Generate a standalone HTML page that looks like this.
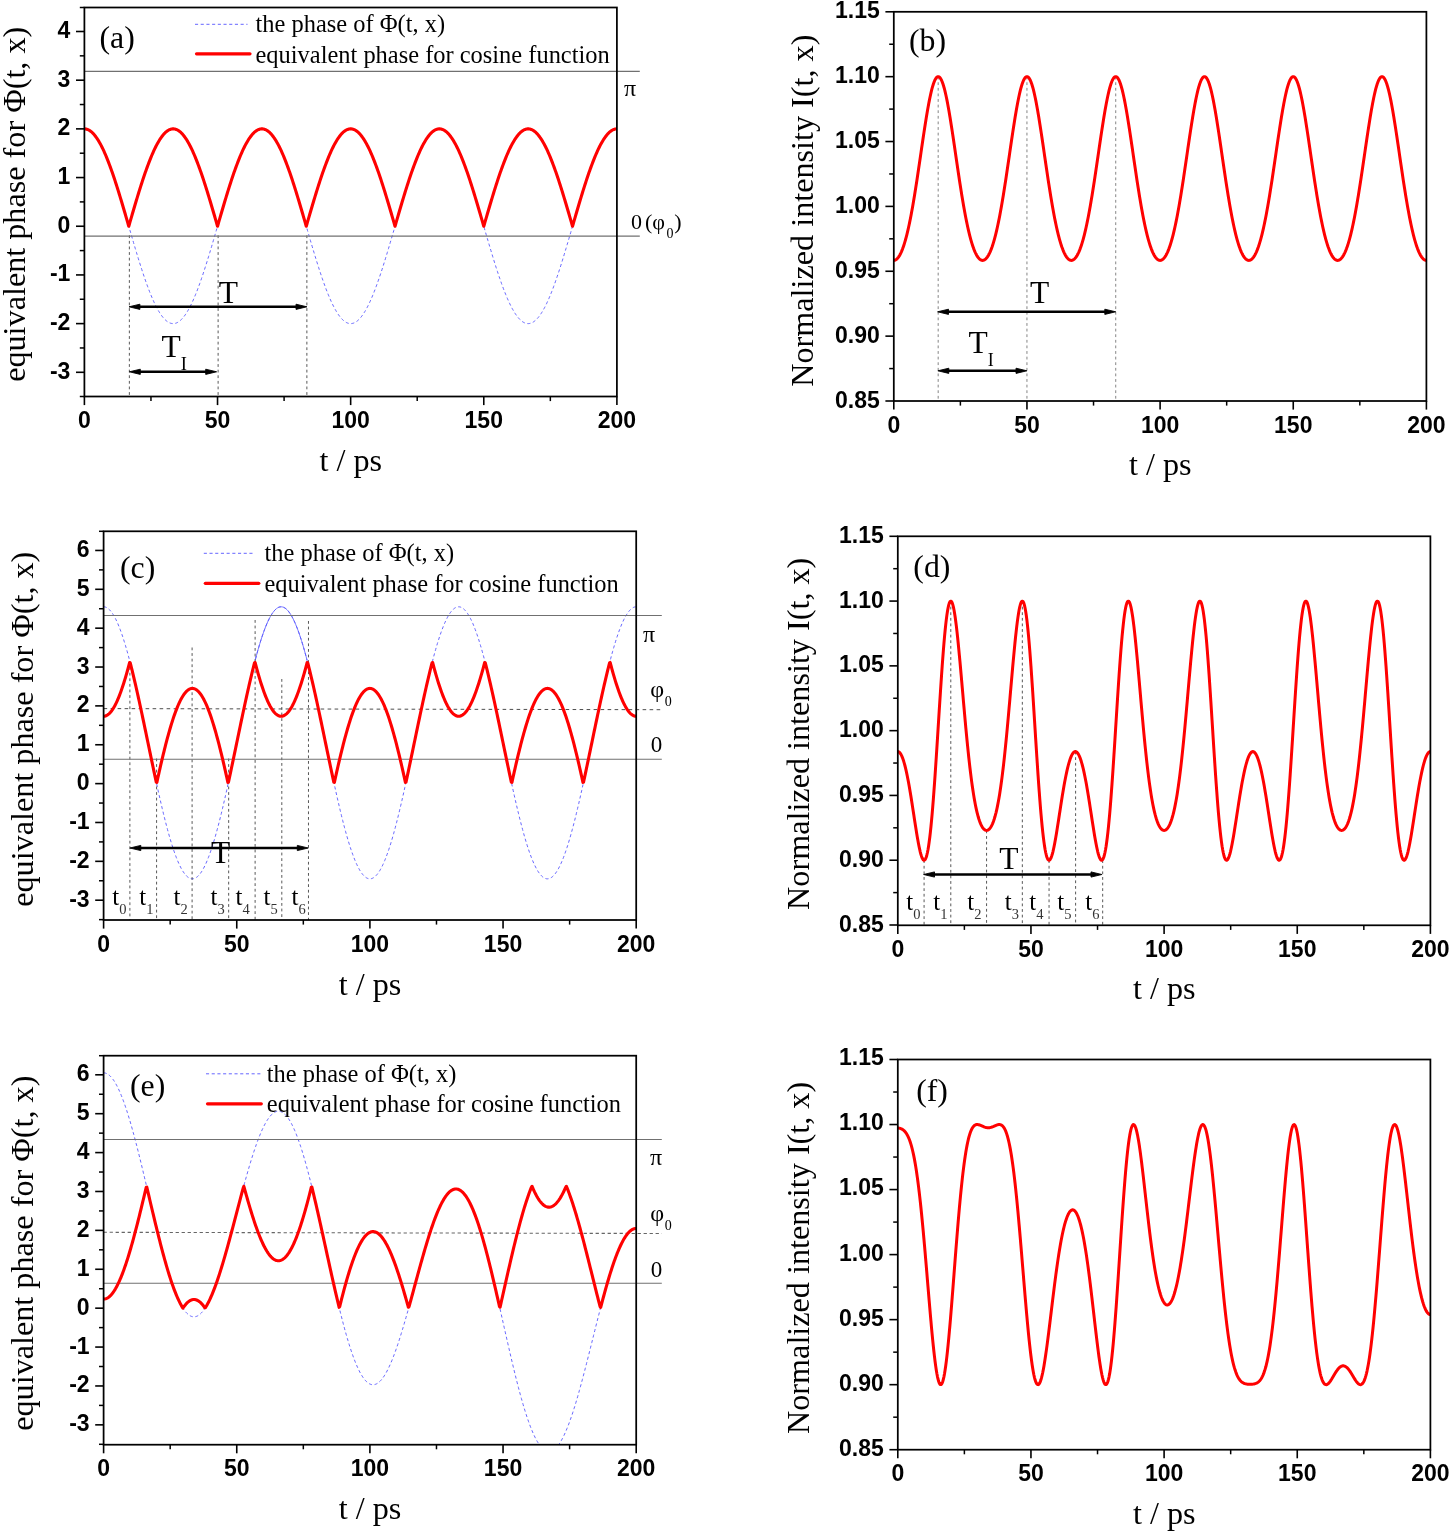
<!DOCTYPE html>
<html><head><meta charset="utf-8"><title>fig</title><style>
html,body{margin:0;padding:0;background:#fff;width:1451px;height:1532px;overflow:hidden}
svg{display:block;will-change:transform;opacity:0.999}
text{font-family:"Liberation Serif",serif;fill:#000}
.tk{font-family:"Liberation Sans",sans-serif;font-weight:bold;font-size:23px}
.ax{font-size:32.2px}
.lg{font-size:24.45px}
.pl{font-size:31.8px}
.T{font-size:31.5px}
.tl{font-size:25px}
.bl{stroke:#5555ff;stroke-width:0.9;stroke-dasharray:3.1 2.6}
.gl{stroke:#707070;stroke-width:1.1}
</style></head><body>
<svg width="1451" height="1532" viewBox="0 0 1451 1532">
<defs>
<clipPath id="cpa"><rect x="84.40" y="7.50" width="532.50" height="389.00"/></clipPath>
<clipPath id="cpb"><rect x="893.80" y="11.80" width="532.60" height="389.20"/></clipPath>
<clipPath id="cpc"><rect x="103.60" y="531.30" width="532.60" height="388.70"/></clipPath>
<clipPath id="cpd"><rect x="897.80" y="536.30" width="532.60" height="389.00"/></clipPath>
<clipPath id="cpe"><rect x="103.60" y="1055.70" width="532.60" height="389.00"/></clipPath>
<clipPath id="cpf"><rect x="897.80" y="1059.50" width="532.60" height="390.20"/></clipPath>
</defs>
<rect width="1451" height="1532" fill="#fff"/>
<g clip-path="url(#cpa)">
<path d="M84.40 128.87 L84.99 128.89 L85.58 128.96 L86.18 129.06 L86.77 129.21 L87.36 129.40 L87.95 129.64 L88.54 129.92 L89.13 130.24 L89.73 130.60 L90.32 131.00 L90.91 131.44 L91.50 131.93 L92.09 132.46 L92.68 133.03 L93.28 133.64 L93.87 134.29 L94.46 134.98 L95.05 135.71 L95.64 136.48 L96.23 137.29 L96.83 138.14 L97.42 139.03 L98.01 139.95 L98.60 140.92 L99.19 141.92 L99.78 142.95 L100.38 144.03 L100.97 145.14 L101.56 146.29 L102.15 147.47 L102.74 148.68 L103.33 149.93 L103.93 151.22 L104.52 152.53 L105.11 153.88 L105.70 155.26 L106.29 156.67 L106.88 158.12 L107.48 159.59 L108.07 161.09 L108.66 162.62 L109.25 164.18 L109.84 165.76 L110.43 167.37 L111.03 169.01 L111.62 170.67 L112.21 172.36 L112.80 174.07 L113.39 175.80 L113.98 177.56 L114.58 179.33 L115.17 181.13 L115.76 182.95 L116.35 184.78 L116.94 186.64 L117.53 188.51 L118.12 190.40 L118.72 192.30 L119.31 194.22 L119.90 196.15 L120.49 198.10 L121.08 200.06 L121.68 202.03 L122.27 204.01 L122.86 206.00 L123.45 208.00 L124.04 210.00 L124.63 212.02 L125.23 214.04 L125.82 216.06 L126.41 218.10 L127.00 220.13 L127.59 222.17 L128.18 224.20 L128.78 226.24 L129.37 228.28 L129.96 230.32 L130.55 232.36 L131.14 234.39 L131.73 236.42 L132.32 238.45 L132.92 240.47 L133.51 242.48 L134.10 244.49 L134.69 246.49 L135.28 248.48 L135.88 250.46 L136.47 252.43 L137.06 254.39 L137.65 256.33 L138.24 258.27 L138.83 260.18 L139.43 262.09 L140.02 263.98 L140.61 265.85 L141.20 267.70 L141.79 269.54 L142.38 271.35 L142.98 273.15 L143.57 274.93 L144.16 276.68 L144.75 278.42 L145.34 280.13 L145.93 281.81 L146.53 283.48 L147.12 285.11 L147.71 286.72 L148.30 288.31 L148.89 289.87 L149.48 291.40 L150.07 292.90 L150.67 294.37 L151.26 295.81 L151.85 297.22 L152.44 298.60 L153.03 299.95 L153.62 301.27 L154.22 302.55 L154.81 303.80 L155.40 305.02 L155.99 306.20 L156.58 307.35 L157.18 308.46 L157.77 309.53 L158.36 310.57 L158.95 311.57 L159.54 312.53 L160.13 313.46 L160.73 314.35 L161.32 315.20 L161.91 316.01 L162.50 316.78 L163.09 317.51 L163.68 318.20 L164.28 318.85 L164.87 319.46 L165.46 320.03 L166.05 320.56 L166.64 321.04 L167.23 321.49 L167.82 321.89 L168.42 322.25 L169.01 322.57 L169.60 322.85 L170.19 323.08 L170.78 323.27 L171.38 323.42 L171.97 323.53 L172.56 323.59 L173.15 323.61 L173.74 323.59 L174.33 323.53 L174.93 323.42 L175.52 323.27 L176.11 323.08 L176.70 322.85 L177.29 322.57 L177.88 322.25 L178.48 321.89 L179.07 321.49 L179.66 321.04 L180.25 320.56 L180.84 320.03 L181.43 319.46 L182.03 318.85 L182.62 318.20 L183.21 317.51 L183.80 316.78 L184.39 316.01 L184.98 315.20 L185.57 314.35 L186.17 313.46 L186.76 312.53 L187.35 311.57 L187.94 310.57 L188.53 309.53 L189.12 308.46 L189.72 307.35 L190.31 306.20 L190.90 305.02 L191.49 303.80 L192.08 302.55 L192.68 301.27 L193.27 299.95 L193.86 298.60 L194.45 297.22 L195.04 295.81 L195.63 294.37 L196.23 292.90 L196.82 291.40 L197.41 289.87 L198.00 288.31 L198.59 286.72 L199.18 285.11 L199.78 283.48 L200.37 281.81 L200.96 280.13 L201.55 278.42 L202.14 276.68 L202.73 274.93 L203.32 273.15 L203.92 271.35 L204.51 269.54 L205.10 267.70 L205.69 265.85 L206.28 263.98 L206.88 262.09 L207.47 260.18 L208.06 258.27 L208.65 256.33 L209.24 254.39 L209.83 252.43 L210.43 250.46 L211.02 248.48 L211.61 246.49 L212.20 244.49 L212.79 242.48 L213.38 240.47 L213.97 238.45 L214.57 236.42 L215.16 234.39 L215.75 232.36 L216.34 230.32 L216.93 228.28 L217.53 226.24 L218.12 224.20 L218.71 222.17 L219.30 220.13 L219.89 218.10 L220.48 216.06 L221.08 214.04 L221.67 212.02 L222.26 210.00 L222.85 208.00 L223.44 206.00 L224.03 204.01 L224.62 202.03 L225.22 200.06 L225.81 198.10 L226.40 196.15 L226.99 194.22 L227.58 192.30 L228.18 190.40 L228.77 188.51 L229.36 186.64 L229.95 184.78 L230.54 182.95 L231.13 181.13 L231.72 179.33 L232.32 177.56 L232.91 175.80 L233.50 174.07 L234.09 172.36 L234.68 170.67 L235.28 169.01 L235.87 167.37 L236.46 165.76 L237.05 164.18 L237.64 162.62 L238.23 161.09 L238.83 159.59 L239.42 158.12 L240.01 156.67 L240.60 155.26 L241.19 153.88 L241.78 152.53 L242.38 151.22 L242.97 149.93 L243.56 148.68 L244.15 147.47 L244.74 146.29 L245.33 145.14 L245.93 144.03 L246.52 142.95 L247.11 141.92 L247.70 140.92 L248.29 139.95 L248.88 139.03 L249.47 138.14 L250.07 137.29 L250.66 136.48 L251.25 135.71 L251.84 134.98 L252.43 134.29 L253.03 133.64 L253.62 133.03 L254.21 132.46 L254.80 131.93 L255.39 131.44 L255.98 131.00 L256.58 130.60 L257.17 130.24 L257.76 129.92 L258.35 129.64 L258.94 129.40 L259.53 129.21 L260.12 129.06 L260.72 128.96 L261.31 128.89 L261.90 128.87 L262.49 128.89 L263.08 128.96 L263.68 129.06 L264.27 129.21 L264.86 129.40 L265.45 129.64 L266.04 129.92 L266.63 130.24 L267.23 130.60 L267.82 131.00 L268.41 131.44 L269.00 131.93 L269.59 132.46 L270.18 133.03 L270.77 133.64 L271.37 134.29 L271.96 134.98 L272.55 135.71 L273.14 136.48 L273.73 137.29 L274.33 138.14 L274.92 139.03 L275.51 139.95 L276.10 140.92 L276.69 141.92 L277.28 142.95 L277.88 144.03 L278.47 145.14 L279.06 146.29 L279.65 147.47 L280.24 148.68 L280.83 149.93 L281.43 151.22 L282.02 152.53 L282.61 153.88 L283.20 155.26 L283.79 156.67 L284.38 158.12 L284.98 159.59 L285.57 161.09 L286.16 162.62 L286.75 164.18 L287.34 165.76 L287.93 167.37 L288.52 169.01 L289.12 170.67 L289.71 172.36 L290.30 174.07 L290.89 175.80 L291.48 177.56 L292.08 179.33 L292.67 181.13 L293.26 182.95 L293.85 184.78 L294.44 186.64 L295.03 188.51 L295.62 190.40 L296.22 192.30 L296.81 194.22 L297.40 196.15 L297.99 198.10 L298.58 200.06 L299.18 202.03 L299.77 204.01 L300.36 206.00 L300.95 208.00 L301.54 210.00 L302.13 212.02 L302.73 214.04 L303.32 216.06 L303.91 218.10 L304.50 220.13 L305.09 222.17 L305.68 224.20 L306.27 226.24 L306.87 228.28 L307.46 230.32 L308.05 232.36 L308.64 234.39 L309.23 236.42 L309.83 238.45 L310.42 240.47 L311.01 242.48 L311.60 244.49 L312.19 246.49 L312.78 248.48 L313.38 250.46 L313.97 252.43 L314.56 254.39 L315.15 256.33 L315.74 258.27 L316.33 260.18 L316.93 262.09 L317.52 263.98 L318.11 265.85 L318.70 267.70 L319.29 269.54 L319.88 271.35 L320.48 273.15 L321.07 274.93 L321.66 276.68 L322.25 278.42 L322.84 280.13 L323.43 281.81 L324.02 283.48 L324.62 285.11 L325.21 286.72 L325.80 288.31 L326.39 289.87 L326.98 291.40 L327.58 292.90 L328.17 294.37 L328.76 295.81 L329.35 297.22 L329.94 298.60 L330.53 299.95 L331.12 301.27 L331.72 302.55 L332.31 303.80 L332.90 305.02 L333.49 306.20 L334.08 307.35 L334.68 308.46 L335.27 309.53 L335.86 310.57 L336.45 311.57 L337.04 312.53 L337.63 313.46 L338.23 314.35 L338.82 315.20 L339.41 316.01 L340.00 316.78 L340.59 317.51 L341.18 318.20 L341.77 318.85 L342.37 319.46 L342.96 320.03 L343.55 320.56 L344.14 321.04 L344.73 321.49 L345.33 321.89 L345.92 322.25 L346.51 322.57 L347.10 322.85 L347.69 323.08 L348.28 323.27 L348.88 323.42 L349.47 323.53 L350.06 323.59 L350.65 323.61 L351.24 323.59 L351.83 323.53 L352.42 323.42 L353.02 323.27 L353.61 323.08 L354.20 322.85 L354.79 322.57 L355.38 322.25 L355.98 321.89 L356.57 321.49 L357.16 321.04 L357.75 320.56 L358.34 320.03 L358.93 319.46 L359.52 318.85 L360.12 318.20 L360.71 317.51 L361.30 316.78 L361.89 316.01 L362.48 315.20 L363.08 314.35 L363.67 313.46 L364.26 312.53 L364.85 311.57 L365.44 310.57 L366.03 309.53 L366.62 308.46 L367.22 307.35 L367.81 306.20 L368.40 305.02 L368.99 303.80 L369.58 302.55 L370.17 301.27 L370.77 299.95 L371.36 298.60 L371.95 297.22 L372.54 295.81 L373.13 294.37 L373.73 292.90 L374.32 291.40 L374.91 289.87 L375.50 288.31 L376.09 286.72 L376.68 285.11 L377.27 283.48 L377.87 281.81 L378.46 280.13 L379.05 278.42 L379.64 276.68 L380.23 274.93 L380.83 273.15 L381.42 271.35 L382.01 269.54 L382.60 267.70 L383.19 265.85 L383.78 263.98 L384.38 262.09 L384.97 260.18 L385.56 258.27 L386.15 256.33 L386.74 254.39 L387.33 252.43 L387.92 250.46 L388.52 248.48 L389.11 246.49 L389.70 244.49 L390.29 242.48 L390.88 240.47 L391.48 238.45 L392.07 236.42 L392.66 234.39 L393.25 232.36 L393.84 230.32 L394.43 228.28 L395.02 226.24 L395.62 224.20 L396.21 222.17 L396.80 220.13 L397.39 218.10 L397.98 216.06 L398.58 214.04 L399.17 212.02 L399.76 210.00 L400.35 208.00 L400.94 206.00 L401.53 204.01 L402.12 202.03 L402.72 200.06 L403.31 198.10 L403.90 196.15 L404.49 194.22 L405.08 192.30 L405.67 190.40 L406.27 188.51 L406.86 186.64 L407.45 184.78 L408.04 182.95 L408.63 181.13 L409.23 179.33 L409.82 177.56 L410.41 175.80 L411.00 174.07 L411.59 172.36 L412.18 170.67 L412.77 169.01 L413.37 167.37 L413.96 165.76 L414.55 164.18 L415.14 162.62 L415.73 161.09 L416.33 159.59 L416.92 158.12 L417.51 156.67 L418.10 155.26 L418.69 153.88 L419.28 152.53 L419.88 151.22 L420.47 149.93 L421.06 148.68 L421.65 147.47 L422.24 146.29 L422.83 145.14 L423.42 144.03 L424.02 142.95 L424.61 141.92 L425.20 140.92 L425.79 139.95 L426.38 139.03 L426.98 138.14 L427.57 137.29 L428.16 136.48 L428.75 135.71 L429.34 134.98 L429.93 134.29 L430.52 133.64 L431.12 133.03 L431.71 132.46 L432.30 131.93 L432.89 131.44 L433.48 131.00 L434.08 130.60 L434.67 130.24 L435.26 129.92 L435.85 129.64 L436.44 129.40 L437.03 129.21 L437.62 129.06 L438.22 128.96 L438.81 128.89 L439.40 128.87 L439.99 128.89 L440.58 128.96 L441.17 129.06 L441.77 129.21 L442.36 129.40 L442.95 129.64 L443.54 129.92 L444.13 130.24 L444.73 130.60 L445.32 131.00 L445.91 131.44 L446.50 131.93 L447.09 132.46 L447.68 133.03 L448.27 133.64 L448.87 134.29 L449.46 134.98 L450.05 135.71 L450.64 136.48 L451.23 137.29 L451.83 138.14 L452.42 139.03 L453.01 139.95 L453.60 140.92 L454.19 141.92 L454.78 142.95 L455.38 144.03 L455.97 145.14 L456.56 146.29 L457.15 147.47 L457.74 148.68 L458.33 149.93 L458.92 151.22 L459.52 152.53 L460.11 153.88 L460.70 155.26 L461.29 156.67 L461.88 158.12 L462.48 159.59 L463.07 161.09 L463.66 162.62 L464.25 164.18 L464.84 165.76 L465.43 167.37 L466.02 169.01 L466.62 170.67 L467.21 172.36 L467.80 174.07 L468.39 175.80 L468.98 177.56 L469.58 179.33 L470.17 181.13 L470.76 182.95 L471.35 184.78 L471.94 186.64 L472.53 188.51 L473.12 190.40 L473.72 192.30 L474.31 194.22 L474.90 196.15 L475.49 198.10 L476.08 200.06 L476.67 202.03 L477.27 204.01 L477.86 206.00 L478.45 208.00 L479.04 210.00 L479.63 212.02 L480.23 214.04 L480.82 216.06 L481.41 218.10 L482.00 220.13 L482.59 222.17 L483.18 224.20 L483.77 226.24 L484.37 228.28 L484.96 230.32 L485.55 232.36 L486.14 234.39 L486.73 236.42 L487.33 238.45 L487.92 240.47 L488.51 242.48 L489.10 244.49 L489.69 246.49 L490.28 248.48 L490.88 250.46 L491.47 252.43 L492.06 254.39 L492.65 256.33 L493.24 258.27 L493.83 260.18 L494.42 262.09 L495.02 263.98 L495.61 265.85 L496.20 267.70 L496.79 269.54 L497.38 271.35 L497.98 273.15 L498.57 274.93 L499.16 276.68 L499.75 278.42 L500.34 280.13 L500.93 281.81 L501.52 283.48 L502.12 285.11 L502.71 286.72 L503.30 288.31 L503.89 289.87 L504.48 291.40 L505.08 292.90 L505.67 294.37 L506.26 295.81 L506.85 297.22 L507.44 298.60 L508.03 299.95 L508.62 301.27 L509.22 302.55 L509.81 303.80 L510.40 305.02 L510.99 306.20 L511.58 307.35 L512.17 308.46 L512.77 309.53 L513.36 310.57 L513.95 311.57 L514.54 312.53 L515.13 313.46 L515.73 314.35 L516.32 315.20 L516.91 316.01 L517.50 316.78 L518.09 317.51 L518.68 318.20 L519.27 318.85 L519.87 319.46 L520.46 320.03 L521.05 320.56 L521.64 321.04 L522.23 321.49 L522.83 321.89 L523.42 322.25 L524.01 322.57 L524.60 322.85 L525.19 323.08 L525.78 323.27 L526.38 323.42 L526.97 323.53 L527.56 323.59 L528.15 323.61 L528.74 323.59 L529.33 323.53 L529.92 323.42 L530.52 323.27 L531.11 323.08 L531.70 322.85 L532.29 322.57 L532.88 322.25 L533.48 321.89 L534.07 321.49 L534.66 321.04 L535.25 320.56 L535.84 320.03 L536.43 319.46 L537.02 318.85 L537.62 318.20 L538.21 317.51 L538.80 316.78 L539.39 316.01 L539.98 315.20 L540.58 314.35 L541.17 313.46 L541.76 312.53 L542.35 311.57 L542.94 310.57 L543.53 309.53 L544.12 308.46 L544.72 307.35 L545.31 306.20 L545.90 305.02 L546.49 303.80 L547.08 302.55 L547.67 301.27 L548.27 299.95 L548.86 298.60 L549.45 297.22 L550.04 295.81 L550.63 294.37 L551.23 292.90 L551.82 291.40 L552.41 289.87 L553.00 288.31 L553.59 286.72 L554.18 285.11 L554.77 283.48 L555.37 281.81 L555.96 280.13 L556.55 278.42 L557.14 276.68 L557.73 274.93 L558.33 273.15 L558.92 271.35 L559.51 269.54 L560.10 267.70 L560.69 265.85 L561.28 263.98 L561.88 262.09 L562.47 260.18 L563.06 258.27 L563.65 256.33 L564.24 254.39 L564.83 252.43 L565.42 250.46 L566.02 248.48 L566.61 246.49 L567.20 244.49 L567.79 242.48 L568.38 240.47 L568.98 238.45 L569.57 236.42 L570.16 234.39 L570.75 232.36 L571.34 230.32 L571.93 228.28 L572.52 226.24 L573.12 224.20 L573.71 222.17 L574.30 220.13 L574.89 218.10 L575.48 216.06 L576.08 214.04 L576.67 212.02 L577.26 210.00 L577.85 208.00 L578.44 206.00 L579.03 204.01 L579.62 202.03 L580.22 200.06 L580.81 198.10 L581.40 196.15 L581.99 194.22 L582.58 192.30 L583.17 190.40 L583.77 188.51 L584.36 186.64 L584.95 184.78 L585.54 182.95 L586.13 181.13 L586.73 179.33 L587.32 177.56 L587.91 175.80 L588.50 174.07 L589.09 172.36 L589.68 170.67 L590.27 169.01 L590.87 167.37 L591.46 165.76 L592.05 164.18 L592.64 162.62 L593.23 161.09 L593.83 159.59 L594.42 158.12 L595.01 156.67 L595.60 155.26 L596.19 153.88 L596.78 152.53 L597.38 151.22 L597.97 149.93 L598.56 148.68 L599.15 147.47 L599.74 146.29 L600.33 145.14 L600.92 144.03 L601.52 142.95 L602.11 141.92 L602.70 140.92 L603.29 139.95 L603.88 139.03 L604.48 138.14 L605.07 137.29 L605.66 136.48 L606.25 135.71 L606.84 134.98 L607.43 134.29 L608.02 133.64 L608.62 133.03 L609.21 132.46 L609.80 131.93 L610.39 131.44 L610.98 131.00 L611.57 130.60 L612.17 130.24 L612.76 129.92 L613.35 129.64 L613.94 129.40 L614.53 129.21 L615.12 129.06 L615.72 128.96 L616.31 128.89 L616.90 128.87" class="bl" fill="none"/>
</g>
<line x1="129.36" y1="235.30" x2="129.36" y2="396.50" stroke="#3a3a3a" stroke-width="0.85" stroke-dasharray="2.8 2.8"/>
<line x1="218.11" y1="235.30" x2="218.11" y2="396.50" stroke="#3a3a3a" stroke-width="0.85" stroke-dasharray="2.8 2.8"/>
<line x1="306.86" y1="235.30" x2="306.86" y2="396.50" stroke="#3a3a3a" stroke-width="0.85" stroke-dasharray="2.8 2.8"/>
<line x1="84.40" y1="71.4" x2="639.8" y2="71.4" class="gl"/>
<line x1="84.40" y1="236.1" x2="639.8" y2="236.1" class="gl"/>
<path d="M84.40 128.87 L84.99 128.89 L85.58 128.96 L86.18 129.06 L86.77 129.21 L87.36 129.40 L87.95 129.64 L88.54 129.92 L89.13 130.24 L89.73 130.60 L90.32 131.00 L90.91 131.44 L91.50 131.93 L92.09 132.46 L92.68 133.03 L93.28 133.64 L93.87 134.29 L94.46 134.98 L95.05 135.71 L95.64 136.48 L96.23 137.29 L96.83 138.14 L97.42 139.03 L98.01 139.95 L98.60 140.92 L99.19 141.92 L99.78 142.95 L100.38 144.03 L100.97 145.14 L101.56 146.29 L102.15 147.47 L102.74 148.68 L103.33 149.93 L103.93 151.22 L104.52 152.53 L105.11 153.88 L105.70 155.26 L106.29 156.67 L106.88 158.12 L107.48 159.59 L108.07 161.09 L108.66 162.62 L109.25 164.18 L109.84 165.76 L110.43 167.37 L111.03 169.01 L111.62 170.67 L112.21 172.36 L112.80 174.07 L113.39 175.80 L113.98 177.56 L114.58 179.33 L115.17 181.13 L115.76 182.95 L116.35 184.78 L116.94 186.64 L117.53 188.51 L118.12 190.40 L118.72 192.30 L119.31 194.22 L119.90 196.15 L120.49 198.10 L121.08 200.06 L121.68 202.03 L122.27 204.01 L122.86 206.00 L123.45 208.00 L124.04 210.00 L124.63 212.02 L125.23 214.04 L125.82 216.06 L126.41 218.10 L127.00 220.13 L127.59 222.17 L128.18 224.20 L128.78 226.24 L129.37 224.20 L129.96 222.17 L130.55 220.13 L131.14 218.10 L131.73 216.06 L132.32 214.04 L132.92 212.02 L133.51 210.00 L134.10 208.00 L134.69 206.00 L135.28 204.01 L135.88 202.03 L136.47 200.06 L137.06 198.10 L137.65 196.15 L138.24 194.22 L138.83 192.30 L139.43 190.40 L140.02 188.51 L140.61 186.64 L141.20 184.78 L141.79 182.95 L142.38 181.13 L142.98 179.33 L143.57 177.56 L144.16 175.80 L144.75 174.07 L145.34 172.36 L145.93 170.67 L146.53 169.01 L147.12 167.37 L147.71 165.76 L148.30 164.18 L148.89 162.62 L149.48 161.09 L150.07 159.59 L150.67 158.12 L151.26 156.67 L151.85 155.26 L152.44 153.88 L153.03 152.53 L153.62 151.22 L154.22 149.93 L154.81 148.68 L155.40 147.47 L155.99 146.29 L156.58 145.14 L157.18 144.03 L157.77 142.95 L158.36 141.92 L158.95 140.92 L159.54 139.95 L160.13 139.03 L160.73 138.14 L161.32 137.29 L161.91 136.48 L162.50 135.71 L163.09 134.98 L163.68 134.29 L164.28 133.64 L164.87 133.03 L165.46 132.46 L166.05 131.93 L166.64 131.44 L167.23 131.00 L167.82 130.60 L168.42 130.24 L169.01 129.92 L169.60 129.64 L170.19 129.40 L170.78 129.21 L171.38 129.06 L171.97 128.96 L172.56 128.89 L173.15 128.87 L173.74 128.89 L174.33 128.96 L174.93 129.06 L175.52 129.21 L176.11 129.40 L176.70 129.64 L177.29 129.92 L177.88 130.24 L178.48 130.60 L179.07 131.00 L179.66 131.44 L180.25 131.93 L180.84 132.46 L181.43 133.03 L182.03 133.64 L182.62 134.29 L183.21 134.98 L183.80 135.71 L184.39 136.48 L184.98 137.29 L185.57 138.14 L186.17 139.03 L186.76 139.95 L187.35 140.92 L187.94 141.92 L188.53 142.95 L189.12 144.03 L189.72 145.14 L190.31 146.29 L190.90 147.47 L191.49 148.68 L192.08 149.93 L192.68 151.22 L193.27 152.53 L193.86 153.88 L194.45 155.26 L195.04 156.67 L195.63 158.12 L196.23 159.59 L196.82 161.09 L197.41 162.62 L198.00 164.18 L198.59 165.76 L199.18 167.37 L199.78 169.01 L200.37 170.67 L200.96 172.36 L201.55 174.07 L202.14 175.80 L202.73 177.56 L203.32 179.33 L203.92 181.13 L204.51 182.95 L205.10 184.78 L205.69 186.64 L206.28 188.51 L206.88 190.40 L207.47 192.30 L208.06 194.22 L208.65 196.15 L209.24 198.10 L209.83 200.06 L210.43 202.03 L211.02 204.01 L211.61 206.00 L212.20 208.00 L212.79 210.00 L213.38 212.02 L213.97 214.04 L214.57 216.06 L215.16 218.10 L215.75 220.13 L216.34 222.17 L216.93 224.20 L217.53 226.24 L218.12 224.20 L218.71 222.17 L219.30 220.13 L219.89 218.10 L220.48 216.06 L221.08 214.04 L221.67 212.02 L222.26 210.00 L222.85 208.00 L223.44 206.00 L224.03 204.01 L224.62 202.03 L225.22 200.06 L225.81 198.10 L226.40 196.15 L226.99 194.22 L227.58 192.30 L228.18 190.40 L228.77 188.51 L229.36 186.64 L229.95 184.78 L230.54 182.95 L231.13 181.13 L231.72 179.33 L232.32 177.56 L232.91 175.80 L233.50 174.07 L234.09 172.36 L234.68 170.67 L235.28 169.01 L235.87 167.37 L236.46 165.76 L237.05 164.18 L237.64 162.62 L238.23 161.09 L238.83 159.59 L239.42 158.12 L240.01 156.67 L240.60 155.26 L241.19 153.88 L241.78 152.53 L242.38 151.22 L242.97 149.93 L243.56 148.68 L244.15 147.47 L244.74 146.29 L245.33 145.14 L245.93 144.03 L246.52 142.95 L247.11 141.92 L247.70 140.92 L248.29 139.95 L248.88 139.03 L249.47 138.14 L250.07 137.29 L250.66 136.48 L251.25 135.71 L251.84 134.98 L252.43 134.29 L253.03 133.64 L253.62 133.03 L254.21 132.46 L254.80 131.93 L255.39 131.44 L255.98 131.00 L256.58 130.60 L257.17 130.24 L257.76 129.92 L258.35 129.64 L258.94 129.40 L259.53 129.21 L260.12 129.06 L260.72 128.96 L261.31 128.89 L261.90 128.87 L262.49 128.89 L263.08 128.96 L263.68 129.06 L264.27 129.21 L264.86 129.40 L265.45 129.64 L266.04 129.92 L266.63 130.24 L267.23 130.60 L267.82 131.00 L268.41 131.44 L269.00 131.93 L269.59 132.46 L270.18 133.03 L270.77 133.64 L271.37 134.29 L271.96 134.98 L272.55 135.71 L273.14 136.48 L273.73 137.29 L274.33 138.14 L274.92 139.03 L275.51 139.95 L276.10 140.92 L276.69 141.92 L277.28 142.95 L277.88 144.03 L278.47 145.14 L279.06 146.29 L279.65 147.47 L280.24 148.68 L280.83 149.93 L281.43 151.22 L282.02 152.53 L282.61 153.88 L283.20 155.26 L283.79 156.67 L284.38 158.12 L284.98 159.59 L285.57 161.09 L286.16 162.62 L286.75 164.18 L287.34 165.76 L287.93 167.37 L288.52 169.01 L289.12 170.67 L289.71 172.36 L290.30 174.07 L290.89 175.80 L291.48 177.56 L292.08 179.33 L292.67 181.13 L293.26 182.95 L293.85 184.78 L294.44 186.64 L295.03 188.51 L295.62 190.40 L296.22 192.30 L296.81 194.22 L297.40 196.15 L297.99 198.10 L298.58 200.06 L299.18 202.03 L299.77 204.01 L300.36 206.00 L300.95 208.00 L301.54 210.00 L302.13 212.02 L302.73 214.04 L303.32 216.06 L303.91 218.10 L304.50 220.13 L305.09 222.17 L305.68 224.20 L306.27 226.24 L306.87 224.20 L307.46 222.17 L308.05 220.13 L308.64 218.10 L309.23 216.06 L309.83 214.04 L310.42 212.02 L311.01 210.00 L311.60 208.00 L312.19 206.00 L312.78 204.01 L313.38 202.03 L313.97 200.06 L314.56 198.10 L315.15 196.15 L315.74 194.22 L316.33 192.30 L316.93 190.40 L317.52 188.51 L318.11 186.64 L318.70 184.78 L319.29 182.95 L319.88 181.13 L320.48 179.33 L321.07 177.56 L321.66 175.80 L322.25 174.07 L322.84 172.36 L323.43 170.67 L324.02 169.01 L324.62 167.37 L325.21 165.76 L325.80 164.18 L326.39 162.62 L326.98 161.09 L327.58 159.59 L328.17 158.12 L328.76 156.67 L329.35 155.26 L329.94 153.88 L330.53 152.53 L331.12 151.22 L331.72 149.93 L332.31 148.68 L332.90 147.47 L333.49 146.29 L334.08 145.14 L334.68 144.03 L335.27 142.95 L335.86 141.92 L336.45 140.92 L337.04 139.95 L337.63 139.03 L338.23 138.14 L338.82 137.29 L339.41 136.48 L340.00 135.71 L340.59 134.98 L341.18 134.29 L341.77 133.64 L342.37 133.03 L342.96 132.46 L343.55 131.93 L344.14 131.44 L344.73 131.00 L345.33 130.60 L345.92 130.24 L346.51 129.92 L347.10 129.64 L347.69 129.40 L348.28 129.21 L348.88 129.06 L349.47 128.96 L350.06 128.89 L350.65 128.87 L351.24 128.89 L351.83 128.96 L352.42 129.06 L353.02 129.21 L353.61 129.40 L354.20 129.64 L354.79 129.92 L355.38 130.24 L355.98 130.60 L356.57 131.00 L357.16 131.44 L357.75 131.93 L358.34 132.46 L358.93 133.03 L359.52 133.64 L360.12 134.29 L360.71 134.98 L361.30 135.71 L361.89 136.48 L362.48 137.29 L363.08 138.14 L363.67 139.03 L364.26 139.95 L364.85 140.92 L365.44 141.92 L366.03 142.95 L366.62 144.03 L367.22 145.14 L367.81 146.29 L368.40 147.47 L368.99 148.68 L369.58 149.93 L370.17 151.22 L370.77 152.53 L371.36 153.88 L371.95 155.26 L372.54 156.67 L373.13 158.12 L373.73 159.59 L374.32 161.09 L374.91 162.62 L375.50 164.18 L376.09 165.76 L376.68 167.37 L377.27 169.01 L377.87 170.67 L378.46 172.36 L379.05 174.07 L379.64 175.80 L380.23 177.56 L380.83 179.33 L381.42 181.13 L382.01 182.95 L382.60 184.78 L383.19 186.64 L383.78 188.51 L384.38 190.40 L384.97 192.30 L385.56 194.22 L386.15 196.15 L386.74 198.10 L387.33 200.06 L387.92 202.03 L388.52 204.01 L389.11 206.00 L389.70 208.00 L390.29 210.00 L390.88 212.02 L391.48 214.04 L392.07 216.06 L392.66 218.10 L393.25 220.13 L393.84 222.17 L394.43 224.20 L395.02 226.24 L395.62 224.20 L396.21 222.17 L396.80 220.13 L397.39 218.10 L397.98 216.06 L398.58 214.04 L399.17 212.02 L399.76 210.00 L400.35 208.00 L400.94 206.00 L401.53 204.01 L402.12 202.03 L402.72 200.06 L403.31 198.10 L403.90 196.15 L404.49 194.22 L405.08 192.30 L405.67 190.40 L406.27 188.51 L406.86 186.64 L407.45 184.78 L408.04 182.95 L408.63 181.13 L409.23 179.33 L409.82 177.56 L410.41 175.80 L411.00 174.07 L411.59 172.36 L412.18 170.67 L412.77 169.01 L413.37 167.37 L413.96 165.76 L414.55 164.18 L415.14 162.62 L415.73 161.09 L416.33 159.59 L416.92 158.12 L417.51 156.67 L418.10 155.26 L418.69 153.88 L419.28 152.53 L419.88 151.22 L420.47 149.93 L421.06 148.68 L421.65 147.47 L422.24 146.29 L422.83 145.14 L423.42 144.03 L424.02 142.95 L424.61 141.92 L425.20 140.92 L425.79 139.95 L426.38 139.03 L426.98 138.14 L427.57 137.29 L428.16 136.48 L428.75 135.71 L429.34 134.98 L429.93 134.29 L430.52 133.64 L431.12 133.03 L431.71 132.46 L432.30 131.93 L432.89 131.44 L433.48 131.00 L434.08 130.60 L434.67 130.24 L435.26 129.92 L435.85 129.64 L436.44 129.40 L437.03 129.21 L437.62 129.06 L438.22 128.96 L438.81 128.89 L439.40 128.87 L439.99 128.89 L440.58 128.96 L441.17 129.06 L441.77 129.21 L442.36 129.40 L442.95 129.64 L443.54 129.92 L444.13 130.24 L444.73 130.60 L445.32 131.00 L445.91 131.44 L446.50 131.93 L447.09 132.46 L447.68 133.03 L448.27 133.64 L448.87 134.29 L449.46 134.98 L450.05 135.71 L450.64 136.48 L451.23 137.29 L451.83 138.14 L452.42 139.03 L453.01 139.95 L453.60 140.92 L454.19 141.92 L454.78 142.95 L455.38 144.03 L455.97 145.14 L456.56 146.29 L457.15 147.47 L457.74 148.68 L458.33 149.93 L458.92 151.22 L459.52 152.53 L460.11 153.88 L460.70 155.26 L461.29 156.67 L461.88 158.12 L462.48 159.59 L463.07 161.09 L463.66 162.62 L464.25 164.18 L464.84 165.76 L465.43 167.37 L466.02 169.01 L466.62 170.67 L467.21 172.36 L467.80 174.07 L468.39 175.80 L468.98 177.56 L469.58 179.33 L470.17 181.13 L470.76 182.95 L471.35 184.78 L471.94 186.64 L472.53 188.51 L473.12 190.40 L473.72 192.30 L474.31 194.22 L474.90 196.15 L475.49 198.10 L476.08 200.06 L476.67 202.03 L477.27 204.01 L477.86 206.00 L478.45 208.00 L479.04 210.00 L479.63 212.02 L480.23 214.04 L480.82 216.06 L481.41 218.10 L482.00 220.13 L482.59 222.17 L483.18 224.20 L483.77 226.24 L484.37 224.20 L484.96 222.17 L485.55 220.13 L486.14 218.10 L486.73 216.06 L487.33 214.04 L487.92 212.02 L488.51 210.00 L489.10 208.00 L489.69 206.00 L490.28 204.01 L490.88 202.03 L491.47 200.06 L492.06 198.10 L492.65 196.15 L493.24 194.22 L493.83 192.30 L494.42 190.40 L495.02 188.51 L495.61 186.64 L496.20 184.78 L496.79 182.95 L497.38 181.13 L497.98 179.33 L498.57 177.56 L499.16 175.80 L499.75 174.07 L500.34 172.36 L500.93 170.67 L501.52 169.01 L502.12 167.37 L502.71 165.76 L503.30 164.18 L503.89 162.62 L504.48 161.09 L505.08 159.59 L505.67 158.12 L506.26 156.67 L506.85 155.26 L507.44 153.88 L508.03 152.53 L508.62 151.22 L509.22 149.93 L509.81 148.68 L510.40 147.47 L510.99 146.29 L511.58 145.14 L512.17 144.03 L512.77 142.95 L513.36 141.92 L513.95 140.92 L514.54 139.95 L515.13 139.03 L515.73 138.14 L516.32 137.29 L516.91 136.48 L517.50 135.71 L518.09 134.98 L518.68 134.29 L519.27 133.64 L519.87 133.03 L520.46 132.46 L521.05 131.93 L521.64 131.44 L522.23 131.00 L522.83 130.60 L523.42 130.24 L524.01 129.92 L524.60 129.64 L525.19 129.40 L525.78 129.21 L526.38 129.06 L526.97 128.96 L527.56 128.89 L528.15 128.87 L528.74 128.89 L529.33 128.96 L529.92 129.06 L530.52 129.21 L531.11 129.40 L531.70 129.64 L532.29 129.92 L532.88 130.24 L533.48 130.60 L534.07 131.00 L534.66 131.44 L535.25 131.93 L535.84 132.46 L536.43 133.03 L537.02 133.64 L537.62 134.29 L538.21 134.98 L538.80 135.71 L539.39 136.48 L539.98 137.29 L540.58 138.14 L541.17 139.03 L541.76 139.95 L542.35 140.92 L542.94 141.92 L543.53 142.95 L544.12 144.03 L544.72 145.14 L545.31 146.29 L545.90 147.47 L546.49 148.68 L547.08 149.93 L547.67 151.22 L548.27 152.53 L548.86 153.88 L549.45 155.26 L550.04 156.67 L550.63 158.12 L551.23 159.59 L551.82 161.09 L552.41 162.62 L553.00 164.18 L553.59 165.76 L554.18 167.37 L554.77 169.01 L555.37 170.67 L555.96 172.36 L556.55 174.07 L557.14 175.80 L557.73 177.56 L558.33 179.33 L558.92 181.13 L559.51 182.95 L560.10 184.78 L560.69 186.64 L561.28 188.51 L561.88 190.40 L562.47 192.30 L563.06 194.22 L563.65 196.15 L564.24 198.10 L564.83 200.06 L565.42 202.03 L566.02 204.01 L566.61 206.00 L567.20 208.00 L567.79 210.00 L568.38 212.02 L568.98 214.04 L569.57 216.06 L570.16 218.10 L570.75 220.13 L571.34 222.17 L571.93 224.20 L572.52 226.24 L573.12 224.20 L573.71 222.17 L574.30 220.13 L574.89 218.10 L575.48 216.06 L576.08 214.04 L576.67 212.02 L577.26 210.00 L577.85 208.00 L578.44 206.00 L579.03 204.01 L579.62 202.03 L580.22 200.06 L580.81 198.10 L581.40 196.15 L581.99 194.22 L582.58 192.30 L583.17 190.40 L583.77 188.51 L584.36 186.64 L584.95 184.78 L585.54 182.95 L586.13 181.13 L586.73 179.33 L587.32 177.56 L587.91 175.80 L588.50 174.07 L589.09 172.36 L589.68 170.67 L590.27 169.01 L590.87 167.37 L591.46 165.76 L592.05 164.18 L592.64 162.62 L593.23 161.09 L593.83 159.59 L594.42 158.12 L595.01 156.67 L595.60 155.26 L596.19 153.88 L596.78 152.53 L597.38 151.22 L597.97 149.93 L598.56 148.68 L599.15 147.47 L599.74 146.29 L600.33 145.14 L600.92 144.03 L601.52 142.95 L602.11 141.92 L602.70 140.92 L603.29 139.95 L603.88 139.03 L604.48 138.14 L605.07 137.29 L605.66 136.48 L606.25 135.71 L606.84 134.98 L607.43 134.29 L608.02 133.64 L608.62 133.03 L609.21 132.46 L609.80 131.93 L610.39 131.44 L610.98 131.00 L611.57 130.60 L612.17 130.24 L612.76 129.92 L613.35 129.64 L613.94 129.40 L614.53 129.21 L615.12 129.06 L615.72 128.96 L616.31 128.89 L616.90 128.87" stroke="#f00" stroke-width="3.1" fill="none" stroke-linejoin="round" clip-path="url(#cpa)"/>
<rect x="84.40" y="7.50" width="532.50" height="389.00" fill="none" stroke="#000" stroke-width="1.75"/>
<line x1="84.40" y1="396.50" x2="84.40" y2="405.10" stroke="#000" stroke-width="1.6"/>
<text x="84.40" y="427.90" class="tk" text-anchor="middle">0</text>
<line x1="217.53" y1="396.50" x2="217.53" y2="405.10" stroke="#000" stroke-width="1.6"/>
<text x="217.53" y="427.90" class="tk" text-anchor="middle">50</text>
<line x1="350.65" y1="396.50" x2="350.65" y2="405.10" stroke="#000" stroke-width="1.6"/>
<text x="350.65" y="427.90" class="tk" text-anchor="middle">100</text>
<line x1="483.77" y1="396.50" x2="483.77" y2="405.10" stroke="#000" stroke-width="1.6"/>
<text x="483.77" y="427.90" class="tk" text-anchor="middle">150</text>
<line x1="616.90" y1="396.50" x2="616.90" y2="405.10" stroke="#000" stroke-width="1.6"/>
<text x="616.90" y="427.90" class="tk" text-anchor="middle">200</text>
<line x1="150.96" y1="396.50" x2="150.96" y2="401.10" stroke="#000" stroke-width="1.5"/>
<line x1="284.09" y1="396.50" x2="284.09" y2="401.10" stroke="#000" stroke-width="1.5"/>
<line x1="417.21" y1="396.50" x2="417.21" y2="401.10" stroke="#000" stroke-width="1.5"/>
<line x1="550.34" y1="396.50" x2="550.34" y2="401.10" stroke="#000" stroke-width="1.5"/>
<line x1="76.00" y1="31.50" x2="84.40" y2="31.50" stroke="#000" stroke-width="1.6"/>
<text x="70.40" y="38.00" class="tk" text-anchor="end">4</text>
<line x1="76.00" y1="80.19" x2="84.40" y2="80.19" stroke="#000" stroke-width="1.6"/>
<text x="70.40" y="86.69" class="tk" text-anchor="end">3</text>
<line x1="76.00" y1="128.87" x2="84.40" y2="128.87" stroke="#000" stroke-width="1.6"/>
<text x="70.40" y="135.37" class="tk" text-anchor="end">2</text>
<line x1="76.00" y1="177.56" x2="84.40" y2="177.56" stroke="#000" stroke-width="1.6"/>
<text x="70.40" y="184.06" class="tk" text-anchor="end">1</text>
<line x1="76.00" y1="226.24" x2="84.40" y2="226.24" stroke="#000" stroke-width="1.6"/>
<text x="70.40" y="232.74" class="tk" text-anchor="end">0</text>
<line x1="76.00" y1="274.93" x2="84.40" y2="274.93" stroke="#000" stroke-width="1.6"/>
<text x="70.40" y="281.43" class="tk" text-anchor="end">-1</text>
<line x1="76.00" y1="323.61" x2="84.40" y2="323.61" stroke="#000" stroke-width="1.6"/>
<text x="70.40" y="330.11" class="tk" text-anchor="end">-2</text>
<line x1="76.00" y1="372.30" x2="84.40" y2="372.30" stroke="#000" stroke-width="1.6"/>
<text x="70.40" y="378.80" class="tk" text-anchor="end">-3</text>
<line x1="79.80" y1="7.50" x2="84.40" y2="7.50" stroke="#000" stroke-width="1.5"/>
<line x1="79.80" y1="55.84" x2="84.40" y2="55.84" stroke="#000" stroke-width="1.5"/>
<line x1="79.80" y1="104.53" x2="84.40" y2="104.53" stroke="#000" stroke-width="1.5"/>
<line x1="79.80" y1="153.21" x2="84.40" y2="153.21" stroke="#000" stroke-width="1.5"/>
<line x1="79.80" y1="201.90" x2="84.40" y2="201.90" stroke="#000" stroke-width="1.5"/>
<line x1="79.80" y1="250.59" x2="84.40" y2="250.59" stroke="#000" stroke-width="1.5"/>
<line x1="79.80" y1="299.27" x2="84.40" y2="299.27" stroke="#000" stroke-width="1.5"/>
<line x1="79.80" y1="347.96" x2="84.40" y2="347.96" stroke="#000" stroke-width="1.5"/>
<line x1="79.80" y1="396.50" x2="84.40" y2="396.50" stroke="#000" stroke-width="1.5"/>
<text x="350.85" y="470.70" class="ax" text-anchor="middle">t / ps</text>
<text transform="translate(25.00 204.30) rotate(-90)" class="ax" text-anchor="middle">equivalent phase for Φ(t, x)</text>
<line x1="138.90" y1="306.80" x2="297.00" y2="306.80" stroke="#000" stroke-width="2.4"/>
<path d="M129.00 306.80 L139.90 304.20 L139.90 309.40 Z" fill="#000" stroke="#000" stroke-width="0.9" stroke-linejoin="round"/>
<path d="M306.90 306.80 L296.00 304.20 L296.00 309.40 Z" fill="#000" stroke="#000" stroke-width="0.9" stroke-linejoin="round"/>
<line x1="139.30" y1="371.80" x2="206.70" y2="371.80" stroke="#000" stroke-width="2.4"/>
<path d="M129.40 371.80 L140.30 369.20 L140.30 374.40 Z" fill="#000" stroke="#000" stroke-width="0.9" stroke-linejoin="round"/>
<path d="M216.60 371.80 L205.70 369.20 L205.70 374.40 Z" fill="#000" stroke="#000" stroke-width="0.9" stroke-linejoin="round"/>
<text x="228.3" y="303.2" class="T" text-anchor="middle">T</text>
<text x="161.6" y="357.4" class="T">T<tspan font-size="18.5" dy="12.2">I</tspan></text>
<line x1="195.00" y1="24.30" x2="247.50" y2="24.30" class="bl"/>
<line x1="196.50" y1="53.80" x2="250.00" y2="53.80" stroke="#f00" stroke-width="3.2" stroke-linecap="round"/>
<text x="255.50" y="32.20" class="lg">the phase of Φ(t, x)</text>
<text x="255.50" y="62.90" class="lg">equivalent phase for cosine function</text>
<text x="99.5" y="48" class="pl">(a)</text>
<text x="624" y="96" class="rl" font-size="24">π</text>
<text x="631" y="228.8" class="rl" font-size="22">0<tspan dx="3">(φ</tspan><tspan font-size="14" dy="9" dx="1.5">0</tspan><tspan dy="-9" dx="0.6">)</tspan></text>
<line x1="938.18" y1="76.67" x2="938.18" y2="401.00" stroke="#666" stroke-width="0.80" stroke-dasharray="2.8 2.8"/>
<line x1="1026.95" y1="76.67" x2="1026.95" y2="401.00" stroke="#666" stroke-width="0.80" stroke-dasharray="2.8 2.8"/>
<line x1="1115.72" y1="76.67" x2="1115.72" y2="401.00" stroke="#666" stroke-width="0.80" stroke-dasharray="2.8 2.8"/>
<path d="M893.80 260.39 L894.39 260.34 L894.98 260.18 L895.58 259.92 L896.17 259.56 L896.76 259.09 L897.35 258.52 L897.94 257.84 L898.53 257.06 L899.13 256.18 L899.72 255.18 L900.31 254.08 L900.90 252.87 L901.49 251.56 L902.08 250.13 L902.68 248.60 L903.27 246.96 L903.86 245.21 L904.45 243.34 L905.04 241.37 L905.64 239.29 L906.23 237.09 L906.82 234.79 L907.41 232.38 L908.00 229.86 L908.59 227.23 L909.19 224.49 L909.78 221.65 L910.37 218.71 L910.96 215.67 L911.55 212.53 L912.15 209.29 L912.74 205.96 L913.33 202.54 L913.92 199.03 L914.51 195.45 L915.10 191.79 L915.70 188.06 L916.29 184.26 L916.88 180.41 L917.47 176.50 L918.06 172.55 L918.65 168.56 L919.25 164.54 L919.84 160.50 L920.43 156.45 L921.02 152.39 L921.61 148.34 L922.21 144.30 L922.80 140.29 L923.39 136.30 L923.98 132.37 L924.57 128.49 L925.16 124.67 L925.76 120.93 L926.35 117.28 L926.94 113.72 L927.53 110.27 L928.12 106.94 L928.71 103.73 L929.31 100.66 L929.90 97.75 L930.49 94.98 L931.08 92.39 L931.67 89.96 L932.27 87.72 L932.86 85.67 L933.45 83.82 L934.04 82.16 L934.63 80.72 L935.22 79.49 L935.82 78.48 L936.41 77.69 L937.00 77.12 L937.59 76.78 L938.18 76.67 L938.78 76.78 L939.37 77.12 L939.96 77.69 L940.55 78.48 L941.14 79.49 L941.73 80.72 L942.33 82.16 L942.92 83.82 L943.51 85.67 L944.10 87.72 L944.69 89.96 L945.28 92.39 L945.88 94.98 L946.47 97.75 L947.06 100.66 L947.65 103.73 L948.24 106.94 L948.84 110.27 L949.43 113.72 L950.02 117.28 L950.61 120.93 L951.20 124.67 L951.79 128.49 L952.39 132.37 L952.98 136.30 L953.57 140.29 L954.16 144.30 L954.75 148.34 L955.34 152.39 L955.94 156.45 L956.53 160.50 L957.12 164.54 L957.71 168.56 L958.30 172.55 L958.90 176.50 L959.49 180.41 L960.08 184.26 L960.67 188.06 L961.26 191.79 L961.85 195.45 L962.45 199.03 L963.04 202.54 L963.63 205.96 L964.22 209.29 L964.81 212.53 L965.41 215.67 L966.00 218.71 L966.59 221.65 L967.18 224.49 L967.77 227.23 L968.36 229.86 L968.96 232.38 L969.55 234.79 L970.14 237.09 L970.73 239.29 L971.32 241.37 L971.91 243.34 L972.51 245.21 L973.10 246.96 L973.69 248.60 L974.28 250.13 L974.87 251.56 L975.47 252.87 L976.06 254.08 L976.65 255.18 L977.24 256.18 L977.83 257.06 L978.42 257.84 L979.02 258.52 L979.61 259.09 L980.20 259.56 L980.79 259.92 L981.38 260.18 L981.97 260.34 L982.57 260.39 L983.16 260.34 L983.75 260.18 L984.34 259.92 L984.93 259.56 L985.53 259.09 L986.12 258.52 L986.71 257.84 L987.30 257.06 L987.89 256.18 L988.48 255.18 L989.08 254.08 L989.67 252.87 L990.26 251.56 L990.85 250.13 L991.44 248.60 L992.04 246.96 L992.63 245.21 L993.22 243.34 L993.81 241.37 L994.40 239.29 L994.99 237.09 L995.59 234.79 L996.18 232.38 L996.77 229.86 L997.36 227.23 L997.95 224.49 L998.54 221.65 L999.14 218.71 L999.73 215.67 L1000.32 212.53 L1000.91 209.29 L1001.50 205.96 L1002.10 202.54 L1002.69 199.03 L1003.28 195.45 L1003.87 191.79 L1004.46 188.06 L1005.05 184.26 L1005.65 180.41 L1006.24 176.50 L1006.83 172.55 L1007.42 168.56 L1008.01 164.54 L1008.60 160.50 L1009.20 156.45 L1009.79 152.39 L1010.38 148.34 L1010.97 144.30 L1011.56 140.29 L1012.16 136.30 L1012.75 132.37 L1013.34 128.49 L1013.93 124.67 L1014.52 120.93 L1015.11 117.28 L1015.71 113.72 L1016.30 110.27 L1016.89 106.94 L1017.48 103.73 L1018.07 100.66 L1018.67 97.75 L1019.26 94.98 L1019.85 92.39 L1020.44 89.96 L1021.03 87.72 L1021.62 85.67 L1022.22 83.82 L1022.81 82.16 L1023.40 80.72 L1023.99 79.49 L1024.58 78.48 L1025.17 77.69 L1025.77 77.12 L1026.36 76.78 L1026.95 76.67 L1027.54 76.78 L1028.13 77.12 L1028.73 77.69 L1029.32 78.48 L1029.91 79.49 L1030.50 80.72 L1031.09 82.16 L1031.68 83.82 L1032.28 85.67 L1032.87 87.72 L1033.46 89.96 L1034.05 92.39 L1034.64 94.98 L1035.23 97.75 L1035.83 100.66 L1036.42 103.73 L1037.01 106.94 L1037.60 110.27 L1038.19 113.72 L1038.79 117.28 L1039.38 120.93 L1039.97 124.67 L1040.56 128.49 L1041.15 132.37 L1041.74 136.30 L1042.34 140.29 L1042.93 144.30 L1043.52 148.34 L1044.11 152.39 L1044.70 156.45 L1045.30 160.50 L1045.89 164.54 L1046.48 168.56 L1047.07 172.55 L1047.66 176.50 L1048.25 180.41 L1048.85 184.26 L1049.44 188.06 L1050.03 191.79 L1050.62 195.45 L1051.21 199.03 L1051.80 202.54 L1052.40 205.96 L1052.99 209.29 L1053.58 212.53 L1054.17 215.67 L1054.76 218.71 L1055.36 221.65 L1055.95 224.49 L1056.54 227.23 L1057.13 229.86 L1057.72 232.38 L1058.31 234.79 L1058.91 237.09 L1059.50 239.29 L1060.09 241.37 L1060.68 243.34 L1061.27 245.21 L1061.86 246.96 L1062.46 248.60 L1063.05 250.13 L1063.64 251.56 L1064.23 252.87 L1064.82 254.08 L1065.42 255.18 L1066.01 256.18 L1066.60 257.06 L1067.19 257.84 L1067.78 258.52 L1068.37 259.09 L1068.97 259.56 L1069.56 259.92 L1070.15 260.18 L1070.74 260.34 L1071.33 260.39 L1071.93 260.34 L1072.52 260.18 L1073.11 259.92 L1073.70 259.56 L1074.29 259.09 L1074.88 258.52 L1075.48 257.84 L1076.07 257.06 L1076.66 256.18 L1077.25 255.18 L1077.84 254.08 L1078.43 252.87 L1079.03 251.56 L1079.62 250.13 L1080.21 248.60 L1080.80 246.96 L1081.39 245.21 L1081.99 243.34 L1082.58 241.37 L1083.17 239.29 L1083.76 237.09 L1084.35 234.79 L1084.94 232.38 L1085.54 229.86 L1086.13 227.23 L1086.72 224.49 L1087.31 221.65 L1087.90 218.71 L1088.49 215.67 L1089.09 212.53 L1089.68 209.29 L1090.27 205.96 L1090.86 202.54 L1091.45 199.03 L1092.05 195.45 L1092.64 191.79 L1093.23 188.06 L1093.82 184.26 L1094.41 180.41 L1095.00 176.50 L1095.60 172.55 L1096.19 168.56 L1096.78 164.54 L1097.37 160.50 L1097.96 156.45 L1098.56 152.39 L1099.15 148.34 L1099.74 144.30 L1100.33 140.29 L1100.92 136.30 L1101.51 132.37 L1102.11 128.49 L1102.70 124.67 L1103.29 120.93 L1103.88 117.28 L1104.47 113.72 L1105.06 110.27 L1105.66 106.94 L1106.25 103.73 L1106.84 100.66 L1107.43 97.75 L1108.02 94.98 L1108.62 92.39 L1109.21 89.96 L1109.80 87.72 L1110.39 85.67 L1110.98 83.82 L1111.57 82.16 L1112.17 80.72 L1112.76 79.49 L1113.35 78.48 L1113.94 77.69 L1114.53 77.12 L1115.12 76.78 L1115.72 76.67 L1116.31 76.78 L1116.90 77.12 L1117.49 77.69 L1118.08 78.48 L1118.68 79.49 L1119.27 80.72 L1119.86 82.16 L1120.45 83.82 L1121.04 85.67 L1121.63 87.72 L1122.23 89.96 L1122.82 92.39 L1123.41 94.98 L1124.00 97.75 L1124.59 100.66 L1125.19 103.73 L1125.78 106.94 L1126.37 110.27 L1126.96 113.72 L1127.55 117.28 L1128.14 120.93 L1128.74 124.67 L1129.33 128.49 L1129.92 132.37 L1130.51 136.30 L1131.10 140.29 L1131.69 144.30 L1132.29 148.34 L1132.88 152.39 L1133.47 156.45 L1134.06 160.50 L1134.65 164.54 L1135.25 168.56 L1135.84 172.55 L1136.43 176.50 L1137.02 180.41 L1137.61 184.26 L1138.20 188.06 L1138.80 191.79 L1139.39 195.45 L1139.98 199.03 L1140.57 202.54 L1141.16 205.96 L1141.75 209.29 L1142.35 212.53 L1142.94 215.67 L1143.53 218.71 L1144.12 221.65 L1144.71 224.49 L1145.31 227.23 L1145.90 229.86 L1146.49 232.38 L1147.08 234.79 L1147.67 237.09 L1148.26 239.29 L1148.86 241.37 L1149.45 243.34 L1150.04 245.21 L1150.63 246.96 L1151.22 248.60 L1151.82 250.13 L1152.41 251.56 L1153.00 252.87 L1153.59 254.08 L1154.18 255.18 L1154.77 256.18 L1155.37 257.06 L1155.96 257.84 L1156.55 258.52 L1157.14 259.09 L1157.73 259.56 L1158.32 259.92 L1158.92 260.18 L1159.51 260.34 L1160.10 260.39 L1160.69 260.34 L1161.28 260.18 L1161.88 259.92 L1162.47 259.56 L1163.06 259.09 L1163.65 258.52 L1164.24 257.84 L1164.83 257.06 L1165.43 256.18 L1166.02 255.18 L1166.61 254.08 L1167.20 252.87 L1167.79 251.56 L1168.38 250.13 L1168.98 248.60 L1169.57 246.96 L1170.16 245.21 L1170.75 243.34 L1171.34 241.37 L1171.94 239.29 L1172.53 237.09 L1173.12 234.79 L1173.71 232.38 L1174.30 229.86 L1174.89 227.23 L1175.49 224.49 L1176.08 221.65 L1176.67 218.71 L1177.26 215.67 L1177.85 212.53 L1178.45 209.29 L1179.04 205.96 L1179.63 202.54 L1180.22 199.03 L1180.81 195.45 L1181.40 191.79 L1182.00 188.06 L1182.59 184.26 L1183.18 180.41 L1183.77 176.50 L1184.36 172.55 L1184.95 168.56 L1185.55 164.54 L1186.14 160.50 L1186.73 156.45 L1187.32 152.39 L1187.91 148.34 L1188.51 144.30 L1189.10 140.29 L1189.69 136.30 L1190.28 132.37 L1190.87 128.49 L1191.46 124.67 L1192.06 120.93 L1192.65 117.28 L1193.24 113.72 L1193.83 110.27 L1194.42 106.94 L1195.01 103.73 L1195.61 100.66 L1196.20 97.75 L1196.79 94.98 L1197.38 92.39 L1197.97 89.96 L1198.57 87.72 L1199.16 85.67 L1199.75 83.82 L1200.34 82.16 L1200.93 80.72 L1201.52 79.49 L1202.12 78.48 L1202.71 77.69 L1203.30 77.12 L1203.89 76.78 L1204.48 76.67 L1205.08 76.78 L1205.67 77.12 L1206.26 77.69 L1206.85 78.48 L1207.44 79.49 L1208.03 80.72 L1208.63 82.16 L1209.22 83.82 L1209.81 85.67 L1210.40 87.72 L1210.99 89.96 L1211.58 92.39 L1212.18 94.98 L1212.77 97.75 L1213.36 100.66 L1213.95 103.73 L1214.54 106.94 L1215.14 110.27 L1215.73 113.72 L1216.32 117.28 L1216.91 120.93 L1217.50 124.67 L1218.09 128.49 L1218.69 132.37 L1219.28 136.30 L1219.87 140.29 L1220.46 144.30 L1221.05 148.34 L1221.64 152.39 L1222.24 156.45 L1222.83 160.50 L1223.42 164.54 L1224.01 168.56 L1224.60 172.55 L1225.20 176.50 L1225.79 180.41 L1226.38 184.26 L1226.97 188.06 L1227.56 191.79 L1228.15 195.45 L1228.75 199.03 L1229.34 202.54 L1229.93 205.96 L1230.52 209.29 L1231.11 212.53 L1231.71 215.67 L1232.30 218.71 L1232.89 221.65 L1233.48 224.49 L1234.07 227.23 L1234.66 229.86 L1235.26 232.38 L1235.85 234.79 L1236.44 237.09 L1237.03 239.29 L1237.62 241.37 L1238.21 243.34 L1238.81 245.21 L1239.40 246.96 L1239.99 248.60 L1240.58 250.13 L1241.17 251.56 L1241.77 252.87 L1242.36 254.08 L1242.95 255.18 L1243.54 256.18 L1244.13 257.06 L1244.72 257.84 L1245.32 258.52 L1245.91 259.09 L1246.50 259.56 L1247.09 259.92 L1247.68 260.18 L1248.27 260.34 L1248.87 260.39 L1249.46 260.34 L1250.05 260.18 L1250.64 259.92 L1251.23 259.56 L1251.83 259.09 L1252.42 258.52 L1253.01 257.84 L1253.60 257.06 L1254.19 256.18 L1254.78 255.18 L1255.38 254.08 L1255.97 252.87 L1256.56 251.56 L1257.15 250.13 L1257.74 248.60 L1258.34 246.96 L1258.93 245.21 L1259.52 243.34 L1260.11 241.37 L1260.70 239.29 L1261.29 237.09 L1261.89 234.79 L1262.48 232.38 L1263.07 229.86 L1263.66 227.23 L1264.25 224.49 L1264.84 221.65 L1265.44 218.71 L1266.03 215.67 L1266.62 212.53 L1267.21 209.29 L1267.80 205.96 L1268.40 202.54 L1268.99 199.03 L1269.58 195.45 L1270.17 191.79 L1270.76 188.06 L1271.35 184.26 L1271.95 180.41 L1272.54 176.50 L1273.13 172.55 L1273.72 168.56 L1274.31 164.54 L1274.90 160.50 L1275.50 156.45 L1276.09 152.39 L1276.68 148.34 L1277.27 144.30 L1277.86 140.29 L1278.46 136.30 L1279.05 132.37 L1279.64 128.49 L1280.23 124.67 L1280.82 120.93 L1281.41 117.28 L1282.01 113.72 L1282.60 110.27 L1283.19 106.94 L1283.78 103.73 L1284.37 100.66 L1284.97 97.75 L1285.56 94.98 L1286.15 92.39 L1286.74 89.96 L1287.33 87.72 L1287.92 85.67 L1288.52 83.82 L1289.11 82.16 L1289.70 80.72 L1290.29 79.49 L1290.88 78.48 L1291.47 77.69 L1292.07 77.12 L1292.66 76.78 L1293.25 76.67 L1293.84 76.78 L1294.43 77.12 L1295.03 77.69 L1295.62 78.48 L1296.21 79.49 L1296.80 80.72 L1297.39 82.16 L1297.98 83.82 L1298.58 85.67 L1299.17 87.72 L1299.76 89.96 L1300.35 92.39 L1300.94 94.98 L1301.53 97.75 L1302.13 100.66 L1302.72 103.73 L1303.31 106.94 L1303.90 110.27 L1304.49 113.72 L1305.09 117.28 L1305.68 120.93 L1306.27 124.67 L1306.86 128.49 L1307.45 132.37 L1308.04 136.30 L1308.64 140.29 L1309.23 144.30 L1309.82 148.34 L1310.41 152.39 L1311.00 156.45 L1311.60 160.50 L1312.19 164.54 L1312.78 168.56 L1313.37 172.55 L1313.96 176.50 L1314.55 180.41 L1315.15 184.26 L1315.74 188.06 L1316.33 191.79 L1316.92 195.45 L1317.51 199.03 L1318.10 202.54 L1318.70 205.96 L1319.29 209.29 L1319.88 212.53 L1320.47 215.67 L1321.06 218.71 L1321.66 221.65 L1322.25 224.49 L1322.84 227.23 L1323.43 229.86 L1324.02 232.38 L1324.61 234.79 L1325.21 237.09 L1325.80 239.29 L1326.39 241.37 L1326.98 243.34 L1327.57 245.21 L1328.16 246.96 L1328.76 248.60 L1329.35 250.13 L1329.94 251.56 L1330.53 252.87 L1331.12 254.08 L1331.72 255.18 L1332.31 256.18 L1332.90 257.06 L1333.49 257.84 L1334.08 258.52 L1334.67 259.09 L1335.27 259.56 L1335.86 259.92 L1336.45 260.18 L1337.04 260.34 L1337.63 260.39 L1338.23 260.34 L1338.82 260.18 L1339.41 259.92 L1340.00 259.56 L1340.59 259.09 L1341.18 258.52 L1341.78 257.84 L1342.37 257.06 L1342.96 256.18 L1343.55 255.18 L1344.14 254.08 L1344.73 252.87 L1345.33 251.56 L1345.92 250.13 L1346.51 248.60 L1347.10 246.96 L1347.69 245.21 L1348.29 243.34 L1348.88 241.37 L1349.47 239.29 L1350.06 237.09 L1350.65 234.79 L1351.24 232.38 L1351.84 229.86 L1352.43 227.23 L1353.02 224.49 L1353.61 221.65 L1354.20 218.71 L1354.79 215.67 L1355.39 212.53 L1355.98 209.29 L1356.57 205.96 L1357.16 202.54 L1357.75 199.03 L1358.35 195.45 L1358.94 191.79 L1359.53 188.06 L1360.12 184.26 L1360.71 180.41 L1361.30 176.50 L1361.90 172.55 L1362.49 168.56 L1363.08 164.54 L1363.67 160.50 L1364.26 156.45 L1364.86 152.39 L1365.45 148.34 L1366.04 144.30 L1366.63 140.29 L1367.22 136.30 L1367.81 132.37 L1368.41 128.49 L1369.00 124.67 L1369.59 120.93 L1370.18 117.28 L1370.77 113.72 L1371.36 110.27 L1371.96 106.94 L1372.55 103.73 L1373.14 100.66 L1373.73 97.75 L1374.32 94.98 L1374.92 92.39 L1375.51 89.96 L1376.10 87.72 L1376.69 85.67 L1377.28 83.82 L1377.87 82.16 L1378.47 80.72 L1379.06 79.49 L1379.65 78.48 L1380.24 77.69 L1380.83 77.12 L1381.42 76.78 L1382.02 76.67 L1382.61 76.78 L1383.20 77.12 L1383.79 77.69 L1384.38 78.48 L1384.98 79.49 L1385.57 80.72 L1386.16 82.16 L1386.75 83.82 L1387.34 85.67 L1387.93 87.72 L1388.53 89.96 L1389.12 92.39 L1389.71 94.98 L1390.30 97.75 L1390.89 100.66 L1391.49 103.73 L1392.08 106.94 L1392.67 110.27 L1393.26 113.72 L1393.85 117.28 L1394.44 120.93 L1395.04 124.67 L1395.63 128.49 L1396.22 132.37 L1396.81 136.30 L1397.40 140.29 L1397.99 144.30 L1398.59 148.34 L1399.18 152.39 L1399.77 156.45 L1400.36 160.50 L1400.95 164.54 L1401.55 168.56 L1402.14 172.55 L1402.73 176.50 L1403.32 180.41 L1403.91 184.26 L1404.50 188.06 L1405.10 191.79 L1405.69 195.45 L1406.28 199.03 L1406.87 202.54 L1407.46 205.96 L1408.05 209.29 L1408.65 212.53 L1409.24 215.67 L1409.83 218.71 L1410.42 221.65 L1411.01 224.49 L1411.61 227.23 L1412.20 229.86 L1412.79 232.38 L1413.38 234.79 L1413.97 237.09 L1414.56 239.29 L1415.16 241.37 L1415.75 243.34 L1416.34 245.21 L1416.93 246.96 L1417.52 248.60 L1418.12 250.13 L1418.71 251.56 L1419.30 252.87 L1419.89 254.08 L1420.48 255.18 L1421.07 256.18 L1421.67 257.06 L1422.26 257.84 L1422.85 258.52 L1423.44 259.09 L1424.03 259.56 L1424.62 259.92 L1425.22 260.18 L1425.81 260.34 L1426.40 260.39" stroke="#f00" stroke-width="3.0" fill="none" stroke-linejoin="round" clip-path="url(#cpb)"/>
<rect x="893.80" y="11.80" width="532.60" height="389.20" fill="none" stroke="#000" stroke-width="1.75"/>
<line x1="893.80" y1="401.00" x2="893.80" y2="409.60" stroke="#000" stroke-width="1.6"/>
<text x="893.80" y="433.30" class="tk" text-anchor="middle">0</text>
<line x1="1026.95" y1="401.00" x2="1026.95" y2="409.60" stroke="#000" stroke-width="1.6"/>
<text x="1026.95" y="433.30" class="tk" text-anchor="middle">50</text>
<line x1="1160.10" y1="401.00" x2="1160.10" y2="409.60" stroke="#000" stroke-width="1.6"/>
<text x="1160.10" y="433.30" class="tk" text-anchor="middle">100</text>
<line x1="1293.25" y1="401.00" x2="1293.25" y2="409.60" stroke="#000" stroke-width="1.6"/>
<text x="1293.25" y="433.30" class="tk" text-anchor="middle">150</text>
<line x1="1426.40" y1="401.00" x2="1426.40" y2="409.60" stroke="#000" stroke-width="1.6"/>
<text x="1426.40" y="433.30" class="tk" text-anchor="middle">200</text>
<line x1="960.38" y1="401.00" x2="960.38" y2="405.60" stroke="#000" stroke-width="1.5"/>
<line x1="1093.53" y1="401.00" x2="1093.53" y2="405.60" stroke="#000" stroke-width="1.5"/>
<line x1="1226.67" y1="401.00" x2="1226.67" y2="405.60" stroke="#000" stroke-width="1.5"/>
<line x1="1359.83" y1="401.00" x2="1359.83" y2="405.60" stroke="#000" stroke-width="1.5"/>
<line x1="885.40" y1="11.80" x2="893.80" y2="11.80" stroke="#000" stroke-width="1.6"/>
<text x="879.80" y="18.30" class="tk" text-anchor="end">1.15</text>
<line x1="885.40" y1="76.67" x2="893.80" y2="76.67" stroke="#000" stroke-width="1.6"/>
<text x="879.80" y="83.17" class="tk" text-anchor="end">1.10</text>
<line x1="885.40" y1="141.53" x2="893.80" y2="141.53" stroke="#000" stroke-width="1.6"/>
<text x="879.80" y="148.03" class="tk" text-anchor="end">1.05</text>
<line x1="885.40" y1="206.40" x2="893.80" y2="206.40" stroke="#000" stroke-width="1.6"/>
<text x="879.80" y="212.90" class="tk" text-anchor="end">1.00</text>
<line x1="885.40" y1="271.27" x2="893.80" y2="271.27" stroke="#000" stroke-width="1.6"/>
<text x="879.80" y="277.77" class="tk" text-anchor="end">0.95</text>
<line x1="885.40" y1="336.13" x2="893.80" y2="336.13" stroke="#000" stroke-width="1.6"/>
<text x="879.80" y="342.63" class="tk" text-anchor="end">0.90</text>
<line x1="885.40" y1="401.00" x2="893.80" y2="401.00" stroke="#000" stroke-width="1.6"/>
<text x="879.80" y="407.50" class="tk" text-anchor="end">0.85</text>
<line x1="889.20" y1="44.23" x2="893.80" y2="44.23" stroke="#000" stroke-width="1.5"/>
<line x1="889.20" y1="109.10" x2="893.80" y2="109.10" stroke="#000" stroke-width="1.5"/>
<line x1="889.20" y1="173.97" x2="893.80" y2="173.97" stroke="#000" stroke-width="1.5"/>
<line x1="889.20" y1="238.83" x2="893.80" y2="238.83" stroke="#000" stroke-width="1.5"/>
<line x1="889.20" y1="303.70" x2="893.80" y2="303.70" stroke="#000" stroke-width="1.5"/>
<line x1="889.20" y1="368.57" x2="893.80" y2="368.57" stroke="#000" stroke-width="1.5"/>
<text x="1160.30" y="475.20" class="ax" text-anchor="middle">t / ps</text>
<text transform="translate(812.50 210.70) rotate(-90)" class="ax" text-anchor="middle">Normalized intensity I(t, x)</text>
<line x1="947.50" y1="311.80" x2="1105.80" y2="311.80" stroke="#000" stroke-width="2.4"/>
<path d="M937.60 311.80 L948.50 309.20 L948.50 314.40 Z" fill="#000" stroke="#000" stroke-width="0.9" stroke-linejoin="round"/>
<path d="M1115.70 311.80 L1104.80 309.20 L1104.80 314.40 Z" fill="#000" stroke="#000" stroke-width="0.9" stroke-linejoin="round"/>
<line x1="947.80" y1="370.80" x2="1017.00" y2="370.80" stroke="#000" stroke-width="2.4"/>
<path d="M937.90 370.80 L948.80 368.20 L948.80 373.40 Z" fill="#000" stroke="#000" stroke-width="0.9" stroke-linejoin="round"/>
<path d="M1026.90 370.80 L1016.00 368.20 L1016.00 373.40 Z" fill="#000" stroke="#000" stroke-width="0.9" stroke-linejoin="round"/>
<text x="1039.5" y="302.5" class="T" text-anchor="middle">T</text>
<text x="968.5" y="353" class="T">T<tspan font-size="18" dy="12.5">I</tspan></text>
<text x="909" y="50.8" class="pl">(b)</text>
<g clip-path="url(#cpc)">
<path d="M103.60 606.80 L104.19 606.83 L104.78 606.92 L105.38 607.07 L105.97 607.28 L106.56 607.54 L107.15 607.87 L107.74 608.26 L108.33 608.70 L108.93 609.21 L109.52 609.77 L110.11 610.39 L110.70 611.07 L111.29 611.81 L111.88 612.60 L112.48 613.46 L113.07 614.36 L113.66 615.33 L114.25 616.35 L114.84 617.43 L115.44 618.56 L116.03 619.74 L116.62 620.98 L117.21 622.28 L117.80 623.62 L118.39 625.02 L118.99 626.47 L119.58 627.97 L120.17 629.52 L120.76 631.12 L121.35 632.77 L121.95 634.47 L122.54 636.22 L123.13 638.01 L123.72 639.85 L124.31 641.73 L124.90 643.66 L125.50 645.63 L126.09 647.65 L126.68 649.70 L127.27 651.80 L127.86 653.94 L128.45 656.11 L129.05 658.33 L129.64 660.58 L130.23 662.87 L130.82 665.19 L131.41 667.54 L132.01 669.93 L132.60 672.35 L133.19 674.81 L133.78 677.29 L134.37 679.80 L134.96 682.34 L135.56 684.90 L136.15 687.49 L136.74 690.10 L137.33 692.74 L137.92 695.40 L138.51 698.08 L139.11 700.78 L139.70 703.50 L140.29 706.24 L140.88 708.99 L141.47 711.75 L142.07 714.53 L142.66 717.33 L143.25 720.13 L143.84 722.94 L144.43 725.77 L145.02 728.60 L145.62 731.43 L146.21 734.27 L146.80 737.12 L147.39 739.96 L147.98 742.81 L148.58 745.66 L149.17 748.51 L149.76 751.35 L150.35 754.19 L150.94 757.03 L151.53 759.86 L152.13 762.68 L152.72 765.50 L153.31 768.30 L153.90 771.09 L154.49 773.87 L155.08 776.64 L155.68 779.39 L156.27 782.12 L156.86 784.84 L157.45 787.54 L158.04 790.22 L158.64 792.88 L159.23 795.52 L159.82 798.13 L160.41 800.72 L161.00 803.29 L161.59 805.83 L162.19 808.34 L162.78 810.82 L163.37 813.27 L163.96 815.69 L164.55 818.08 L165.14 820.44 L165.74 822.76 L166.33 825.05 L166.92 827.30 L167.51 829.51 L168.10 831.69 L168.70 833.82 L169.29 835.92 L169.88 837.98 L170.47 839.99 L171.06 841.96 L171.65 843.89 L172.25 845.77 L172.84 847.61 L173.43 849.41 L174.02 851.15 L174.61 852.85 L175.21 854.50 L175.80 856.10 L176.39 857.65 L176.98 859.15 L177.57 860.60 L178.16 862.00 L178.76 863.35 L179.35 864.64 L179.94 865.88 L180.53 867.07 L181.12 868.20 L181.71 869.28 L182.31 870.30 L182.90 871.26 L183.49 872.17 L184.08 873.02 L184.67 873.82 L185.27 874.55 L185.86 875.23 L186.45 875.85 L187.04 876.42 L187.63 876.92 L188.22 877.37 L188.82 877.75 L189.41 878.08 L190.00 878.35 L190.59 878.56 L191.18 878.71 L191.77 878.80 L192.37 878.83 L192.96 878.80 L193.55 878.71 L194.14 878.56 L194.73 878.35 L195.33 878.08 L195.92 877.75 L196.51 877.37 L197.10 876.92 L197.69 876.42 L198.28 875.85 L198.88 875.23 L199.47 874.55 L200.06 873.82 L200.65 873.02 L201.24 872.17 L201.84 871.26 L202.43 870.30 L203.02 869.28 L203.61 868.20 L204.20 867.07 L204.79 865.88 L205.39 864.64 L205.98 863.35 L206.57 862.00 L207.16 860.60 L207.75 859.15 L208.34 857.65 L208.94 856.10 L209.53 854.50 L210.12 852.85 L210.71 851.15 L211.30 849.41 L211.90 847.61 L212.49 845.77 L213.08 843.89 L213.67 841.96 L214.26 839.99 L214.85 837.98 L215.45 835.92 L216.04 833.82 L216.63 831.69 L217.22 829.51 L217.81 827.30 L218.40 825.05 L219.00 822.76 L219.59 820.44 L220.18 818.08 L220.77 815.69 L221.36 813.27 L221.96 810.82 L222.55 808.34 L223.14 805.83 L223.73 803.29 L224.32 800.72 L224.91 798.13 L225.51 795.52 L226.10 792.88 L226.69 790.22 L227.28 787.54 L227.87 784.84 L228.47 782.12 L229.06 779.39 L229.65 776.64 L230.24 773.87 L230.83 771.09 L231.42 768.30 L232.02 765.50 L232.61 762.68 L233.20 759.86 L233.79 757.03 L234.38 754.19 L234.97 751.35 L235.57 748.51 L236.16 745.66 L236.75 742.81 L237.34 739.96 L237.93 737.12 L238.53 734.27 L239.12 731.43 L239.71 728.60 L240.30 725.77 L240.89 722.94 L241.48 720.13 L242.08 717.33 L242.67 714.53 L243.26 711.75 L243.85 708.99 L244.44 706.24 L245.03 703.50 L245.63 700.78 L246.22 698.08 L246.81 695.40 L247.40 692.74 L247.99 690.10 L248.59 687.49 L249.18 684.90 L249.77 682.34 L250.36 679.80 L250.95 677.29 L251.54 674.81 L252.14 672.35 L252.73 669.93 L253.32 667.54 L253.91 665.19 L254.50 662.87 L255.10 660.58 L255.69 658.33 L256.28 656.11 L256.87 653.94 L257.46 651.80 L258.05 649.70 L258.65 647.65 L259.24 645.63 L259.83 643.66 L260.42 641.73 L261.01 639.85 L261.60 638.01 L262.20 636.22 L262.79 634.47 L263.38 632.77 L263.97 631.12 L264.56 629.52 L265.16 627.97 L265.75 626.47 L266.34 625.02 L266.93 623.62 L267.52 622.28 L268.11 620.98 L268.71 619.74 L269.30 618.56 L269.89 617.43 L270.48 616.35 L271.07 615.33 L271.66 614.36 L272.26 613.46 L272.85 612.60 L273.44 611.81 L274.03 611.07 L274.62 610.39 L275.22 609.77 L275.81 609.21 L276.40 608.70 L276.99 608.26 L277.58 607.87 L278.17 607.54 L278.77 607.28 L279.36 607.07 L279.95 606.92 L280.54 606.83 L281.13 606.80 L281.73 606.83 L282.32 606.92 L282.91 607.07 L283.50 607.28 L284.09 607.54 L284.68 607.87 L285.28 608.26 L285.87 608.70 L286.46 609.21 L287.05 609.77 L287.64 610.39 L288.23 611.07 L288.83 611.81 L289.42 612.60 L290.01 613.46 L290.60 614.36 L291.19 615.33 L291.79 616.35 L292.38 617.43 L292.97 618.56 L293.56 619.74 L294.15 620.98 L294.74 622.28 L295.34 623.62 L295.93 625.02 L296.52 626.47 L297.11 627.97 L297.70 629.52 L298.29 631.12 L298.89 632.77 L299.48 634.47 L300.07 636.22 L300.66 638.01 L301.25 639.85 L301.85 641.73 L302.44 643.66 L303.03 645.63 L303.62 647.65 L304.21 649.70 L304.80 651.80 L305.40 653.94 L305.99 656.11 L306.58 658.33 L307.17 660.58 L307.76 662.87 L308.36 665.19 L308.95 667.54 L309.54 669.93 L310.13 672.35 L310.72 674.81 L311.31 677.29 L311.91 679.80 L312.50 682.34 L313.09 684.90 L313.68 687.49 L314.27 690.10 L314.86 692.74 L315.46 695.40 L316.05 698.08 L316.64 700.78 L317.23 703.50 L317.82 706.24 L318.42 708.99 L319.01 711.75 L319.60 714.53 L320.19 717.33 L320.78 720.13 L321.37 722.94 L321.97 725.77 L322.56 728.60 L323.15 731.43 L323.74 734.27 L324.33 737.12 L324.92 739.96 L325.52 742.81 L326.11 745.66 L326.70 748.51 L327.29 751.35 L327.88 754.19 L328.48 757.03 L329.07 759.86 L329.66 762.68 L330.25 765.50 L330.84 768.30 L331.43 771.09 L332.03 773.87 L332.62 776.64 L333.21 779.39 L333.80 782.12 L334.39 784.84 L334.99 787.54 L335.58 790.22 L336.17 792.88 L336.76 795.52 L337.35 798.13 L337.94 800.72 L338.54 803.29 L339.13 805.83 L339.72 808.34 L340.31 810.82 L340.90 813.27 L341.49 815.69 L342.09 818.08 L342.68 820.44 L343.27 822.76 L343.86 825.05 L344.45 827.30 L345.05 829.51 L345.64 831.69 L346.23 833.82 L346.82 835.92 L347.41 837.98 L348.00 839.99 L348.60 841.96 L349.19 843.89 L349.78 845.77 L350.37 847.61 L350.96 849.41 L351.55 851.15 L352.15 852.85 L352.74 854.50 L353.33 856.10 L353.92 857.65 L354.51 859.15 L355.11 860.60 L355.70 862.00 L356.29 863.35 L356.88 864.64 L357.47 865.88 L358.06 867.07 L358.66 868.20 L359.25 869.28 L359.84 870.30 L360.43 871.26 L361.02 872.17 L361.62 873.02 L362.21 873.82 L362.80 874.55 L363.39 875.23 L363.98 875.85 L364.57 876.42 L365.17 876.92 L365.76 877.37 L366.35 877.75 L366.94 878.08 L367.53 878.35 L368.12 878.56 L368.72 878.71 L369.31 878.80 L369.90 878.83 L370.49 878.80 L371.08 878.71 L371.68 878.56 L372.27 878.35 L372.86 878.08 L373.45 877.75 L374.04 877.37 L374.63 876.92 L375.23 876.42 L375.82 875.85 L376.41 875.23 L377.00 874.55 L377.59 873.82 L378.18 873.02 L378.78 872.17 L379.37 871.26 L379.96 870.30 L380.55 869.28 L381.14 868.20 L381.74 867.07 L382.33 865.88 L382.92 864.64 L383.51 863.35 L384.10 862.00 L384.69 860.60 L385.29 859.15 L385.88 857.65 L386.47 856.10 L387.06 854.50 L387.65 852.85 L388.25 851.15 L388.84 849.41 L389.43 847.61 L390.02 845.77 L390.61 843.89 L391.20 841.96 L391.80 839.99 L392.39 837.98 L392.98 835.92 L393.57 833.82 L394.16 831.69 L394.75 829.51 L395.35 827.30 L395.94 825.05 L396.53 822.76 L397.12 820.44 L397.71 818.08 L398.31 815.69 L398.90 813.27 L399.49 810.82 L400.08 808.34 L400.67 805.83 L401.26 803.29 L401.86 800.72 L402.45 798.13 L403.04 795.52 L403.63 792.88 L404.22 790.22 L404.81 787.54 L405.41 784.84 L406.00 782.12 L406.59 779.39 L407.18 776.64 L407.77 773.87 L408.37 771.09 L408.96 768.30 L409.55 765.50 L410.14 762.68 L410.73 759.86 L411.32 757.03 L411.92 754.19 L412.51 751.35 L413.10 748.51 L413.69 745.66 L414.28 742.81 L414.88 739.96 L415.47 737.12 L416.06 734.27 L416.65 731.43 L417.24 728.60 L417.83 725.77 L418.43 722.94 L419.02 720.13 L419.61 717.33 L420.20 714.53 L420.79 711.75 L421.38 708.99 L421.98 706.24 L422.57 703.50 L423.16 700.78 L423.75 698.08 L424.34 695.40 L424.94 692.74 L425.53 690.10 L426.12 687.49 L426.71 684.90 L427.30 682.34 L427.89 679.80 L428.49 677.29 L429.08 674.81 L429.67 672.35 L430.26 669.93 L430.85 667.54 L431.44 665.19 L432.04 662.87 L432.63 660.58 L433.22 658.33 L433.81 656.11 L434.40 653.94 L435.00 651.80 L435.59 649.70 L436.18 647.65 L436.77 645.63 L437.36 643.66 L437.95 641.73 L438.55 639.85 L439.14 638.01 L439.73 636.22 L440.32 634.47 L440.91 632.77 L441.51 631.12 L442.10 629.52 L442.69 627.97 L443.28 626.47 L443.87 625.02 L444.46 623.62 L445.06 622.28 L445.65 620.98 L446.24 619.74 L446.83 618.56 L447.42 617.43 L448.01 616.35 L448.61 615.33 L449.20 614.36 L449.79 613.46 L450.38 612.60 L450.97 611.81 L451.57 611.07 L452.16 610.39 L452.75 609.77 L453.34 609.21 L453.93 608.70 L454.52 608.26 L455.12 607.87 L455.71 607.54 L456.30 607.28 L456.89 607.07 L457.48 606.92 L458.07 606.83 L458.67 606.80 L459.26 606.83 L459.85 606.92 L460.44 607.07 L461.03 607.28 L461.63 607.54 L462.22 607.87 L462.81 608.26 L463.40 608.70 L463.99 609.21 L464.58 609.77 L465.18 610.39 L465.77 611.07 L466.36 611.81 L466.95 612.60 L467.54 613.46 L468.14 614.36 L468.73 615.33 L469.32 616.35 L469.91 617.43 L470.50 618.56 L471.09 619.74 L471.69 620.98 L472.28 622.28 L472.87 623.62 L473.46 625.02 L474.05 626.47 L474.64 627.97 L475.24 629.52 L475.83 631.12 L476.42 632.77 L477.01 634.47 L477.60 636.22 L478.20 638.01 L478.79 639.85 L479.38 641.73 L479.97 643.66 L480.56 645.63 L481.15 647.65 L481.75 649.70 L482.34 651.80 L482.93 653.94 L483.52 656.11 L484.11 658.33 L484.70 660.58 L485.30 662.87 L485.89 665.19 L486.48 667.54 L487.07 669.93 L487.66 672.35 L488.26 674.81 L488.85 677.29 L489.44 679.80 L490.03 682.34 L490.62 684.90 L491.21 687.49 L491.81 690.10 L492.40 692.74 L492.99 695.40 L493.58 698.08 L494.17 700.78 L494.77 703.50 L495.36 706.24 L495.95 708.99 L496.54 711.75 L497.13 714.53 L497.72 717.33 L498.32 720.13 L498.91 722.94 L499.50 725.77 L500.09 728.60 L500.68 731.43 L501.27 734.27 L501.87 737.12 L502.46 739.96 L503.05 742.81 L503.64 745.66 L504.23 748.51 L504.83 751.35 L505.42 754.19 L506.01 757.03 L506.60 759.86 L507.19 762.68 L507.78 765.50 L508.38 768.30 L508.97 771.09 L509.56 773.87 L510.15 776.64 L510.74 779.39 L511.33 782.12 L511.93 784.84 L512.52 787.54 L513.11 790.22 L513.70 792.88 L514.29 795.52 L514.89 798.13 L515.48 800.72 L516.07 803.29 L516.66 805.83 L517.25 808.34 L517.84 810.82 L518.44 813.27 L519.03 815.69 L519.62 818.08 L520.21 820.44 L520.80 822.76 L521.40 825.05 L521.99 827.30 L522.58 829.51 L523.17 831.69 L523.76 833.82 L524.35 835.92 L524.95 837.98 L525.54 839.99 L526.13 841.96 L526.72 843.89 L527.31 845.77 L527.90 847.61 L528.50 849.41 L529.09 851.15 L529.68 852.85 L530.27 854.50 L530.86 856.10 L531.46 857.65 L532.05 859.15 L532.64 860.60 L533.23 862.00 L533.82 863.35 L534.41 864.64 L535.01 865.88 L535.60 867.07 L536.19 868.20 L536.78 869.28 L537.37 870.30 L537.96 871.26 L538.56 872.17 L539.15 873.02 L539.74 873.82 L540.33 874.55 L540.92 875.23 L541.52 875.85 L542.11 876.42 L542.70 876.92 L543.29 877.37 L543.88 877.75 L544.47 878.08 L545.07 878.35 L545.66 878.56 L546.25 878.71 L546.84 878.80 L547.43 878.83 L548.03 878.80 L548.62 878.71 L549.21 878.56 L549.80 878.35 L550.39 878.08 L550.98 877.75 L551.58 877.37 L552.17 876.92 L552.76 876.42 L553.35 875.85 L553.94 875.23 L554.53 874.55 L555.13 873.82 L555.72 873.02 L556.31 872.17 L556.90 871.26 L557.49 870.30 L558.09 869.28 L558.68 868.20 L559.27 867.07 L559.86 865.88 L560.45 864.64 L561.04 863.35 L561.64 862.00 L562.23 860.60 L562.82 859.15 L563.41 857.65 L564.00 856.10 L564.59 854.50 L565.19 852.85 L565.78 851.15 L566.37 849.41 L566.96 847.61 L567.55 845.77 L568.15 843.89 L568.74 841.96 L569.33 839.99 L569.92 837.98 L570.51 835.92 L571.10 833.82 L571.70 831.69 L572.29 829.51 L572.88 827.30 L573.47 825.05 L574.06 822.76 L574.66 820.44 L575.25 818.08 L575.84 815.69 L576.43 813.27 L577.02 810.82 L577.61 808.34 L578.21 805.83 L578.80 803.29 L579.39 800.72 L579.98 798.13 L580.57 795.52 L581.16 792.88 L581.76 790.22 L582.35 787.54 L582.94 784.84 L583.53 782.12 L584.12 779.39 L584.72 776.64 L585.31 773.87 L585.90 771.09 L586.49 768.30 L587.08 765.50 L587.67 762.68 L588.27 759.86 L588.86 757.03 L589.45 754.19 L590.04 751.35 L590.63 748.51 L591.22 745.66 L591.82 742.81 L592.41 739.96 L593.00 737.12 L593.59 734.27 L594.18 731.43 L594.78 728.60 L595.37 725.77 L595.96 722.94 L596.55 720.13 L597.14 717.33 L597.73 714.53 L598.33 711.75 L598.92 708.99 L599.51 706.24 L600.10 703.50 L600.69 700.78 L601.29 698.08 L601.88 695.40 L602.47 692.74 L603.06 690.10 L603.65 687.49 L604.24 684.90 L604.84 682.34 L605.43 679.80 L606.02 677.29 L606.61 674.81 L607.20 672.35 L607.79 669.93 L608.39 667.54 L608.98 665.19 L609.57 662.87 L610.16 660.58 L610.75 658.33 L611.35 656.11 L611.94 653.94 L612.53 651.80 L613.12 649.70 L613.71 647.65 L614.30 645.63 L614.90 643.66 L615.49 641.73 L616.08 639.85 L616.67 638.01 L617.26 636.22 L617.85 634.47 L618.45 632.77 L619.04 631.12 L619.63 629.52 L620.22 627.97 L620.81 626.47 L621.41 625.02 L622.00 623.62 L622.59 622.28 L623.18 620.98 L623.77 619.74 L624.36 618.56 L624.96 617.43 L625.55 616.35 L626.14 615.33 L626.73 614.36 L627.32 613.46 L627.92 612.60 L628.51 611.81 L629.10 611.07 L629.69 610.39 L630.28 609.77 L630.87 609.21 L631.47 608.70 L632.06 608.26 L632.65 607.87 L633.24 607.54 L633.83 607.28 L634.42 607.07 L635.02 606.92 L635.61 606.83 L636.20 606.80" class="bl" fill="none"/>
<path d="M255.12 660.47 L255.56 658.82 L255.99 657.19 L256.42 655.58 L256.86 653.99 L257.29 652.43 L257.72 650.88 L258.15 649.35 L258.59 647.85 L259.02 646.37 L259.45 644.91 L259.88 643.48 L260.32 642.07 L260.75 640.68 L261.18 639.32 L261.62 637.98 L262.05 636.66 L262.48 635.37 L262.91 634.11 L263.35 632.87 L263.78 631.66 L264.21 630.47 L264.64 629.31 L265.08 628.17 L265.51 627.07 L265.94 625.99 L266.38 624.93 L266.81 623.91 L267.24 622.91 L267.67 621.94 L268.11 621.00 L268.54 620.09 L268.97 619.20 L269.41 618.35 L269.84 617.52 L270.27 616.73 L270.70 615.96 L271.14 615.22 L271.57 614.52 L272.00 613.84 L272.43 613.19 L272.87 612.58 L273.30 611.99 L273.73 611.44 L274.17 610.91 L274.60 610.42 L275.03 609.96 L275.46 609.53 L275.90 609.13 L276.33 608.76 L276.76 608.42 L277.19 608.12 L277.63 607.84 L278.06 607.60 L278.49 607.39 L278.93 607.21 L279.36 607.07 L279.79 606.95 L280.22 606.87 L280.66 606.82 L281.09 606.80 L281.52 606.81 L281.95 606.86 L282.39 606.93 L282.82 607.04 L283.25 607.18 L283.69 607.35 L284.12 607.56 L284.55 607.79 L284.98 608.06 L285.42 608.36 L285.85 608.69 L286.28 609.05 L286.71 609.44 L287.15 609.87 L287.58 610.32 L288.01 610.81 L288.45 611.33 L288.88 611.88 L289.31 612.46 L289.74 613.07 L290.18 613.71 L290.61 614.38 L291.04 615.08 L291.47 615.81 L291.91 616.57 L292.34 617.36 L292.77 618.18 L293.21 619.03 L293.64 619.90 L294.07 620.81 L294.50 621.74 L294.94 622.71 L295.37 623.70 L295.80 624.72 L296.23 625.77 L296.67 626.84 L297.10 627.94 L297.53 629.07 L297.97 630.23 L298.40 631.41 L298.83 632.62 L299.26 633.85 L299.70 635.11 L300.13 636.40 L300.56 637.71 L300.99 639.04 L301.43 640.40 L301.86 641.78 L302.29 643.19 L302.73 644.62 L303.16 646.07 L303.59 647.55 L304.02 649.04 L304.46 650.56 L304.89 652.11 L305.32 653.67 L305.75 655.25 L306.19 656.86 L306.62 658.48 L307.05 660.13" stroke="#5555ff" stroke-width="0.8" fill="none"/>
</g>
<line x1="129.89" y1="661.53" x2="129.89" y2="920.00" stroke="#3a3a3a" stroke-width="0.85" stroke-dasharray="2.8 2.8"/>
<line x1="156.59" y1="758.50" x2="156.59" y2="920.00" stroke="#3a3a3a" stroke-width="0.85" stroke-dasharray="2.8 2.8"/>
<line x1="192.10" y1="647.50" x2="192.10" y2="920.00" stroke="#3a3a3a" stroke-width="0.85" stroke-dasharray="2.8 2.8"/>
<line x1="228.67" y1="758.50" x2="228.67" y2="920.00" stroke="#3a3a3a" stroke-width="0.85" stroke-dasharray="2.8 2.8"/>
<line x1="255.11" y1="620.00" x2="255.11" y2="920.00" stroke="#3a3a3a" stroke-width="0.85" stroke-dasharray="2.8 2.8"/>
<line x1="281.80" y1="679.00" x2="281.80" y2="920.00" stroke="#3a3a3a" stroke-width="0.85" stroke-dasharray="2.8 2.8"/>
<line x1="308.48" y1="621.00" x2="308.48" y2="920.00" stroke="#3a3a3a" stroke-width="0.85" stroke-dasharray="2.8 2.8"/>
<line x1="103.60" y1="615.5" x2="661.8" y2="615.5" class="gl"/>
<line x1="103.60" y1="708.6" x2="661.0" y2="709.7" stroke="#444" stroke-width="0.95" stroke-dasharray="3.6 3.4"/>
<line x1="103.60" y1="759.3" x2="661.8" y2="759.3" class="gl"/>
<path d="M103.60 716.26 L104.19 716.23 L104.78 716.14 L105.38 715.99 L105.97 715.79 L106.56 715.52 L107.15 715.19 L107.74 714.80 L108.33 714.36 L108.93 713.85 L109.52 713.29 L110.11 712.67 L110.70 711.99 L111.29 711.25 L111.88 710.46 L112.48 709.61 L113.07 708.70 L113.66 707.73 L114.25 706.71 L114.84 705.64 L115.44 704.50 L116.03 703.32 L116.62 702.08 L117.21 700.79 L117.80 699.44 L118.39 698.04 L118.99 696.59 L119.58 695.09 L120.17 693.54 L120.76 691.94 L121.35 690.29 L121.95 688.59 L122.54 686.84 L123.13 685.05 L123.72 683.21 L124.31 681.33 L124.90 679.40 L125.50 677.43 L126.09 675.41 L126.68 673.36 L127.27 671.26 L127.86 669.12 L128.45 666.95 L129.05 664.73 L129.64 662.48 L130.23 662.87 L130.82 665.19 L131.41 667.54 L132.01 669.93 L132.60 672.35 L133.19 674.81 L133.78 677.29 L134.37 679.80 L134.96 682.34 L135.56 684.90 L136.15 687.49 L136.74 690.10 L137.33 692.74 L137.92 695.40 L138.51 698.08 L139.11 700.78 L139.70 703.50 L140.29 706.24 L140.88 708.99 L141.47 711.75 L142.07 714.53 L142.66 717.33 L143.25 720.13 L143.84 722.94 L144.43 725.77 L145.02 728.60 L145.62 731.43 L146.21 734.27 L146.80 737.12 L147.39 739.96 L147.98 742.81 L148.58 745.66 L149.17 748.51 L149.76 751.35 L150.35 754.19 L150.94 757.03 L151.53 759.86 L152.13 762.68 L152.72 765.50 L153.31 768.30 L153.90 771.09 L154.49 773.87 L155.08 776.64 L155.68 779.39 L156.27 782.12 L156.86 782.39 L157.45 779.69 L158.04 777.01 L158.64 774.35 L159.23 771.71 L159.82 769.10 L160.41 766.51 L161.00 763.94 L161.59 761.41 L162.19 758.90 L162.78 756.41 L163.37 753.96 L163.96 751.54 L164.55 749.15 L165.14 746.80 L165.74 744.47 L166.33 742.19 L166.92 739.94 L167.51 737.72 L168.10 735.55 L168.70 733.41 L169.29 731.31 L169.88 729.26 L170.47 727.24 L171.06 725.27 L171.65 723.34 L172.25 721.46 L172.84 719.62 L173.43 717.83 L174.02 716.08 L174.61 714.38 L175.21 712.73 L175.80 711.13 L176.39 709.58 L176.98 708.08 L177.57 706.63 L178.16 705.23 L178.76 703.88 L179.35 702.59 L179.94 701.35 L180.53 700.17 L181.12 699.03 L181.71 697.96 L182.31 696.94 L182.90 695.97 L183.49 695.06 L184.08 694.21 L184.67 693.42 L185.27 692.68 L185.86 692.00 L186.45 691.38 L187.04 690.82 L187.63 690.31 L188.22 689.87 L188.82 689.48 L189.41 689.15 L190.00 688.88 L190.59 688.68 L191.18 688.53 L191.77 688.44 L192.37 688.41 L192.96 688.44 L193.55 688.53 L194.14 688.68 L194.73 688.88 L195.33 689.15 L195.92 689.48 L196.51 689.87 L197.10 690.31 L197.69 690.82 L198.28 691.38 L198.88 692.00 L199.47 692.68 L200.06 693.42 L200.65 694.21 L201.24 695.06 L201.84 695.97 L202.43 696.94 L203.02 697.96 L203.61 699.03 L204.20 700.17 L204.79 701.35 L205.39 702.59 L205.98 703.88 L206.57 705.23 L207.16 706.63 L207.75 708.08 L208.34 709.58 L208.94 711.13 L209.53 712.73 L210.12 714.38 L210.71 716.08 L211.30 717.83 L211.90 719.62 L212.49 721.46 L213.08 723.34 L213.67 725.27 L214.26 727.24 L214.85 729.26 L215.45 731.31 L216.04 733.41 L216.63 735.55 L217.22 737.72 L217.81 739.94 L218.40 742.19 L219.00 744.47 L219.59 746.80 L220.18 749.15 L220.77 751.54 L221.36 753.96 L221.96 756.41 L222.55 758.90 L223.14 761.41 L223.73 763.94 L224.32 766.51 L224.91 769.10 L225.51 771.71 L226.10 774.35 L226.69 777.01 L227.28 779.69 L227.87 782.39 L228.47 782.12 L229.06 779.39 L229.65 776.64 L230.24 773.87 L230.83 771.09 L231.42 768.30 L232.02 765.50 L232.61 762.68 L233.20 759.86 L233.79 757.03 L234.38 754.19 L234.97 751.35 L235.57 748.51 L236.16 745.66 L236.75 742.81 L237.34 739.96 L237.93 737.12 L238.53 734.27 L239.12 731.43 L239.71 728.60 L240.30 725.77 L240.89 722.94 L241.48 720.13 L242.08 717.33 L242.67 714.53 L243.26 711.75 L243.85 708.99 L244.44 706.24 L245.03 703.50 L245.63 700.78 L246.22 698.08 L246.81 695.40 L247.40 692.74 L247.99 690.10 L248.59 687.49 L249.18 684.90 L249.77 682.34 L250.36 679.80 L250.95 677.29 L251.54 674.81 L252.14 672.35 L252.73 669.93 L253.32 667.54 L253.91 665.19 L254.50 662.87 L255.10 662.48 L255.69 664.73 L256.28 666.95 L256.87 669.12 L257.46 671.26 L258.05 673.36 L258.65 675.41 L259.24 677.43 L259.83 679.40 L260.42 681.33 L261.01 683.21 L261.60 685.05 L262.20 686.84 L262.79 688.59 L263.38 690.29 L263.97 691.94 L264.56 693.54 L265.16 695.09 L265.75 696.59 L266.34 698.04 L266.93 699.44 L267.52 700.79 L268.11 702.08 L268.71 703.32 L269.30 704.50 L269.89 705.64 L270.48 706.71 L271.07 707.73 L271.66 708.70 L272.26 709.61 L272.85 710.46 L273.44 711.25 L274.03 711.99 L274.62 712.67 L275.22 713.29 L275.81 713.85 L276.40 714.36 L276.99 714.80 L277.58 715.19 L278.17 715.52 L278.77 715.79 L279.36 715.99 L279.95 716.14 L280.54 716.23 L281.13 716.26 L281.73 716.23 L282.32 716.14 L282.91 715.99 L283.50 715.79 L284.09 715.52 L284.68 715.19 L285.28 714.80 L285.87 714.36 L286.46 713.85 L287.05 713.29 L287.64 712.67 L288.23 711.99 L288.83 711.25 L289.42 710.46 L290.01 709.61 L290.60 708.70 L291.19 707.73 L291.79 706.71 L292.38 705.64 L292.97 704.50 L293.56 703.32 L294.15 702.08 L294.74 700.79 L295.34 699.44 L295.93 698.04 L296.52 696.59 L297.11 695.09 L297.70 693.54 L298.29 691.94 L298.89 690.29 L299.48 688.59 L300.07 686.84 L300.66 685.05 L301.25 683.21 L301.85 681.33 L302.44 679.40 L303.03 677.43 L303.62 675.41 L304.21 673.36 L304.80 671.26 L305.40 669.12 L305.99 666.95 L306.58 664.73 L307.17 662.48 L307.76 662.87 L308.36 665.19 L308.95 667.54 L309.54 669.93 L310.13 672.35 L310.72 674.81 L311.31 677.29 L311.91 679.80 L312.50 682.34 L313.09 684.90 L313.68 687.49 L314.27 690.10 L314.86 692.74 L315.46 695.40 L316.05 698.08 L316.64 700.78 L317.23 703.50 L317.82 706.24 L318.42 708.99 L319.01 711.75 L319.60 714.53 L320.19 717.33 L320.78 720.13 L321.37 722.94 L321.97 725.77 L322.56 728.60 L323.15 731.43 L323.74 734.27 L324.33 737.12 L324.92 739.96 L325.52 742.81 L326.11 745.66 L326.70 748.51 L327.29 751.35 L327.88 754.19 L328.48 757.03 L329.07 759.86 L329.66 762.68 L330.25 765.50 L330.84 768.30 L331.43 771.09 L332.03 773.87 L332.62 776.64 L333.21 779.39 L333.80 782.12 L334.39 782.39 L334.99 779.69 L335.58 777.01 L336.17 774.35 L336.76 771.71 L337.35 769.10 L337.94 766.51 L338.54 763.94 L339.13 761.41 L339.72 758.90 L340.31 756.41 L340.90 753.96 L341.49 751.54 L342.09 749.15 L342.68 746.80 L343.27 744.47 L343.86 742.19 L344.45 739.94 L345.05 737.72 L345.64 735.55 L346.23 733.41 L346.82 731.31 L347.41 729.26 L348.00 727.24 L348.60 725.27 L349.19 723.34 L349.78 721.46 L350.37 719.62 L350.96 717.83 L351.55 716.08 L352.15 714.38 L352.74 712.73 L353.33 711.13 L353.92 709.58 L354.51 708.08 L355.11 706.63 L355.70 705.23 L356.29 703.88 L356.88 702.59 L357.47 701.35 L358.06 700.17 L358.66 699.03 L359.25 697.96 L359.84 696.94 L360.43 695.97 L361.02 695.06 L361.62 694.21 L362.21 693.42 L362.80 692.68 L363.39 692.00 L363.98 691.38 L364.57 690.82 L365.17 690.31 L365.76 689.87 L366.35 689.48 L366.94 689.15 L367.53 688.88 L368.12 688.68 L368.72 688.53 L369.31 688.44 L369.90 688.41 L370.49 688.44 L371.08 688.53 L371.68 688.68 L372.27 688.88 L372.86 689.15 L373.45 689.48 L374.04 689.87 L374.63 690.31 L375.23 690.82 L375.82 691.38 L376.41 692.00 L377.00 692.68 L377.59 693.42 L378.18 694.21 L378.78 695.06 L379.37 695.97 L379.96 696.94 L380.55 697.96 L381.14 699.03 L381.74 700.17 L382.33 701.35 L382.92 702.59 L383.51 703.88 L384.10 705.23 L384.69 706.63 L385.29 708.08 L385.88 709.58 L386.47 711.13 L387.06 712.73 L387.65 714.38 L388.25 716.08 L388.84 717.83 L389.43 719.62 L390.02 721.46 L390.61 723.34 L391.20 725.27 L391.80 727.24 L392.39 729.26 L392.98 731.31 L393.57 733.41 L394.16 735.55 L394.75 737.72 L395.35 739.94 L395.94 742.19 L396.53 744.47 L397.12 746.80 L397.71 749.15 L398.31 751.54 L398.90 753.96 L399.49 756.41 L400.08 758.90 L400.67 761.41 L401.26 763.94 L401.86 766.51 L402.45 769.10 L403.04 771.71 L403.63 774.35 L404.22 777.01 L404.81 779.69 L405.41 782.39 L406.00 782.12 L406.59 779.39 L407.18 776.64 L407.77 773.87 L408.37 771.09 L408.96 768.30 L409.55 765.50 L410.14 762.68 L410.73 759.86 L411.32 757.03 L411.92 754.19 L412.51 751.35 L413.10 748.51 L413.69 745.66 L414.28 742.81 L414.88 739.96 L415.47 737.12 L416.06 734.27 L416.65 731.43 L417.24 728.60 L417.83 725.77 L418.43 722.94 L419.02 720.13 L419.61 717.33 L420.20 714.53 L420.79 711.75 L421.38 708.99 L421.98 706.24 L422.57 703.50 L423.16 700.78 L423.75 698.08 L424.34 695.40 L424.94 692.74 L425.53 690.10 L426.12 687.49 L426.71 684.90 L427.30 682.34 L427.89 679.80 L428.49 677.29 L429.08 674.81 L429.67 672.35 L430.26 669.93 L430.85 667.54 L431.44 665.19 L432.04 662.87 L432.63 662.48 L433.22 664.73 L433.81 666.95 L434.40 669.12 L435.00 671.26 L435.59 673.36 L436.18 675.41 L436.77 677.43 L437.36 679.40 L437.95 681.33 L438.55 683.21 L439.14 685.05 L439.73 686.84 L440.32 688.59 L440.91 690.29 L441.51 691.94 L442.10 693.54 L442.69 695.09 L443.28 696.59 L443.87 698.04 L444.46 699.44 L445.06 700.79 L445.65 702.08 L446.24 703.32 L446.83 704.50 L447.42 705.64 L448.01 706.71 L448.61 707.73 L449.20 708.70 L449.79 709.61 L450.38 710.46 L450.97 711.25 L451.57 711.99 L452.16 712.67 L452.75 713.29 L453.34 713.85 L453.93 714.36 L454.52 714.80 L455.12 715.19 L455.71 715.52 L456.30 715.79 L456.89 715.99 L457.48 716.14 L458.07 716.23 L458.67 716.26 L459.26 716.23 L459.85 716.14 L460.44 715.99 L461.03 715.79 L461.63 715.52 L462.22 715.19 L462.81 714.80 L463.40 714.36 L463.99 713.85 L464.58 713.29 L465.18 712.67 L465.77 711.99 L466.36 711.25 L466.95 710.46 L467.54 709.61 L468.14 708.70 L468.73 707.73 L469.32 706.71 L469.91 705.64 L470.50 704.50 L471.09 703.32 L471.69 702.08 L472.28 700.79 L472.87 699.44 L473.46 698.04 L474.05 696.59 L474.64 695.09 L475.24 693.54 L475.83 691.94 L476.42 690.29 L477.01 688.59 L477.60 686.84 L478.20 685.05 L478.79 683.21 L479.38 681.33 L479.97 679.40 L480.56 677.43 L481.15 675.41 L481.75 673.36 L482.34 671.26 L482.93 669.12 L483.52 666.95 L484.11 664.73 L484.70 662.48 L485.30 662.87 L485.89 665.19 L486.48 667.54 L487.07 669.93 L487.66 672.35 L488.26 674.81 L488.85 677.29 L489.44 679.80 L490.03 682.34 L490.62 684.90 L491.21 687.49 L491.81 690.10 L492.40 692.74 L492.99 695.40 L493.58 698.08 L494.17 700.78 L494.77 703.50 L495.36 706.24 L495.95 708.99 L496.54 711.75 L497.13 714.53 L497.72 717.33 L498.32 720.13 L498.91 722.94 L499.50 725.77 L500.09 728.60 L500.68 731.43 L501.27 734.27 L501.87 737.12 L502.46 739.96 L503.05 742.81 L503.64 745.66 L504.23 748.51 L504.83 751.35 L505.42 754.19 L506.01 757.03 L506.60 759.86 L507.19 762.68 L507.78 765.50 L508.38 768.30 L508.97 771.09 L509.56 773.87 L510.15 776.64 L510.74 779.39 L511.33 782.12 L511.93 782.39 L512.52 779.69 L513.11 777.01 L513.70 774.35 L514.29 771.71 L514.89 769.10 L515.48 766.51 L516.07 763.94 L516.66 761.41 L517.25 758.90 L517.84 756.41 L518.44 753.96 L519.03 751.54 L519.62 749.15 L520.21 746.80 L520.80 744.47 L521.40 742.19 L521.99 739.94 L522.58 737.72 L523.17 735.55 L523.76 733.41 L524.35 731.31 L524.95 729.26 L525.54 727.24 L526.13 725.27 L526.72 723.34 L527.31 721.46 L527.90 719.62 L528.50 717.83 L529.09 716.08 L529.68 714.38 L530.27 712.73 L530.86 711.13 L531.46 709.58 L532.05 708.08 L532.64 706.63 L533.23 705.23 L533.82 703.88 L534.41 702.59 L535.01 701.35 L535.60 700.17 L536.19 699.03 L536.78 697.96 L537.37 696.94 L537.96 695.97 L538.56 695.06 L539.15 694.21 L539.74 693.42 L540.33 692.68 L540.92 692.00 L541.52 691.38 L542.11 690.82 L542.70 690.31 L543.29 689.87 L543.88 689.48 L544.47 689.15 L545.07 688.88 L545.66 688.68 L546.25 688.53 L546.84 688.44 L547.43 688.41 L548.03 688.44 L548.62 688.53 L549.21 688.68 L549.80 688.88 L550.39 689.15 L550.98 689.48 L551.58 689.87 L552.17 690.31 L552.76 690.82 L553.35 691.38 L553.94 692.00 L554.53 692.68 L555.13 693.42 L555.72 694.21 L556.31 695.06 L556.90 695.97 L557.49 696.94 L558.09 697.96 L558.68 699.03 L559.27 700.17 L559.86 701.35 L560.45 702.59 L561.04 703.88 L561.64 705.23 L562.23 706.63 L562.82 708.08 L563.41 709.58 L564.00 711.13 L564.59 712.73 L565.19 714.38 L565.78 716.08 L566.37 717.83 L566.96 719.62 L567.55 721.46 L568.15 723.34 L568.74 725.27 L569.33 727.24 L569.92 729.26 L570.51 731.31 L571.10 733.41 L571.70 735.55 L572.29 737.72 L572.88 739.94 L573.47 742.19 L574.06 744.47 L574.66 746.80 L575.25 749.15 L575.84 751.54 L576.43 753.96 L577.02 756.41 L577.61 758.90 L578.21 761.41 L578.80 763.94 L579.39 766.51 L579.98 769.10 L580.57 771.71 L581.16 774.35 L581.76 777.01 L582.35 779.69 L582.94 782.39 L583.53 782.12 L584.12 779.39 L584.72 776.64 L585.31 773.87 L585.90 771.09 L586.49 768.30 L587.08 765.50 L587.67 762.68 L588.27 759.86 L588.86 757.03 L589.45 754.19 L590.04 751.35 L590.63 748.51 L591.22 745.66 L591.82 742.81 L592.41 739.96 L593.00 737.12 L593.59 734.27 L594.18 731.43 L594.78 728.60 L595.37 725.77 L595.96 722.94 L596.55 720.13 L597.14 717.33 L597.73 714.53 L598.33 711.75 L598.92 708.99 L599.51 706.24 L600.10 703.50 L600.69 700.78 L601.29 698.08 L601.88 695.40 L602.47 692.74 L603.06 690.10 L603.65 687.49 L604.24 684.90 L604.84 682.34 L605.43 679.80 L606.02 677.29 L606.61 674.81 L607.20 672.35 L607.79 669.93 L608.39 667.54 L608.98 665.19 L609.57 662.87 L610.16 662.48 L610.75 664.73 L611.35 666.95 L611.94 669.12 L612.53 671.26 L613.12 673.36 L613.71 675.41 L614.30 677.43 L614.90 679.40 L615.49 681.33 L616.08 683.21 L616.67 685.05 L617.26 686.84 L617.85 688.59 L618.45 690.29 L619.04 691.94 L619.63 693.54 L620.22 695.09 L620.81 696.59 L621.41 698.04 L622.00 699.44 L622.59 700.79 L623.18 702.08 L623.77 703.32 L624.36 704.50 L624.96 705.64 L625.55 706.71 L626.14 707.73 L626.73 708.70 L627.32 709.61 L627.92 710.46 L628.51 711.25 L629.10 711.99 L629.69 712.67 L630.28 713.29 L630.87 713.85 L631.47 714.36 L632.06 714.80 L632.65 715.19 L633.24 715.52 L633.83 715.79 L634.42 715.99 L635.02 716.14 L635.61 716.23 L636.20 716.26" stroke="#f00" stroke-width="3.1" fill="none" stroke-linejoin="round" clip-path="url(#cpc)"/>
<rect x="103.60" y="531.30" width="532.60" height="388.70" fill="none" stroke="#000" stroke-width="1.75"/>
<line x1="103.60" y1="920.00" x2="103.60" y2="928.60" stroke="#000" stroke-width="1.6"/>
<text x="103.60" y="952.30" class="tk" text-anchor="middle">0</text>
<line x1="236.75" y1="920.00" x2="236.75" y2="928.60" stroke="#000" stroke-width="1.6"/>
<text x="236.75" y="952.30" class="tk" text-anchor="middle">50</text>
<line x1="369.90" y1="920.00" x2="369.90" y2="928.60" stroke="#000" stroke-width="1.6"/>
<text x="369.90" y="952.30" class="tk" text-anchor="middle">100</text>
<line x1="503.05" y1="920.00" x2="503.05" y2="928.60" stroke="#000" stroke-width="1.6"/>
<text x="503.05" y="952.30" class="tk" text-anchor="middle">150</text>
<line x1="636.20" y1="920.00" x2="636.20" y2="928.60" stroke="#000" stroke-width="1.6"/>
<text x="636.20" y="952.30" class="tk" text-anchor="middle">200</text>
<line x1="170.18" y1="920.00" x2="170.18" y2="924.60" stroke="#000" stroke-width="1.5"/>
<line x1="303.32" y1="920.00" x2="303.32" y2="924.60" stroke="#000" stroke-width="1.5"/>
<line x1="436.48" y1="920.00" x2="436.48" y2="924.60" stroke="#000" stroke-width="1.5"/>
<line x1="569.62" y1="920.00" x2="569.62" y2="924.60" stroke="#000" stroke-width="1.5"/>
<line x1="95.20" y1="550.45" x2="103.60" y2="550.45" stroke="#000" stroke-width="1.6"/>
<text x="89.60" y="556.95" class="tk" text-anchor="end">6</text>
<line x1="95.20" y1="589.31" x2="103.60" y2="589.31" stroke="#000" stroke-width="1.6"/>
<text x="89.60" y="595.81" class="tk" text-anchor="end">5</text>
<line x1="95.20" y1="628.17" x2="103.60" y2="628.17" stroke="#000" stroke-width="1.6"/>
<text x="89.60" y="634.67" class="tk" text-anchor="end">4</text>
<line x1="95.20" y1="667.03" x2="103.60" y2="667.03" stroke="#000" stroke-width="1.6"/>
<text x="89.60" y="673.53" class="tk" text-anchor="end">3</text>
<line x1="95.20" y1="705.89" x2="103.60" y2="705.89" stroke="#000" stroke-width="1.6"/>
<text x="89.60" y="712.39" class="tk" text-anchor="end">2</text>
<line x1="95.20" y1="744.76" x2="103.60" y2="744.76" stroke="#000" stroke-width="1.6"/>
<text x="89.60" y="751.26" class="tk" text-anchor="end">1</text>
<line x1="95.20" y1="783.62" x2="103.60" y2="783.62" stroke="#000" stroke-width="1.6"/>
<text x="89.60" y="790.12" class="tk" text-anchor="end">0</text>
<line x1="95.20" y1="822.48" x2="103.60" y2="822.48" stroke="#000" stroke-width="1.6"/>
<text x="89.60" y="828.98" class="tk" text-anchor="end">-1</text>
<line x1="95.20" y1="861.34" x2="103.60" y2="861.34" stroke="#000" stroke-width="1.6"/>
<text x="89.60" y="867.84" class="tk" text-anchor="end">-2</text>
<line x1="95.20" y1="900.20" x2="103.60" y2="900.20" stroke="#000" stroke-width="1.6"/>
<text x="89.60" y="906.70" class="tk" text-anchor="end">-3</text>
<line x1="99.00" y1="531.30" x2="103.60" y2="531.30" stroke="#000" stroke-width="1.5"/>
<line x1="99.00" y1="569.88" x2="103.60" y2="569.88" stroke="#000" stroke-width="1.5"/>
<line x1="99.00" y1="608.74" x2="103.60" y2="608.74" stroke="#000" stroke-width="1.5"/>
<line x1="99.00" y1="647.60" x2="103.60" y2="647.60" stroke="#000" stroke-width="1.5"/>
<line x1="99.00" y1="686.46" x2="103.60" y2="686.46" stroke="#000" stroke-width="1.5"/>
<line x1="99.00" y1="725.33" x2="103.60" y2="725.33" stroke="#000" stroke-width="1.5"/>
<line x1="99.00" y1="764.19" x2="103.60" y2="764.19" stroke="#000" stroke-width="1.5"/>
<line x1="99.00" y1="803.05" x2="103.60" y2="803.05" stroke="#000" stroke-width="1.5"/>
<line x1="99.00" y1="841.91" x2="103.60" y2="841.91" stroke="#000" stroke-width="1.5"/>
<line x1="99.00" y1="880.77" x2="103.60" y2="880.77" stroke="#000" stroke-width="1.5"/>
<line x1="99.00" y1="919.63" x2="103.60" y2="919.63" stroke="#000" stroke-width="1.5"/>
<text x="370.10" y="994.50" class="ax" text-anchor="middle">t / ps</text>
<text transform="translate(33.40 729.25) rotate(-90)" class="ax" text-anchor="middle">equivalent phase for Φ(t, x)</text>
<line x1="139.80" y1="848.00" x2="298.30" y2="848.00" stroke="#000" stroke-width="2.4"/>
<path d="M129.90 848.00 L140.80 845.40 L140.80 850.60 Z" fill="#000" stroke="#000" stroke-width="0.9" stroke-linejoin="round"/>
<path d="M308.20 848.00 L297.30 845.40 L297.30 850.60 Z" fill="#000" stroke="#000" stroke-width="0.9" stroke-linejoin="round"/>
<text x="220.5" y="863.2" class="T" text-anchor="middle">T</text>
<line x1="203.80" y1="553.30" x2="255.00" y2="553.30" class="bl"/>
<line x1="205.30" y1="583.30" x2="258.80" y2="583.30" stroke="#f00" stroke-width="3.2" stroke-linecap="round"/>
<text x="264.50" y="560.90" class="lg">the phase of Φ(t, x)</text>
<text x="264.50" y="591.60" class="lg">equivalent phase for cosine function</text>
<text x="120.0" y="578" class="pl">(c)</text>
<text x="643" y="642" class="rl" font-size="24">π</text>
<text x="650.3" y="697" class="rl" font-size="24">φ<tspan font-size="14" dy="9" dx="0.6">0</tspan></text>
<text x="650.8" y="752" class="rl" font-size="23">0</text>
<text x="112.3" y="904.7" class="tl">t<tspan font-size="14.5" dy="9" fill="#333">0</tspan></text>
<text x="139.3" y="904.7" class="tl">t<tspan font-size="14.5" dy="9" fill="#333">1</tspan></text>
<text x="173.5" y="904.7" class="tl">t<tspan font-size="14.5" dy="9" fill="#333">2</tspan></text>
<text x="210.5" y="904.7" class="tl">t<tspan font-size="14.5" dy="9" fill="#333">3</tspan></text>
<text x="235.5" y="904.7" class="tl">t<tspan font-size="14.5" dy="9" fill="#333">4</tspan></text>
<text x="263.5" y="904.7" class="tl">t<tspan font-size="14.5" dy="9" fill="#333">5</tspan></text>
<text x="291.5" y="904.7" class="tl">t<tspan font-size="14.5" dy="9" fill="#333">6</tspan></text>
<line x1="924.09" y1="860.22" x2="924.09" y2="925.30" stroke="#3a3a3a" stroke-width="0.85" stroke-dasharray="2.8 2.8"/>
<line x1="950.79" y1="601.08" x2="950.79" y2="925.30" stroke="#3a3a3a" stroke-width="0.85" stroke-dasharray="2.8 2.8"/>
<line x1="986.57" y1="830.45" x2="986.57" y2="925.30" stroke="#3a3a3a" stroke-width="0.85" stroke-dasharray="2.8 2.8"/>
<line x1="1022.34" y1="601.08" x2="1022.34" y2="925.30" stroke="#3a3a3a" stroke-width="0.85" stroke-dasharray="2.8 2.8"/>
<line x1="1049.05" y1="860.22" x2="1049.05" y2="925.30" stroke="#3a3a3a" stroke-width="0.85" stroke-dasharray="2.8 2.8"/>
<line x1="1075.60" y1="751.60" x2="1075.60" y2="925.30" stroke="#3a3a3a" stroke-width="0.85" stroke-dasharray="2.8 2.8"/>
<line x1="1102.68" y1="860.22" x2="1102.68" y2="925.30" stroke="#3a3a3a" stroke-width="0.85" stroke-dasharray="2.8 2.8"/>
<path d="M897.80 751.60 L898.39 751.70 L898.98 751.99 L899.58 752.48 L900.17 753.17 L900.76 754.05 L901.35 755.12 L901.94 756.38 L902.53 757.84 L903.13 759.48 L903.72 761.31 L904.31 763.32 L904.90 765.50 L905.49 767.86 L906.08 770.39 L906.68 773.09 L907.27 775.94 L907.86 778.94 L908.45 782.08 L909.04 785.35 L909.64 788.75 L910.23 792.25 L910.82 795.86 L911.41 799.55 L912.00 803.31 L912.59 807.12 L913.19 810.97 L913.78 814.83 L914.37 818.70 L914.96 822.54 L915.55 826.33 L916.15 830.06 L916.74 833.69 L917.33 837.20 L917.92 840.57 L918.51 843.77 L919.10 846.76 L919.70 849.53 L920.29 852.04 L920.88 854.26 L921.47 856.18 L922.06 857.75 L922.65 858.96 L923.25 859.78 L923.84 860.18 L924.43 860.14 L925.02 859.64 L925.61 858.67 L926.21 857.20 L926.80 855.22 L927.39 852.73 L927.98 849.71 L928.57 846.16 L929.16 842.09 L929.76 837.49 L930.35 832.37 L930.94 826.74 L931.53 820.63 L932.12 814.04 L932.71 807.01 L933.31 799.56 L933.90 791.72 L934.49 783.53 L935.08 775.03 L935.67 766.26 L936.27 757.27 L936.86 748.09 L937.45 738.79 L938.04 729.42 L938.63 720.02 L939.22 710.65 L939.82 701.37 L940.41 692.23 L941.00 683.29 L941.59 674.59 L942.18 666.18 L942.78 658.12 L943.37 650.46 L943.96 643.23 L944.55 636.48 L945.14 630.24 L945.73 624.55 L946.33 619.43 L946.92 614.92 L947.51 611.02 L948.10 607.76 L948.69 605.14 L949.28 603.17 L949.88 601.85 L950.47 601.18 L951.06 601.15 L951.65 601.74 L952.24 602.95 L952.84 604.75 L953.43 607.11 L954.02 610.02 L954.61 613.44 L955.20 617.33 L955.79 621.68 L956.39 626.43 L956.98 631.55 L957.57 637.01 L958.16 642.77 L958.75 648.78 L959.34 655.02 L959.94 661.44 L960.53 668.00 L961.12 674.67 L961.71 681.41 L962.30 688.20 L962.90 694.99 L963.49 701.76 L964.08 708.48 L964.67 715.12 L965.26 721.66 L965.85 728.09 L966.45 734.37 L967.04 740.49 L967.63 746.43 L968.22 752.19 L968.81 757.76 L969.41 763.11 L970.00 768.25 L970.59 773.17 L971.18 777.86 L971.77 782.33 L972.36 786.57 L972.96 790.59 L973.55 794.38 L974.14 797.94 L974.73 801.29 L975.32 804.42 L975.91 807.34 L976.51 810.06 L977.10 812.58 L977.69 814.90 L978.28 817.04 L978.87 818.99 L979.47 820.78 L980.06 822.39 L980.65 823.84 L981.24 825.14 L981.83 826.28 L982.42 827.27 L983.02 828.13 L983.61 828.84 L984.20 829.42 L984.79 829.87 L985.38 830.19 L985.97 830.38 L986.57 830.45 L987.16 830.38 L987.75 830.19 L988.34 829.87 L988.93 829.42 L989.53 828.84 L990.12 828.13 L990.71 827.27 L991.30 826.28 L991.89 825.14 L992.48 823.84 L993.08 822.39 L993.67 820.78 L994.26 818.99 L994.85 817.04 L995.44 814.90 L996.04 812.58 L996.63 810.06 L997.22 807.34 L997.81 804.42 L998.40 801.29 L998.99 797.94 L999.59 794.38 L1000.18 790.59 L1000.77 786.57 L1001.36 782.33 L1001.95 777.86 L1002.54 773.17 L1003.14 768.25 L1003.73 763.11 L1004.32 757.76 L1004.91 752.19 L1005.50 746.43 L1006.10 740.49 L1006.69 734.37 L1007.28 728.09 L1007.87 721.66 L1008.46 715.12 L1009.05 708.48 L1009.65 701.76 L1010.24 694.99 L1010.83 688.20 L1011.42 681.41 L1012.01 674.67 L1012.60 668.00 L1013.20 661.44 L1013.79 655.02 L1014.38 648.78 L1014.97 642.77 L1015.56 637.01 L1016.16 631.55 L1016.75 626.43 L1017.34 621.68 L1017.93 617.33 L1018.52 613.44 L1019.11 610.02 L1019.71 607.11 L1020.30 604.75 L1020.89 602.95 L1021.48 601.74 L1022.07 601.15 L1022.67 601.18 L1023.26 601.85 L1023.85 603.17 L1024.44 605.14 L1025.03 607.76 L1025.62 611.02 L1026.22 614.92 L1026.81 619.43 L1027.40 624.55 L1027.99 630.24 L1028.58 636.48 L1029.17 643.23 L1029.77 650.46 L1030.36 658.12 L1030.95 666.18 L1031.54 674.59 L1032.13 683.29 L1032.73 692.23 L1033.32 701.37 L1033.91 710.65 L1034.50 720.02 L1035.09 729.42 L1035.68 738.79 L1036.28 748.09 L1036.87 757.27 L1037.46 766.26 L1038.05 775.03 L1038.64 783.53 L1039.23 791.72 L1039.83 799.56 L1040.42 807.01 L1041.01 814.04 L1041.60 820.63 L1042.19 826.74 L1042.79 832.37 L1043.38 837.49 L1043.97 842.09 L1044.56 846.16 L1045.15 849.71 L1045.74 852.73 L1046.34 855.22 L1046.93 857.20 L1047.52 858.67 L1048.11 859.64 L1048.70 860.14 L1049.30 860.18 L1049.89 859.78 L1050.48 858.96 L1051.07 857.75 L1051.66 856.18 L1052.25 854.26 L1052.85 852.04 L1053.44 849.53 L1054.03 846.76 L1054.62 843.77 L1055.21 840.57 L1055.80 837.20 L1056.40 833.69 L1056.99 830.06 L1057.58 826.33 L1058.17 822.54 L1058.76 818.70 L1059.36 814.83 L1059.95 810.97 L1060.54 807.12 L1061.13 803.31 L1061.72 799.55 L1062.31 795.86 L1062.91 792.25 L1063.50 788.75 L1064.09 785.35 L1064.68 782.08 L1065.27 778.94 L1065.86 775.94 L1066.46 773.09 L1067.05 770.39 L1067.64 767.86 L1068.23 765.50 L1068.82 763.32 L1069.42 761.31 L1070.01 759.48 L1070.60 757.84 L1071.19 756.38 L1071.78 755.12 L1072.37 754.05 L1072.97 753.17 L1073.56 752.48 L1074.15 751.99 L1074.74 751.70 L1075.33 751.60 L1075.93 751.70 L1076.52 751.99 L1077.11 752.48 L1077.70 753.17 L1078.29 754.05 L1078.88 755.12 L1079.48 756.38 L1080.07 757.84 L1080.66 759.48 L1081.25 761.31 L1081.84 763.32 L1082.43 765.50 L1083.03 767.86 L1083.62 770.39 L1084.21 773.09 L1084.80 775.94 L1085.39 778.94 L1085.99 782.08 L1086.58 785.35 L1087.17 788.75 L1087.76 792.25 L1088.35 795.86 L1088.94 799.55 L1089.54 803.31 L1090.13 807.12 L1090.72 810.97 L1091.31 814.83 L1091.90 818.70 L1092.49 822.54 L1093.09 826.33 L1093.68 830.06 L1094.27 833.69 L1094.86 837.20 L1095.45 840.57 L1096.05 843.77 L1096.64 846.76 L1097.23 849.53 L1097.82 852.04 L1098.41 854.26 L1099.00 856.18 L1099.60 857.75 L1100.19 858.96 L1100.78 859.78 L1101.37 860.18 L1101.96 860.14 L1102.56 859.64 L1103.15 858.67 L1103.74 857.20 L1104.33 855.22 L1104.92 852.73 L1105.51 849.71 L1106.11 846.16 L1106.70 842.09 L1107.29 837.49 L1107.88 832.37 L1108.47 826.74 L1109.06 820.63 L1109.66 814.04 L1110.25 807.01 L1110.84 799.56 L1111.43 791.72 L1112.02 783.53 L1112.62 775.03 L1113.21 766.26 L1113.80 757.27 L1114.39 748.09 L1114.98 738.79 L1115.57 729.42 L1116.17 720.02 L1116.76 710.65 L1117.35 701.37 L1117.94 692.23 L1118.53 683.29 L1119.12 674.59 L1119.72 666.18 L1120.31 658.12 L1120.90 650.46 L1121.49 643.23 L1122.08 636.48 L1122.68 630.24 L1123.27 624.55 L1123.86 619.43 L1124.45 614.92 L1125.04 611.02 L1125.63 607.76 L1126.23 605.14 L1126.82 603.17 L1127.41 601.85 L1128.00 601.18 L1128.59 601.15 L1129.19 601.74 L1129.78 602.95 L1130.37 604.75 L1130.96 607.11 L1131.55 610.02 L1132.14 613.44 L1132.74 617.33 L1133.33 621.68 L1133.92 626.43 L1134.51 631.55 L1135.10 637.01 L1135.69 642.77 L1136.29 648.78 L1136.88 655.02 L1137.47 661.44 L1138.06 668.00 L1138.65 674.67 L1139.25 681.41 L1139.84 688.20 L1140.43 694.99 L1141.02 701.76 L1141.61 708.48 L1142.20 715.12 L1142.80 721.66 L1143.39 728.09 L1143.98 734.37 L1144.57 740.49 L1145.16 746.43 L1145.75 752.19 L1146.35 757.76 L1146.94 763.11 L1147.53 768.25 L1148.12 773.17 L1148.71 777.86 L1149.31 782.33 L1149.90 786.57 L1150.49 790.59 L1151.08 794.38 L1151.67 797.94 L1152.26 801.29 L1152.86 804.42 L1153.45 807.34 L1154.04 810.06 L1154.63 812.58 L1155.22 814.90 L1155.82 817.04 L1156.41 818.99 L1157.00 820.78 L1157.59 822.39 L1158.18 823.84 L1158.77 825.14 L1159.37 826.28 L1159.96 827.27 L1160.55 828.13 L1161.14 828.84 L1161.73 829.42 L1162.32 829.87 L1162.92 830.19 L1163.51 830.38 L1164.10 830.45 L1164.69 830.38 L1165.28 830.19 L1165.88 829.87 L1166.47 829.42 L1167.06 828.84 L1167.65 828.13 L1168.24 827.27 L1168.83 826.28 L1169.43 825.14 L1170.02 823.84 L1170.61 822.39 L1171.20 820.78 L1171.79 818.99 L1172.38 817.04 L1172.98 814.90 L1173.57 812.58 L1174.16 810.06 L1174.75 807.34 L1175.34 804.42 L1175.94 801.29 L1176.53 797.94 L1177.12 794.38 L1177.71 790.59 L1178.30 786.57 L1178.89 782.33 L1179.49 777.86 L1180.08 773.17 L1180.67 768.25 L1181.26 763.11 L1181.85 757.76 L1182.45 752.19 L1183.04 746.43 L1183.63 740.49 L1184.22 734.37 L1184.81 728.09 L1185.40 721.66 L1186.00 715.12 L1186.59 708.48 L1187.18 701.76 L1187.77 694.99 L1188.36 688.20 L1188.95 681.41 L1189.55 674.67 L1190.14 668.00 L1190.73 661.44 L1191.32 655.02 L1191.91 648.78 L1192.51 642.77 L1193.10 637.01 L1193.69 631.55 L1194.28 626.43 L1194.87 621.68 L1195.46 617.33 L1196.06 613.44 L1196.65 610.02 L1197.24 607.11 L1197.83 604.75 L1198.42 602.95 L1199.01 601.74 L1199.61 601.15 L1200.20 601.18 L1200.79 601.85 L1201.38 603.17 L1201.97 605.14 L1202.57 607.76 L1203.16 611.02 L1203.75 614.92 L1204.34 619.43 L1204.93 624.55 L1205.52 630.24 L1206.12 636.48 L1206.71 643.23 L1207.30 650.46 L1207.89 658.12 L1208.48 666.18 L1209.08 674.59 L1209.67 683.29 L1210.26 692.23 L1210.85 701.37 L1211.44 710.65 L1212.03 720.02 L1212.63 729.42 L1213.22 738.79 L1213.81 748.09 L1214.40 757.27 L1214.99 766.26 L1215.58 775.03 L1216.18 783.53 L1216.77 791.72 L1217.36 799.56 L1217.95 807.01 L1218.54 814.04 L1219.14 820.63 L1219.73 826.74 L1220.32 832.37 L1220.91 837.49 L1221.50 842.09 L1222.09 846.16 L1222.69 849.71 L1223.28 852.73 L1223.87 855.22 L1224.46 857.20 L1225.05 858.67 L1225.64 859.64 L1226.24 860.14 L1226.83 860.18 L1227.42 859.78 L1228.01 858.96 L1228.60 857.75 L1229.20 856.18 L1229.79 854.26 L1230.38 852.04 L1230.97 849.53 L1231.56 846.76 L1232.15 843.77 L1232.75 840.57 L1233.34 837.20 L1233.93 833.69 L1234.52 830.06 L1235.11 826.33 L1235.71 822.54 L1236.30 818.70 L1236.89 814.83 L1237.48 810.97 L1238.07 807.12 L1238.66 803.31 L1239.26 799.55 L1239.85 795.86 L1240.44 792.25 L1241.03 788.75 L1241.62 785.35 L1242.21 782.08 L1242.81 778.94 L1243.40 775.94 L1243.99 773.09 L1244.58 770.39 L1245.17 767.86 L1245.77 765.50 L1246.36 763.32 L1246.95 761.31 L1247.54 759.48 L1248.13 757.84 L1248.72 756.38 L1249.32 755.12 L1249.91 754.05 L1250.50 753.17 L1251.09 752.48 L1251.68 751.99 L1252.27 751.70 L1252.87 751.60 L1253.46 751.70 L1254.05 751.99 L1254.64 752.48 L1255.23 753.17 L1255.83 754.05 L1256.42 755.12 L1257.01 756.38 L1257.60 757.84 L1258.19 759.48 L1258.78 761.31 L1259.38 763.32 L1259.97 765.50 L1260.56 767.86 L1261.15 770.39 L1261.74 773.09 L1262.34 775.94 L1262.93 778.94 L1263.52 782.08 L1264.11 785.35 L1264.70 788.75 L1265.29 792.25 L1265.89 795.86 L1266.48 799.55 L1267.07 803.31 L1267.66 807.12 L1268.25 810.97 L1268.84 814.83 L1269.44 818.70 L1270.03 822.54 L1270.62 826.33 L1271.21 830.06 L1271.80 833.69 L1272.40 837.20 L1272.99 840.57 L1273.58 843.77 L1274.17 846.76 L1274.76 849.53 L1275.35 852.04 L1275.95 854.26 L1276.54 856.18 L1277.13 857.75 L1277.72 858.96 L1278.31 859.78 L1278.90 860.18 L1279.50 860.14 L1280.09 859.64 L1280.68 858.67 L1281.27 857.20 L1281.86 855.22 L1282.46 852.73 L1283.05 849.71 L1283.64 846.16 L1284.23 842.09 L1284.82 837.49 L1285.41 832.37 L1286.01 826.74 L1286.60 820.63 L1287.19 814.04 L1287.78 807.01 L1288.37 799.56 L1288.97 791.72 L1289.56 783.53 L1290.15 775.03 L1290.74 766.26 L1291.33 757.27 L1291.92 748.09 L1292.52 738.79 L1293.11 729.42 L1293.70 720.02 L1294.29 710.65 L1294.88 701.37 L1295.47 692.23 L1296.07 683.29 L1296.66 674.59 L1297.25 666.18 L1297.84 658.12 L1298.43 650.46 L1299.03 643.23 L1299.62 636.48 L1300.21 630.24 L1300.80 624.55 L1301.39 619.43 L1301.98 614.92 L1302.58 611.02 L1303.17 607.76 L1303.76 605.14 L1304.35 603.17 L1304.94 601.85 L1305.53 601.18 L1306.13 601.15 L1306.72 601.74 L1307.31 602.95 L1307.90 604.75 L1308.49 607.11 L1309.09 610.02 L1309.68 613.44 L1310.27 617.33 L1310.86 621.68 L1311.45 626.43 L1312.04 631.55 L1312.64 637.01 L1313.23 642.77 L1313.82 648.78 L1314.41 655.02 L1315.00 661.44 L1315.60 668.00 L1316.19 674.67 L1316.78 681.41 L1317.37 688.20 L1317.96 694.99 L1318.55 701.76 L1319.15 708.48 L1319.74 715.12 L1320.33 721.66 L1320.92 728.09 L1321.51 734.37 L1322.10 740.49 L1322.70 746.43 L1323.29 752.19 L1323.88 757.76 L1324.47 763.11 L1325.06 768.25 L1325.66 773.17 L1326.25 777.86 L1326.84 782.33 L1327.43 786.57 L1328.02 790.59 L1328.61 794.38 L1329.21 797.94 L1329.80 801.29 L1330.39 804.42 L1330.98 807.34 L1331.57 810.06 L1332.16 812.58 L1332.76 814.90 L1333.35 817.04 L1333.94 818.99 L1334.53 820.78 L1335.12 822.39 L1335.72 823.84 L1336.31 825.14 L1336.90 826.28 L1337.49 827.27 L1338.08 828.13 L1338.67 828.84 L1339.27 829.42 L1339.86 829.87 L1340.45 830.19 L1341.04 830.38 L1341.63 830.45 L1342.23 830.38 L1342.82 830.19 L1343.41 829.87 L1344.00 829.42 L1344.59 828.84 L1345.18 828.13 L1345.78 827.27 L1346.37 826.28 L1346.96 825.14 L1347.55 823.84 L1348.14 822.39 L1348.73 820.78 L1349.33 818.99 L1349.92 817.04 L1350.51 814.90 L1351.10 812.58 L1351.69 810.06 L1352.29 807.34 L1352.88 804.42 L1353.47 801.29 L1354.06 797.94 L1354.65 794.38 L1355.24 790.59 L1355.84 786.57 L1356.43 782.33 L1357.02 777.86 L1357.61 773.17 L1358.20 768.25 L1358.79 763.11 L1359.39 757.76 L1359.98 752.19 L1360.57 746.43 L1361.16 740.49 L1361.75 734.37 L1362.35 728.09 L1362.94 721.66 L1363.53 715.12 L1364.12 708.48 L1364.71 701.76 L1365.30 694.99 L1365.90 688.20 L1366.49 681.41 L1367.08 674.67 L1367.67 668.00 L1368.26 661.44 L1368.86 655.02 L1369.45 648.78 L1370.04 642.77 L1370.63 637.01 L1371.22 631.55 L1371.81 626.43 L1372.41 621.68 L1373.00 617.33 L1373.59 613.44 L1374.18 610.02 L1374.77 607.11 L1375.36 604.75 L1375.96 602.95 L1376.55 601.74 L1377.14 601.15 L1377.73 601.18 L1378.32 601.85 L1378.92 603.17 L1379.51 605.14 L1380.10 607.76 L1380.69 611.02 L1381.28 614.92 L1381.87 619.43 L1382.47 624.55 L1383.06 630.24 L1383.65 636.48 L1384.24 643.23 L1384.83 650.46 L1385.42 658.12 L1386.02 666.18 L1386.61 674.59 L1387.20 683.29 L1387.79 692.23 L1388.38 701.37 L1388.98 710.65 L1389.57 720.02 L1390.16 729.42 L1390.75 738.79 L1391.34 748.09 L1391.93 757.27 L1392.53 766.26 L1393.12 775.03 L1393.71 783.53 L1394.30 791.72 L1394.89 799.56 L1395.49 807.01 L1396.08 814.04 L1396.67 820.63 L1397.26 826.74 L1397.85 832.37 L1398.44 837.49 L1399.04 842.09 L1399.63 846.16 L1400.22 849.71 L1400.81 852.73 L1401.40 855.22 L1401.99 857.20 L1402.59 858.67 L1403.18 859.64 L1403.77 860.14 L1404.36 860.18 L1404.95 859.78 L1405.55 858.96 L1406.14 857.75 L1406.73 856.18 L1407.32 854.26 L1407.91 852.04 L1408.50 849.53 L1409.10 846.76 L1409.69 843.77 L1410.28 840.57 L1410.87 837.20 L1411.46 833.69 L1412.05 830.06 L1412.65 826.33 L1413.24 822.54 L1413.83 818.70 L1414.42 814.83 L1415.01 810.97 L1415.61 807.12 L1416.20 803.31 L1416.79 799.55 L1417.38 795.86 L1417.97 792.25 L1418.56 788.75 L1419.16 785.35 L1419.75 782.08 L1420.34 778.94 L1420.93 775.94 L1421.52 773.09 L1422.12 770.39 L1422.71 767.86 L1423.30 765.50 L1423.89 763.32 L1424.48 761.31 L1425.07 759.48 L1425.67 757.84 L1426.26 756.38 L1426.85 755.12 L1427.44 754.05 L1428.03 753.17 L1428.62 752.48 L1429.22 751.99 L1429.81 751.70 L1430.40 751.60" stroke="#f00" stroke-width="3.0" fill="none" stroke-linejoin="round" clip-path="url(#cpd)"/>
<rect x="897.80" y="536.30" width="532.60" height="389.00" fill="none" stroke="#000" stroke-width="1.75"/>
<line x1="897.80" y1="925.30" x2="897.80" y2="933.90" stroke="#000" stroke-width="1.6"/>
<text x="897.80" y="956.90" class="tk" text-anchor="middle">0</text>
<line x1="1030.95" y1="925.30" x2="1030.95" y2="933.90" stroke="#000" stroke-width="1.6"/>
<text x="1030.95" y="956.90" class="tk" text-anchor="middle">50</text>
<line x1="1164.10" y1="925.30" x2="1164.10" y2="933.90" stroke="#000" stroke-width="1.6"/>
<text x="1164.10" y="956.90" class="tk" text-anchor="middle">100</text>
<line x1="1297.25" y1="925.30" x2="1297.25" y2="933.90" stroke="#000" stroke-width="1.6"/>
<text x="1297.25" y="956.90" class="tk" text-anchor="middle">150</text>
<line x1="1430.40" y1="925.30" x2="1430.40" y2="933.90" stroke="#000" stroke-width="1.6"/>
<text x="1430.40" y="956.90" class="tk" text-anchor="middle">200</text>
<line x1="964.38" y1="925.30" x2="964.38" y2="929.90" stroke="#000" stroke-width="1.5"/>
<line x1="1097.53" y1="925.30" x2="1097.53" y2="929.90" stroke="#000" stroke-width="1.5"/>
<line x1="1230.67" y1="925.30" x2="1230.67" y2="929.90" stroke="#000" stroke-width="1.5"/>
<line x1="1363.83" y1="925.30" x2="1363.83" y2="929.90" stroke="#000" stroke-width="1.5"/>
<line x1="889.40" y1="536.30" x2="897.80" y2="536.30" stroke="#000" stroke-width="1.6"/>
<text x="883.80" y="542.80" class="tk" text-anchor="end">1.15</text>
<line x1="889.40" y1="601.08" x2="897.80" y2="601.08" stroke="#000" stroke-width="1.6"/>
<text x="883.80" y="607.58" class="tk" text-anchor="end">1.10</text>
<line x1="889.40" y1="665.87" x2="897.80" y2="665.87" stroke="#000" stroke-width="1.6"/>
<text x="883.80" y="672.37" class="tk" text-anchor="end">1.05</text>
<line x1="889.40" y1="730.65" x2="897.80" y2="730.65" stroke="#000" stroke-width="1.6"/>
<text x="883.80" y="737.15" class="tk" text-anchor="end">1.00</text>
<line x1="889.40" y1="795.43" x2="897.80" y2="795.43" stroke="#000" stroke-width="1.6"/>
<text x="883.80" y="801.93" class="tk" text-anchor="end">0.95</text>
<line x1="889.40" y1="860.22" x2="897.80" y2="860.22" stroke="#000" stroke-width="1.6"/>
<text x="883.80" y="866.72" class="tk" text-anchor="end">0.90</text>
<line x1="889.40" y1="925.00" x2="897.80" y2="925.00" stroke="#000" stroke-width="1.6"/>
<text x="883.80" y="931.50" class="tk" text-anchor="end">0.85</text>
<line x1="893.20" y1="568.69" x2="897.80" y2="568.69" stroke="#000" stroke-width="1.5"/>
<line x1="893.20" y1="633.47" x2="897.80" y2="633.47" stroke="#000" stroke-width="1.5"/>
<line x1="893.20" y1="698.26" x2="897.80" y2="698.26" stroke="#000" stroke-width="1.5"/>
<line x1="893.20" y1="763.04" x2="897.80" y2="763.04" stroke="#000" stroke-width="1.5"/>
<line x1="893.20" y1="827.82" x2="897.80" y2="827.82" stroke="#000" stroke-width="1.5"/>
<line x1="893.20" y1="892.61" x2="897.80" y2="892.61" stroke="#000" stroke-width="1.5"/>
<text x="1164.30" y="999.20" class="ax" text-anchor="middle">t / ps</text>
<text transform="translate(809.20 733.80) rotate(-90)" class="ax" text-anchor="middle">Normalized intensity I(t, x)</text>
<line x1="933.50" y1="874.50" x2="1092.00" y2="874.50" stroke="#000" stroke-width="2.4"/>
<path d="M923.60 874.50 L934.50 871.90 L934.50 877.10 Z" fill="#000" stroke="#000" stroke-width="0.9" stroke-linejoin="round"/>
<path d="M1101.90 874.50 L1091.00 871.90 L1091.00 877.10 Z" fill="#000" stroke="#000" stroke-width="0.9" stroke-linejoin="round"/>
<text x="1008.8" y="868.8" class="T" text-anchor="middle">T</text>
<text x="913.3" y="577.1" class="pl">(d)</text>
<text x="906.2" y="909.8" class="tl">t<tspan font-size="14.5" dy="9" fill="#333">0</tspan></text>
<text x="933.3" y="909.8" class="tl">t<tspan font-size="14.5" dy="9" fill="#333">1</tspan></text>
<text x="967.3" y="909.8" class="tl">t<tspan font-size="14.5" dy="9" fill="#333">2</tspan></text>
<text x="1004.8" y="909.8" class="tl">t<tspan font-size="14.5" dy="9" fill="#333">3</tspan></text>
<text x="1029.3" y="909.8" class="tl">t<tspan font-size="14.5" dy="9" fill="#333">4</tspan></text>
<text x="1057.3" y="909.8" class="tl">t<tspan font-size="14.5" dy="9" fill="#333">5</tspan></text>
<text x="1085.3" y="909.8" class="tl">t<tspan font-size="14.5" dy="9" fill="#333">6</tspan></text>
<g clip-path="url(#cpe)">
<path d="M103.60 1072.86 L104.19 1072.88 L104.78 1072.96 L105.38 1073.09 L105.97 1073.27 L106.56 1073.51 L107.15 1073.79 L107.74 1074.13 L108.33 1074.52 L108.93 1074.96 L109.52 1075.45 L110.11 1076.00 L110.70 1076.59 L111.29 1077.23 L111.88 1077.93 L112.48 1078.67 L113.07 1079.47 L113.66 1080.31 L114.25 1081.20 L114.84 1082.14 L115.44 1083.13 L116.03 1084.17 L116.62 1085.25 L117.21 1086.38 L117.80 1087.56 L118.39 1088.78 L118.99 1090.05 L119.58 1091.36 L120.17 1092.72 L120.76 1094.12 L121.35 1095.57 L121.95 1097.05 L122.54 1098.58 L123.13 1100.15 L123.72 1101.76 L124.31 1103.41 L124.90 1105.09 L125.50 1106.82 L126.09 1108.58 L126.68 1110.38 L127.27 1112.22 L127.86 1114.09 L128.45 1116.00 L129.05 1117.94 L129.64 1119.91 L130.23 1121.91 L130.82 1123.95 L131.41 1126.01 L132.01 1128.11 L132.60 1130.23 L133.19 1132.38 L133.78 1134.56 L134.37 1136.76 L134.96 1138.98 L135.56 1141.24 L136.15 1143.51 L136.74 1145.80 L137.33 1148.12 L137.92 1150.45 L138.51 1152.81 L139.11 1155.18 L139.70 1157.57 L140.29 1159.97 L140.88 1162.39 L141.47 1164.83 L142.07 1167.27 L142.66 1169.73 L143.25 1172.20 L143.84 1174.67 L144.43 1177.16 L145.02 1179.65 L145.62 1182.15 L146.21 1184.66 L146.80 1187.16 L147.39 1189.68 L147.98 1192.19 L148.58 1194.70 L149.17 1197.22 L149.76 1199.73 L150.35 1202.24 L150.94 1204.75 L151.53 1207.25 L152.13 1209.75 L152.72 1212.24 L153.31 1214.72 L153.90 1217.20 L154.49 1219.66 L155.08 1222.12 L155.68 1224.56 L156.27 1226.99 L156.86 1229.40 L157.45 1231.80 L158.04 1234.19 L158.64 1236.56 L159.23 1238.91 L159.82 1241.24 L160.41 1243.55 L161.00 1245.84 L161.59 1248.10 L162.19 1250.35 L162.78 1252.57 L163.37 1254.77 L163.96 1256.94 L164.55 1259.08 L165.14 1261.20 L165.74 1263.29 L166.33 1265.35 L166.92 1267.38 L167.51 1269.38 L168.10 1271.34 L168.70 1273.28 L169.29 1275.18 L169.88 1277.05 L170.47 1278.88 L171.06 1280.68 L171.65 1282.44 L172.25 1284.16 L172.84 1285.84 L173.43 1287.49 L174.02 1289.10 L174.61 1290.66 L175.21 1292.19 L175.80 1293.67 L176.39 1295.12 L176.98 1296.52 L177.57 1297.88 L178.16 1299.19 L178.76 1300.46 L179.35 1301.69 L179.94 1302.87 L180.53 1304.01 L181.12 1305.10 L181.71 1306.14 L182.31 1307.14 L182.90 1308.09 L183.49 1308.99 L184.08 1309.84 L184.67 1310.65 L185.27 1311.41 L185.86 1312.12 L186.45 1312.78 L187.04 1313.39 L187.63 1313.95 L188.22 1314.46 L188.82 1314.92 L189.41 1315.34 L190.00 1315.70 L190.59 1316.01 L191.18 1316.27 L191.77 1316.48 L192.37 1316.64 L192.96 1316.75 L193.55 1316.81 L194.14 1316.82 L194.73 1316.78 L195.33 1316.69 L195.92 1316.55 L196.51 1316.36 L197.10 1316.12 L197.69 1315.83 L198.28 1315.49 L198.88 1315.10 L199.47 1314.67 L200.06 1314.18 L200.65 1313.64 L201.24 1313.06 L201.84 1312.43 L202.43 1311.75 L203.02 1311.02 L203.61 1310.25 L204.20 1309.43 L204.79 1308.57 L205.39 1307.66 L205.98 1306.70 L206.57 1305.70 L207.16 1304.66 L207.75 1303.57 L208.34 1302.44 L208.94 1301.27 L209.53 1300.05 L210.12 1298.79 L210.71 1297.50 L211.30 1296.16 L211.90 1294.78 L212.49 1293.37 L213.08 1291.92 L213.67 1290.42 L214.26 1288.90 L214.85 1287.34 L215.45 1285.74 L216.04 1284.11 L216.63 1282.44 L217.22 1280.74 L217.81 1279.01 L218.40 1277.25 L219.00 1275.46 L219.59 1273.64 L220.18 1271.79 L220.77 1269.91 L221.36 1268.01 L221.96 1266.08 L222.55 1264.13 L223.14 1262.15 L223.73 1260.15 L224.32 1258.12 L224.91 1256.08 L225.51 1254.01 L226.10 1251.93 L226.69 1249.83 L227.28 1247.71 L227.87 1245.58 L228.47 1243.43 L229.06 1241.26 L229.65 1239.09 L230.24 1236.90 L230.83 1234.70 L231.42 1232.49 L232.02 1230.27 L232.61 1228.04 L233.20 1225.81 L233.79 1223.57 L234.38 1221.32 L234.97 1219.08 L235.57 1216.83 L236.16 1214.57 L236.75 1212.32 L237.34 1210.07 L237.93 1207.82 L238.53 1205.57 L239.12 1203.33 L239.71 1201.09 L240.30 1198.86 L240.89 1196.64 L241.48 1194.42 L242.08 1192.21 L242.67 1190.02 L243.26 1187.83 L243.85 1185.66 L244.44 1183.50 L245.03 1181.35 L245.63 1179.22 L246.22 1177.11 L246.81 1175.01 L247.40 1172.93 L247.99 1170.87 L248.59 1168.83 L249.18 1166.82 L249.77 1164.82 L250.36 1162.85 L250.95 1160.91 L251.54 1158.98 L252.14 1157.09 L252.73 1155.22 L253.32 1153.38 L253.91 1151.57 L254.50 1149.79 L255.10 1148.04 L255.69 1146.32 L256.28 1144.63 L256.87 1142.98 L257.46 1141.36 L258.05 1139.77 L258.65 1138.23 L259.24 1136.71 L259.83 1135.24 L260.42 1133.80 L261.01 1132.40 L261.60 1131.04 L262.20 1129.72 L262.79 1128.44 L263.38 1127.21 L263.97 1126.01 L264.56 1124.86 L265.16 1123.75 L265.75 1122.68 L266.34 1121.66 L266.93 1120.68 L267.52 1119.75 L268.11 1118.86 L268.71 1118.03 L269.30 1117.23 L269.89 1116.49 L270.48 1115.79 L271.07 1115.14 L271.66 1114.54 L272.26 1113.99 L272.85 1113.49 L273.44 1113.03 L274.03 1112.63 L274.62 1112.28 L275.22 1111.97 L275.81 1111.72 L276.40 1111.52 L276.99 1111.37 L277.58 1111.27 L278.17 1111.22 L278.77 1111.22 L279.36 1111.28 L279.95 1111.38 L280.54 1111.54 L281.13 1111.75 L281.73 1112.01 L282.32 1112.32 L282.91 1112.69 L283.50 1113.10 L284.09 1113.57 L284.68 1114.09 L285.28 1114.66 L285.87 1115.28 L286.46 1115.95 L287.05 1116.67 L287.64 1117.45 L288.23 1118.27 L288.83 1119.14 L289.42 1120.07 L290.01 1121.04 L290.60 1122.06 L291.19 1123.13 L291.79 1124.25 L292.38 1125.42 L292.97 1126.63 L293.56 1127.89 L294.15 1129.20 L294.74 1130.56 L295.34 1131.96 L295.93 1133.40 L296.52 1134.89 L297.11 1136.43 L297.70 1138.00 L298.29 1139.63 L298.89 1141.29 L299.48 1142.99 L300.07 1144.74 L300.66 1146.53 L301.25 1148.35 L301.85 1150.22 L302.44 1152.12 L303.03 1154.07 L303.62 1156.05 L304.21 1158.06 L304.80 1160.11 L305.40 1162.20 L305.99 1164.31 L306.58 1166.47 L307.17 1168.65 L307.76 1170.87 L308.36 1173.11 L308.95 1175.39 L309.54 1177.69 L310.13 1180.02 L310.72 1182.38 L311.31 1184.76 L311.91 1187.17 L312.50 1189.61 L313.09 1192.06 L313.68 1194.54 L314.27 1197.04 L314.86 1199.56 L315.46 1202.10 L316.05 1204.66 L316.64 1207.23 L317.23 1209.82 L317.82 1212.43 L318.42 1215.05 L319.01 1217.68 L319.60 1220.32 L320.19 1222.98 L320.78 1225.64 L321.37 1228.32 L321.97 1231.00 L322.56 1233.69 L323.15 1236.38 L323.74 1239.08 L324.33 1241.78 L324.92 1244.49 L325.52 1247.19 L326.11 1249.90 L326.70 1252.61 L327.29 1255.31 L327.88 1258.01 L328.48 1260.71 L329.07 1263.40 L329.66 1266.08 L330.25 1268.76 L330.84 1271.43 L331.43 1274.09 L332.03 1276.74 L332.62 1279.38 L333.21 1282.00 L333.80 1284.61 L334.39 1287.21 L334.99 1289.79 L335.58 1292.36 L336.17 1294.91 L336.76 1297.43 L337.35 1299.94 L337.94 1302.43 L338.54 1304.90 L339.13 1307.34 L339.72 1309.76 L340.31 1312.16 L340.90 1314.53 L341.49 1316.88 L342.09 1319.19 L342.68 1321.48 L343.27 1323.74 L343.86 1325.97 L344.45 1328.17 L345.05 1330.34 L345.64 1332.48 L346.23 1334.58 L346.82 1336.65 L347.41 1338.68 L348.00 1340.68 L348.60 1342.64 L349.19 1344.56 L349.78 1346.45 L350.37 1348.29 L350.96 1350.10 L351.55 1351.87 L352.15 1353.60 L352.74 1355.28 L353.33 1356.92 L353.92 1358.53 L354.51 1360.08 L355.11 1361.60 L355.70 1363.07 L356.29 1364.49 L356.88 1365.87 L357.47 1367.21 L358.06 1368.50 L358.66 1369.74 L359.25 1370.93 L359.84 1372.08 L360.43 1373.18 L361.02 1374.23 L361.62 1375.23 L362.21 1376.18 L362.80 1377.09 L363.39 1377.94 L363.98 1378.75 L364.57 1379.50 L365.17 1380.20 L365.76 1380.86 L366.35 1381.46 L366.94 1382.01 L367.53 1382.52 L368.12 1382.97 L368.72 1383.37 L369.31 1383.71 L369.90 1384.01 L370.49 1384.26 L371.08 1384.45 L371.68 1384.60 L372.27 1384.69 L372.86 1384.73 L373.45 1384.72 L374.04 1384.66 L374.63 1384.55 L375.23 1384.39 L375.82 1384.18 L376.41 1383.91 L377.00 1383.60 L377.59 1383.24 L378.18 1382.83 L378.78 1382.37 L379.37 1381.86 L379.96 1381.31 L380.55 1380.70 L381.14 1380.05 L381.74 1379.35 L382.33 1378.60 L382.92 1377.81 L383.51 1376.97 L384.10 1376.09 L384.69 1375.16 L385.29 1374.18 L385.88 1373.17 L386.47 1372.11 L387.06 1371.00 L387.65 1369.86 L388.25 1368.67 L388.84 1367.44 L389.43 1366.17 L390.02 1364.87 L390.61 1363.52 L391.20 1362.14 L391.80 1360.71 L392.39 1359.25 L392.98 1357.76 L393.57 1356.23 L394.16 1354.67 L394.75 1353.07 L395.35 1351.44 L395.94 1349.77 L396.53 1348.08 L397.12 1346.36 L397.71 1344.60 L398.31 1342.82 L398.90 1341.01 L399.49 1339.18 L400.08 1337.32 L400.67 1335.43 L401.26 1333.52 L401.86 1331.59 L402.45 1329.63 L403.04 1327.65 L403.63 1325.66 L404.22 1323.64 L404.81 1321.61 L405.41 1319.56 L406.00 1317.49 L406.59 1315.41 L407.18 1313.31 L407.77 1311.21 L408.37 1309.09 L408.96 1306.95 L409.55 1304.81 L410.14 1302.66 L410.73 1300.51 L411.32 1298.34 L411.92 1296.17 L412.51 1294.00 L413.10 1291.82 L413.69 1289.64 L414.28 1287.46 L414.88 1285.28 L415.47 1283.10 L416.06 1280.92 L416.65 1278.74 L417.24 1276.57 L417.83 1274.41 L418.43 1272.25 L419.02 1270.09 L419.61 1267.95 L420.20 1265.81 L420.79 1263.69 L421.38 1261.57 L421.98 1259.47 L422.57 1257.38 L423.16 1255.31 L423.75 1253.25 L424.34 1251.21 L424.94 1249.18 L425.53 1247.18 L426.12 1245.19 L426.71 1243.23 L427.30 1241.28 L427.89 1239.36 L428.49 1237.46 L429.08 1235.59 L429.67 1233.74 L430.26 1231.92 L430.85 1230.13 L431.44 1228.36 L432.04 1226.62 L432.63 1224.91 L433.22 1223.23 L433.81 1221.59 L434.40 1219.97 L435.00 1218.39 L435.59 1216.84 L436.18 1215.33 L436.77 1213.85 L437.36 1212.41 L437.95 1211.01 L438.55 1209.64 L439.14 1208.32 L439.73 1207.03 L440.32 1205.78 L440.91 1204.57 L441.51 1203.40 L442.10 1202.27 L442.69 1201.19 L443.28 1200.15 L443.87 1199.15 L444.46 1198.20 L445.06 1197.29 L445.65 1196.42 L446.24 1195.61 L446.83 1194.83 L447.42 1194.11 L448.01 1193.43 L448.61 1192.79 L449.20 1192.21 L449.79 1191.67 L450.38 1191.18 L450.97 1190.74 L451.57 1190.35 L452.16 1190.01 L452.75 1189.71 L453.34 1189.47 L453.93 1189.28 L454.52 1189.13 L455.12 1189.04 L455.71 1189.00 L456.30 1189.00 L456.89 1189.06 L457.48 1189.17 L458.07 1189.33 L458.67 1189.54 L459.26 1189.80 L459.85 1190.11 L460.44 1190.47 L461.03 1190.88 L461.63 1191.35 L462.22 1191.86 L462.81 1192.42 L463.40 1193.04 L463.99 1193.70 L464.58 1194.42 L465.18 1195.18 L465.77 1195.99 L466.36 1196.85 L466.95 1197.76 L467.54 1198.72 L468.14 1199.73 L468.73 1200.78 L469.32 1201.89 L469.91 1203.04 L470.50 1204.23 L471.09 1205.47 L471.69 1206.76 L472.28 1208.09 L472.87 1209.47 L473.46 1210.89 L474.05 1212.36 L474.64 1213.87 L475.24 1215.42 L475.83 1217.02 L476.42 1218.65 L477.01 1220.33 L477.60 1222.04 L478.20 1223.80 L478.79 1225.60 L479.38 1227.43 L479.97 1229.30 L480.56 1231.21 L481.15 1233.15 L481.75 1235.13 L482.34 1237.14 L482.93 1239.19 L483.52 1241.27 L484.11 1243.38 L484.70 1245.52 L485.30 1247.70 L485.89 1249.90 L486.48 1252.13 L487.07 1254.39 L487.66 1256.68 L488.26 1258.99 L488.85 1261.32 L489.44 1263.69 L490.03 1266.07 L490.62 1268.48 L491.21 1270.90 L491.81 1273.35 L492.40 1275.82 L492.99 1278.30 L493.58 1280.80 L494.17 1283.32 L494.77 1285.85 L495.36 1288.40 L495.95 1290.96 L496.54 1293.54 L497.13 1296.12 L497.72 1298.71 L498.32 1301.32 L498.91 1303.93 L499.50 1306.54 L500.09 1309.17 L500.68 1311.80 L501.27 1314.43 L501.87 1317.06 L502.46 1319.70 L503.05 1322.33 L503.64 1324.97 L504.23 1327.60 L504.83 1330.23 L505.42 1332.86 L506.01 1335.48 L506.60 1338.10 L507.19 1340.71 L507.78 1343.31 L508.38 1345.90 L508.97 1348.48 L509.56 1351.05 L510.15 1353.61 L510.74 1356.15 L511.33 1358.68 L511.93 1361.19 L512.52 1363.69 L513.11 1366.17 L513.70 1368.63 L514.29 1371.07 L514.89 1373.49 L515.48 1375.89 L516.07 1378.27 L516.66 1380.63 L517.25 1382.95 L517.84 1385.26 L518.44 1387.54 L519.03 1389.79 L519.62 1392.01 L520.21 1394.20 L520.80 1396.37 L521.40 1398.50 L521.99 1400.60 L522.58 1402.67 L523.17 1404.70 L523.76 1406.70 L524.35 1408.67 L524.95 1410.60 L525.54 1412.49 L526.13 1414.35 L526.72 1416.17 L527.31 1417.94 L527.90 1419.68 L528.50 1421.38 L529.09 1423.04 L529.68 1424.66 L530.27 1426.23 L530.86 1427.77 L531.46 1429.25 L532.05 1430.70 L532.64 1432.10 L533.23 1433.45 L533.82 1434.76 L534.41 1436.03 L535.01 1437.24 L535.60 1438.41 L536.19 1439.53 L536.78 1440.61 L537.37 1441.63 L537.96 1442.61 L538.56 1443.54 L539.15 1444.42 L539.74 1445.25 L540.33 1446.02 L540.92 1446.75 L541.52 1447.43 L542.11 1448.06 L542.70 1448.63 L543.29 1449.16 L543.88 1449.63 L544.47 1450.05 L545.07 1450.42 L545.66 1450.74 L546.25 1451.00 L546.84 1451.22 L547.43 1451.38 L548.03 1451.49 L548.62 1451.55 L549.21 1451.55 L549.80 1451.51 L550.39 1451.41 L550.98 1451.26 L551.58 1451.06 L552.17 1450.80 L552.76 1450.50 L553.35 1450.14 L553.94 1449.74 L554.53 1449.28 L555.13 1448.77 L555.72 1448.22 L556.31 1447.61 L556.90 1446.95 L557.49 1446.25 L558.09 1445.49 L558.68 1444.69 L559.27 1443.84 L559.86 1442.94 L560.45 1441.99 L561.04 1441.00 L561.64 1439.96 L562.23 1438.88 L562.82 1437.75 L563.41 1436.57 L564.00 1435.36 L564.59 1434.09 L565.19 1432.79 L565.78 1431.44 L566.37 1430.05 L566.96 1428.62 L567.55 1427.15 L568.15 1425.65 L568.74 1424.10 L569.33 1422.51 L569.92 1420.89 L570.51 1419.23 L571.10 1417.53 L571.70 1415.80 L572.29 1414.03 L572.88 1412.23 L573.47 1410.40 L574.06 1408.53 L574.66 1406.64 L575.25 1404.71 L575.84 1402.76 L576.43 1400.78 L577.02 1398.77 L577.61 1396.73 L578.21 1394.67 L578.80 1392.58 L579.39 1390.47 L579.98 1388.34 L580.57 1386.18 L581.16 1384.01 L581.76 1381.81 L582.35 1379.60 L582.94 1377.37 L583.53 1375.12 L584.12 1372.85 L584.72 1370.57 L585.31 1368.28 L585.90 1365.98 L586.49 1363.66 L587.08 1361.33 L587.67 1359.00 L588.27 1356.65 L588.86 1354.30 L589.45 1351.94 L590.04 1349.58 L590.63 1347.21 L591.22 1344.84 L591.82 1342.47 L592.41 1340.09 L593.00 1337.72 L593.59 1335.35 L594.18 1332.98 L594.78 1330.61 L595.37 1328.25 L595.96 1325.89 L596.55 1323.54 L597.14 1321.20 L597.73 1318.86 L598.33 1316.54 L598.92 1314.23 L599.51 1311.92 L600.10 1309.63 L600.69 1307.36 L601.29 1305.10 L601.88 1302.86 L602.47 1300.63 L603.06 1298.42 L603.65 1296.23 L604.24 1294.06 L604.84 1291.91 L605.43 1289.78 L606.02 1287.67 L606.61 1285.59 L607.20 1283.54 L607.79 1281.50 L608.39 1279.50 L608.98 1277.52 L609.57 1275.57 L610.16 1273.65 L610.75 1271.76 L611.35 1269.91 L611.94 1268.08 L612.53 1266.28 L613.12 1264.52 L613.71 1262.79 L614.30 1261.10 L614.90 1259.44 L615.49 1257.82 L616.08 1256.24 L616.67 1254.69 L617.26 1253.19 L617.85 1251.72 L618.45 1250.29 L619.04 1248.90 L619.63 1247.56 L620.22 1246.25 L620.81 1244.99 L621.41 1243.77 L622.00 1242.59 L622.59 1241.46 L623.18 1240.37 L623.77 1239.33 L624.36 1238.33 L624.96 1237.38 L625.55 1236.47 L626.14 1235.61 L626.73 1234.80 L627.32 1234.04 L627.92 1233.32 L628.51 1232.65 L629.10 1232.03 L629.69 1231.46 L630.28 1230.94 L630.87 1230.46 L631.47 1230.04 L632.06 1229.66 L632.65 1229.34 L633.24 1229.06 L633.83 1228.83 L634.42 1228.66 L635.02 1228.53 L635.61 1228.46 L636.20 1228.43" class="bl" fill="none"/>
</g>
<line x1="103.60" y1="1139.5" x2="661.8" y2="1139.5" class="gl"/>
<line x1="103.60" y1="1232.3" x2="661.8" y2="1233.5" stroke="#666" stroke-width="1.1" stroke-dasharray="3.3 2.7"/>
<line x1="103.60" y1="1283.3" x2="661.8" y2="1283.3" class="gl"/>
<path d="M103.60 1299.10 L104.19 1299.07 L104.78 1298.99 L105.38 1298.86 L105.97 1298.68 L106.56 1298.45 L107.15 1298.16 L107.74 1297.82 L108.33 1297.43 L108.93 1296.99 L109.52 1296.50 L110.11 1295.96 L110.70 1295.36 L111.29 1294.72 L111.88 1294.02 L112.48 1293.28 L113.07 1292.49 L113.66 1291.64 L114.25 1290.75 L114.84 1289.81 L115.44 1288.82 L116.03 1287.78 L116.62 1286.70 L117.21 1285.57 L117.80 1284.39 L118.39 1283.17 L118.99 1281.90 L119.58 1280.59 L120.17 1279.23 L120.76 1277.83 L121.35 1276.39 L121.95 1274.90 L122.54 1273.37 L123.13 1271.80 L123.72 1270.20 L124.31 1268.55 L124.90 1266.86 L125.50 1265.13 L126.09 1263.37 L126.68 1261.57 L127.27 1259.73 L127.86 1257.86 L128.45 1255.96 L129.05 1254.02 L129.64 1252.04 L130.23 1250.04 L130.82 1248.01 L131.41 1245.94 L132.01 1243.85 L132.60 1241.72 L133.19 1239.57 L133.78 1237.40 L134.37 1235.19 L134.96 1232.97 L135.56 1230.72 L136.15 1228.44 L136.74 1226.15 L137.33 1223.83 L137.92 1221.50 L138.51 1219.14 L139.11 1216.77 L139.70 1214.38 L140.29 1211.98 L140.88 1209.56 L141.47 1207.13 L142.07 1204.68 L142.66 1202.22 L143.25 1199.76 L143.84 1197.28 L144.43 1194.79 L145.02 1192.30 L145.62 1189.80 L146.21 1187.30 L146.80 1187.16 L147.39 1189.68 L147.98 1192.19 L148.58 1194.70 L149.17 1197.22 L149.76 1199.73 L150.35 1202.24 L150.94 1204.75 L151.53 1207.25 L152.13 1209.75 L152.72 1212.24 L153.31 1214.72 L153.90 1217.20 L154.49 1219.66 L155.08 1222.12 L155.68 1224.56 L156.27 1226.99 L156.86 1229.40 L157.45 1231.80 L158.04 1234.19 L158.64 1236.56 L159.23 1238.91 L159.82 1241.24 L160.41 1243.55 L161.00 1245.84 L161.59 1248.10 L162.19 1250.35 L162.78 1252.57 L163.37 1254.77 L163.96 1256.94 L164.55 1259.08 L165.14 1261.20 L165.74 1263.29 L166.33 1265.35 L166.92 1267.38 L167.51 1269.38 L168.10 1271.34 L168.70 1273.28 L169.29 1275.18 L169.88 1277.05 L170.47 1278.88 L171.06 1280.68 L171.65 1282.44 L172.25 1284.16 L172.84 1285.84 L173.43 1287.49 L174.02 1289.10 L174.61 1290.66 L175.21 1292.19 L175.80 1293.67 L176.39 1295.12 L176.98 1296.52 L177.57 1297.88 L178.16 1299.19 L178.76 1300.46 L179.35 1301.69 L179.94 1302.87 L180.53 1304.01 L181.12 1305.10 L181.71 1306.14 L182.31 1307.14 L182.90 1308.09 L183.49 1307.34 L184.08 1306.49 L184.67 1305.68 L185.27 1304.93 L185.86 1304.22 L186.45 1303.56 L187.04 1302.94 L187.63 1302.38 L188.22 1301.87 L188.82 1301.41 L189.41 1301.00 L190.00 1300.64 L190.59 1300.32 L191.18 1300.06 L191.77 1299.85 L192.37 1299.69 L192.96 1299.58 L193.55 1299.52 L194.14 1299.51 L194.73 1299.55 L195.33 1299.64 L195.92 1299.78 L196.51 1299.97 L197.10 1300.21 L197.69 1300.50 L198.28 1300.84 L198.88 1301.23 L199.47 1301.67 L200.06 1302.15 L200.65 1302.69 L201.24 1303.27 L201.84 1303.90 L202.43 1304.58 L203.02 1305.31 L203.61 1306.08 L204.20 1306.90 L204.79 1307.77 L205.39 1307.66 L205.98 1306.70 L206.57 1305.70 L207.16 1304.66 L207.75 1303.57 L208.34 1302.44 L208.94 1301.27 L209.53 1300.05 L210.12 1298.79 L210.71 1297.50 L211.30 1296.16 L211.90 1294.78 L212.49 1293.37 L213.08 1291.92 L213.67 1290.42 L214.26 1288.90 L214.85 1287.34 L215.45 1285.74 L216.04 1284.11 L216.63 1282.44 L217.22 1280.74 L217.81 1279.01 L218.40 1277.25 L219.00 1275.46 L219.59 1273.64 L220.18 1271.79 L220.77 1269.91 L221.36 1268.01 L221.96 1266.08 L222.55 1264.13 L223.14 1262.15 L223.73 1260.15 L224.32 1258.12 L224.91 1256.08 L225.51 1254.01 L226.10 1251.93 L226.69 1249.83 L227.28 1247.71 L227.87 1245.58 L228.47 1243.43 L229.06 1241.26 L229.65 1239.09 L230.24 1236.90 L230.83 1234.70 L231.42 1232.49 L232.02 1230.27 L232.61 1228.04 L233.20 1225.81 L233.79 1223.57 L234.38 1221.32 L234.97 1219.08 L235.57 1216.83 L236.16 1214.57 L236.75 1212.32 L237.34 1210.07 L237.93 1207.82 L238.53 1205.57 L239.12 1203.33 L239.71 1201.09 L240.30 1198.86 L240.89 1196.64 L241.48 1194.42 L242.08 1192.21 L242.67 1190.02 L243.26 1187.83 L243.85 1186.30 L244.44 1188.46 L245.03 1190.60 L245.63 1192.73 L246.22 1194.85 L246.81 1196.94 L247.40 1199.02 L247.99 1201.08 L248.59 1203.12 L249.18 1205.14 L249.77 1207.13 L250.36 1209.10 L250.95 1211.05 L251.54 1212.97 L252.14 1214.86 L252.73 1216.73 L253.32 1218.57 L253.91 1220.38 L254.50 1222.16 L255.10 1223.91 L255.69 1225.63 L256.28 1227.32 L256.87 1228.97 L257.46 1230.59 L258.05 1232.18 L258.65 1233.73 L259.24 1235.24 L259.83 1236.71 L260.42 1238.15 L261.01 1239.55 L261.60 1240.91 L262.20 1242.23 L262.79 1243.51 L263.38 1244.75 L263.97 1245.94 L264.56 1247.10 L265.16 1248.21 L265.75 1249.27 L266.34 1250.29 L266.93 1251.27 L267.52 1252.20 L268.11 1253.09 L268.71 1253.93 L269.30 1254.72 L269.89 1255.46 L270.48 1256.16 L271.07 1256.81 L271.66 1257.41 L272.26 1257.96 L272.85 1258.47 L273.44 1258.92 L274.03 1259.32 L274.62 1259.68 L275.22 1259.98 L275.81 1260.23 L276.40 1260.43 L276.99 1260.59 L277.58 1260.68 L278.17 1260.73 L278.77 1260.73 L279.36 1260.68 L279.95 1260.57 L280.54 1260.41 L281.13 1260.20 L281.73 1259.94 L282.32 1259.63 L282.91 1259.26 L283.50 1258.85 L284.09 1258.38 L284.68 1257.86 L285.28 1257.29 L285.87 1256.67 L286.46 1256.00 L287.05 1255.28 L287.64 1254.50 L288.23 1253.68 L288.83 1252.81 L289.42 1251.89 L290.01 1250.91 L290.60 1249.89 L291.19 1248.82 L291.79 1247.70 L292.38 1246.54 L292.97 1245.32 L293.56 1244.06 L294.15 1242.75 L294.74 1241.40 L295.34 1240.00 L295.93 1238.55 L296.52 1237.06 L297.11 1235.53 L297.70 1233.95 L298.29 1232.33 L298.89 1230.66 L299.48 1228.96 L300.07 1227.21 L300.66 1225.42 L301.25 1223.60 L301.85 1221.73 L302.44 1219.83 L303.03 1217.89 L303.62 1215.91 L304.21 1213.89 L304.80 1211.84 L305.40 1209.76 L305.99 1207.64 L306.58 1205.49 L307.17 1203.30 L307.76 1201.09 L308.36 1198.84 L308.95 1196.57 L309.54 1194.26 L310.13 1191.93 L310.72 1189.57 L311.31 1187.19 L311.91 1187.17 L312.50 1189.61 L313.09 1192.06 L313.68 1194.54 L314.27 1197.04 L314.86 1199.56 L315.46 1202.10 L316.05 1204.66 L316.64 1207.23 L317.23 1209.82 L317.82 1212.43 L318.42 1215.05 L319.01 1217.68 L319.60 1220.32 L320.19 1222.98 L320.78 1225.64 L321.37 1228.32 L321.97 1231.00 L322.56 1233.69 L323.15 1236.38 L323.74 1239.08 L324.33 1241.78 L324.92 1244.49 L325.52 1247.19 L326.11 1249.90 L326.70 1252.61 L327.29 1255.31 L327.88 1258.01 L328.48 1260.71 L329.07 1263.40 L329.66 1266.08 L330.25 1268.76 L330.84 1271.43 L331.43 1274.09 L332.03 1276.74 L332.62 1279.38 L333.21 1282.00 L333.80 1284.61 L334.39 1287.21 L334.99 1289.79 L335.58 1292.36 L336.17 1294.91 L336.76 1297.43 L337.35 1299.94 L337.94 1302.43 L338.54 1304.90 L339.13 1307.34 L339.72 1306.57 L340.31 1304.17 L340.90 1301.80 L341.49 1299.46 L342.09 1297.14 L342.68 1294.85 L343.27 1292.59 L343.86 1290.36 L344.45 1288.16 L345.05 1285.99 L345.64 1283.86 L346.23 1281.76 L346.82 1279.69 L347.41 1277.65 L348.00 1275.66 L348.60 1273.70 L349.19 1271.77 L349.78 1269.89 L350.37 1268.04 L350.96 1266.23 L351.55 1264.47 L352.15 1262.74 L352.74 1261.05 L353.33 1259.41 L353.92 1257.81 L354.51 1256.25 L355.11 1254.73 L355.70 1253.26 L356.29 1251.84 L356.88 1250.46 L357.47 1249.12 L358.06 1247.84 L358.66 1246.60 L359.25 1245.40 L359.84 1244.25 L360.43 1243.16 L361.02 1242.10 L361.62 1241.10 L362.21 1240.15 L362.80 1239.25 L363.39 1238.39 L363.98 1237.59 L364.57 1236.83 L365.17 1236.13 L365.76 1235.47 L366.35 1234.87 L366.94 1234.32 L367.53 1233.82 L368.12 1233.37 L368.72 1232.97 L369.31 1232.62 L369.90 1232.32 L370.49 1232.08 L371.08 1231.88 L371.68 1231.74 L372.27 1231.65 L372.86 1231.60 L373.45 1231.61 L374.04 1231.67 L374.63 1231.78 L375.23 1231.95 L375.82 1232.16 L376.41 1232.42 L377.00 1232.73 L377.59 1233.09 L378.18 1233.50 L378.78 1233.96 L379.37 1234.47 L379.96 1235.03 L380.55 1235.63 L381.14 1236.28 L381.74 1236.98 L382.33 1237.73 L382.92 1238.52 L383.51 1239.36 L384.10 1240.25 L384.69 1241.18 L385.29 1242.15 L385.88 1243.17 L386.47 1244.23 L387.06 1245.33 L387.65 1246.48 L388.25 1247.66 L388.84 1248.89 L389.43 1250.16 L390.02 1251.47 L390.61 1252.81 L391.20 1254.20 L391.80 1255.62 L392.39 1257.08 L392.98 1258.57 L393.57 1260.10 L394.16 1261.67 L394.75 1263.27 L395.35 1264.90 L395.94 1266.56 L396.53 1268.25 L397.12 1269.98 L397.71 1271.73 L398.31 1273.51 L398.90 1275.32 L399.49 1277.16 L400.08 1279.02 L400.67 1280.90 L401.26 1282.81 L401.86 1284.75 L402.45 1286.70 L403.04 1288.68 L403.63 1290.68 L404.22 1292.69 L404.81 1294.73 L405.41 1296.78 L406.00 1298.84 L406.59 1300.92 L407.18 1303.02 L407.77 1305.13 L408.37 1307.25 L408.96 1306.95 L409.55 1304.81 L410.14 1302.66 L410.73 1300.51 L411.32 1298.34 L411.92 1296.17 L412.51 1294.00 L413.10 1291.82 L413.69 1289.64 L414.28 1287.46 L414.88 1285.28 L415.47 1283.10 L416.06 1280.92 L416.65 1278.74 L417.24 1276.57 L417.83 1274.41 L418.43 1272.25 L419.02 1270.09 L419.61 1267.95 L420.20 1265.81 L420.79 1263.69 L421.38 1261.57 L421.98 1259.47 L422.57 1257.38 L423.16 1255.31 L423.75 1253.25 L424.34 1251.21 L424.94 1249.18 L425.53 1247.18 L426.12 1245.19 L426.71 1243.23 L427.30 1241.28 L427.89 1239.36 L428.49 1237.46 L429.08 1235.59 L429.67 1233.74 L430.26 1231.92 L430.85 1230.13 L431.44 1228.36 L432.04 1226.62 L432.63 1224.91 L433.22 1223.23 L433.81 1221.59 L434.40 1219.97 L435.00 1218.39 L435.59 1216.84 L436.18 1215.33 L436.77 1213.85 L437.36 1212.41 L437.95 1211.01 L438.55 1209.64 L439.14 1208.32 L439.73 1207.03 L440.32 1205.78 L440.91 1204.57 L441.51 1203.40 L442.10 1202.27 L442.69 1201.19 L443.28 1200.15 L443.87 1199.15 L444.46 1198.20 L445.06 1197.29 L445.65 1196.42 L446.24 1195.61 L446.83 1194.83 L447.42 1194.11 L448.01 1193.43 L448.61 1192.79 L449.20 1192.21 L449.79 1191.67 L450.38 1191.18 L450.97 1190.74 L451.57 1190.35 L452.16 1190.01 L452.75 1189.71 L453.34 1189.47 L453.93 1189.28 L454.52 1189.13 L455.12 1189.04 L455.71 1189.00 L456.30 1189.00 L456.89 1189.06 L457.48 1189.17 L458.07 1189.33 L458.67 1189.54 L459.26 1189.80 L459.85 1190.11 L460.44 1190.47 L461.03 1190.88 L461.63 1191.35 L462.22 1191.86 L462.81 1192.42 L463.40 1193.04 L463.99 1193.70 L464.58 1194.42 L465.18 1195.18 L465.77 1195.99 L466.36 1196.85 L466.95 1197.76 L467.54 1198.72 L468.14 1199.73 L468.73 1200.78 L469.32 1201.89 L469.91 1203.04 L470.50 1204.23 L471.09 1205.47 L471.69 1206.76 L472.28 1208.09 L472.87 1209.47 L473.46 1210.89 L474.05 1212.36 L474.64 1213.87 L475.24 1215.42 L475.83 1217.02 L476.42 1218.65 L477.01 1220.33 L477.60 1222.04 L478.20 1223.80 L478.79 1225.60 L479.38 1227.43 L479.97 1229.30 L480.56 1231.21 L481.15 1233.15 L481.75 1235.13 L482.34 1237.14 L482.93 1239.19 L483.52 1241.27 L484.11 1243.38 L484.70 1245.52 L485.30 1247.70 L485.89 1249.90 L486.48 1252.13 L487.07 1254.39 L487.66 1256.68 L488.26 1258.99 L488.85 1261.32 L489.44 1263.69 L490.03 1266.07 L490.62 1268.48 L491.21 1270.90 L491.81 1273.35 L492.40 1275.82 L492.99 1278.30 L493.58 1280.80 L494.17 1283.32 L494.77 1285.85 L495.36 1288.40 L495.95 1290.96 L496.54 1293.54 L497.13 1296.12 L497.72 1298.71 L498.32 1301.32 L498.91 1303.93 L499.50 1306.54 L500.09 1307.17 L500.68 1304.54 L501.27 1301.91 L501.87 1299.27 L502.46 1296.64 L503.05 1294.00 L503.64 1291.37 L504.23 1288.73 L504.83 1286.10 L505.42 1283.47 L506.01 1280.85 L506.60 1278.24 L507.19 1275.63 L507.78 1273.03 L508.38 1270.44 L508.97 1267.85 L509.56 1265.29 L510.15 1262.73 L510.74 1260.18 L511.33 1257.65 L511.93 1255.14 L512.52 1252.64 L513.11 1250.16 L513.70 1247.70 L514.29 1245.26 L514.89 1242.84 L515.48 1240.44 L516.07 1238.06 L516.66 1235.71 L517.25 1233.38 L517.84 1231.07 L518.44 1228.80 L519.03 1226.55 L519.62 1224.32 L520.21 1222.13 L520.80 1219.97 L521.40 1217.84 L521.99 1215.73 L522.58 1213.67 L523.17 1211.63 L523.76 1209.63 L524.35 1207.67 L524.95 1205.74 L525.54 1203.84 L526.13 1201.99 L526.72 1200.17 L527.31 1198.39 L527.90 1196.65 L528.50 1194.95 L529.09 1193.29 L529.68 1191.67 L530.27 1190.10 L530.86 1188.57 L531.46 1187.08 L532.05 1186.32 L532.64 1187.72 L533.23 1189.07 L533.82 1190.38 L534.41 1191.65 L535.01 1192.86 L535.60 1194.03 L536.19 1195.15 L536.78 1196.23 L537.37 1197.25 L537.96 1198.23 L538.56 1199.16 L539.15 1200.04 L539.74 1200.86 L540.33 1201.64 L540.92 1202.37 L541.52 1203.05 L542.11 1203.68 L542.70 1204.25 L543.29 1204.77 L543.88 1205.25 L544.47 1205.67 L545.07 1206.04 L545.66 1206.36 L546.25 1206.62 L546.84 1206.84 L547.43 1207.00 L548.03 1207.11 L548.62 1207.16 L549.21 1207.17 L549.80 1207.12 L550.39 1207.03 L550.98 1206.88 L551.58 1206.68 L552.17 1206.42 L552.76 1206.12 L553.35 1205.76 L553.94 1205.36 L554.53 1204.90 L555.13 1204.39 L555.72 1203.84 L556.31 1203.23 L556.90 1202.57 L557.49 1201.87 L558.09 1201.11 L558.68 1200.31 L559.27 1199.46 L559.86 1198.56 L560.45 1197.61 L561.04 1196.62 L561.64 1195.58 L562.23 1194.50 L562.82 1193.37 L563.41 1192.19 L564.00 1190.98 L564.59 1189.71 L565.19 1188.41 L565.78 1187.06 L566.37 1186.28 L566.96 1187.71 L567.55 1189.18 L568.15 1190.69 L568.74 1192.24 L569.33 1193.82 L569.92 1195.45 L570.51 1197.11 L571.10 1198.80 L571.70 1200.54 L572.29 1202.30 L572.88 1204.10 L573.47 1205.93 L574.06 1207.80 L574.66 1209.69 L575.25 1211.62 L575.84 1213.57 L576.43 1215.56 L577.02 1217.57 L577.61 1219.60 L578.21 1221.67 L578.80 1223.75 L579.39 1225.86 L579.98 1228.00 L580.57 1230.15 L581.16 1232.33 L581.76 1234.52 L582.35 1236.74 L582.94 1238.97 L583.53 1241.22 L584.12 1243.48 L584.72 1245.76 L585.31 1248.05 L585.90 1250.36 L586.49 1252.67 L587.08 1255.00 L587.67 1257.34 L588.27 1259.68 L588.86 1262.03 L589.45 1264.39 L590.04 1266.76 L590.63 1269.12 L591.22 1271.49 L591.82 1273.87 L592.41 1276.24 L593.00 1278.62 L593.59 1280.99 L594.18 1283.36 L594.78 1285.72 L595.37 1288.09 L595.96 1290.44 L596.55 1292.79 L597.14 1295.14 L597.73 1297.47 L598.33 1299.79 L598.92 1302.11 L599.51 1304.41 L600.10 1306.70 L600.69 1307.36 L601.29 1305.10 L601.88 1302.86 L602.47 1300.63 L603.06 1298.42 L603.65 1296.23 L604.24 1294.06 L604.84 1291.91 L605.43 1289.78 L606.02 1287.67 L606.61 1285.59 L607.20 1283.54 L607.79 1281.50 L608.39 1279.50 L608.98 1277.52 L609.57 1275.57 L610.16 1273.65 L610.75 1271.76 L611.35 1269.91 L611.94 1268.08 L612.53 1266.28 L613.12 1264.52 L613.71 1262.79 L614.30 1261.10 L614.90 1259.44 L615.49 1257.82 L616.08 1256.24 L616.67 1254.69 L617.26 1253.19 L617.85 1251.72 L618.45 1250.29 L619.04 1248.90 L619.63 1247.56 L620.22 1246.25 L620.81 1244.99 L621.41 1243.77 L622.00 1242.59 L622.59 1241.46 L623.18 1240.37 L623.77 1239.33 L624.36 1238.33 L624.96 1237.38 L625.55 1236.47 L626.14 1235.61 L626.73 1234.80 L627.32 1234.04 L627.92 1233.32 L628.51 1232.65 L629.10 1232.03 L629.69 1231.46 L630.28 1230.94 L630.87 1230.46 L631.47 1230.04 L632.06 1229.66 L632.65 1229.34 L633.24 1229.06 L633.83 1228.83 L634.42 1228.66 L635.02 1228.53 L635.61 1228.46 L636.20 1228.43" stroke="#f00" stroke-width="3.1" fill="none" stroke-linejoin="round" clip-path="url(#cpe)"/>
<rect x="103.60" y="1055.70" width="532.60" height="389.00" fill="none" stroke="#000" stroke-width="1.75"/>
<line x1="103.60" y1="1444.70" x2="103.60" y2="1453.30" stroke="#000" stroke-width="1.6"/>
<text x="103.60" y="1476.10" class="tk" text-anchor="middle">0</text>
<line x1="236.75" y1="1444.70" x2="236.75" y2="1453.30" stroke="#000" stroke-width="1.6"/>
<text x="236.75" y="1476.10" class="tk" text-anchor="middle">50</text>
<line x1="369.90" y1="1444.70" x2="369.90" y2="1453.30" stroke="#000" stroke-width="1.6"/>
<text x="369.90" y="1476.10" class="tk" text-anchor="middle">100</text>
<line x1="503.05" y1="1444.70" x2="503.05" y2="1453.30" stroke="#000" stroke-width="1.6"/>
<text x="503.05" y="1476.10" class="tk" text-anchor="middle">150</text>
<line x1="636.20" y1="1444.70" x2="636.20" y2="1453.30" stroke="#000" stroke-width="1.6"/>
<text x="636.20" y="1476.10" class="tk" text-anchor="middle">200</text>
<line x1="170.18" y1="1444.70" x2="170.18" y2="1449.30" stroke="#000" stroke-width="1.5"/>
<line x1="303.32" y1="1444.70" x2="303.32" y2="1449.30" stroke="#000" stroke-width="1.5"/>
<line x1="436.48" y1="1444.70" x2="436.48" y2="1449.30" stroke="#000" stroke-width="1.5"/>
<line x1="569.62" y1="1444.70" x2="569.62" y2="1449.30" stroke="#000" stroke-width="1.5"/>
<line x1="95.20" y1="1074.80" x2="103.60" y2="1074.80" stroke="#000" stroke-width="1.6"/>
<text x="89.60" y="1081.30" class="tk" text-anchor="end">6</text>
<line x1="95.20" y1="1113.69" x2="103.60" y2="1113.69" stroke="#000" stroke-width="1.6"/>
<text x="89.60" y="1120.19" class="tk" text-anchor="end">5</text>
<line x1="95.20" y1="1152.59" x2="103.60" y2="1152.59" stroke="#000" stroke-width="1.6"/>
<text x="89.60" y="1159.09" class="tk" text-anchor="end">4</text>
<line x1="95.20" y1="1191.48" x2="103.60" y2="1191.48" stroke="#000" stroke-width="1.6"/>
<text x="89.60" y="1197.98" class="tk" text-anchor="end">3</text>
<line x1="95.20" y1="1230.38" x2="103.60" y2="1230.38" stroke="#000" stroke-width="1.6"/>
<text x="89.60" y="1236.88" class="tk" text-anchor="end">2</text>
<line x1="95.20" y1="1269.27" x2="103.60" y2="1269.27" stroke="#000" stroke-width="1.6"/>
<text x="89.60" y="1275.77" class="tk" text-anchor="end">1</text>
<line x1="95.20" y1="1308.17" x2="103.60" y2="1308.17" stroke="#000" stroke-width="1.6"/>
<text x="89.60" y="1314.67" class="tk" text-anchor="end">0</text>
<line x1="95.20" y1="1347.06" x2="103.60" y2="1347.06" stroke="#000" stroke-width="1.6"/>
<text x="89.60" y="1353.56" class="tk" text-anchor="end">-1</text>
<line x1="95.20" y1="1385.96" x2="103.60" y2="1385.96" stroke="#000" stroke-width="1.6"/>
<text x="89.60" y="1392.46" class="tk" text-anchor="end">-2</text>
<line x1="95.20" y1="1424.85" x2="103.60" y2="1424.85" stroke="#000" stroke-width="1.6"/>
<text x="89.60" y="1431.35" class="tk" text-anchor="end">-3</text>
<line x1="99.00" y1="1055.70" x2="103.60" y2="1055.70" stroke="#000" stroke-width="1.5"/>
<line x1="99.00" y1="1094.25" x2="103.60" y2="1094.25" stroke="#000" stroke-width="1.5"/>
<line x1="99.00" y1="1133.14" x2="103.60" y2="1133.14" stroke="#000" stroke-width="1.5"/>
<line x1="99.00" y1="1172.04" x2="103.60" y2="1172.04" stroke="#000" stroke-width="1.5"/>
<line x1="99.00" y1="1210.93" x2="103.60" y2="1210.93" stroke="#000" stroke-width="1.5"/>
<line x1="99.00" y1="1249.82" x2="103.60" y2="1249.82" stroke="#000" stroke-width="1.5"/>
<line x1="99.00" y1="1288.72" x2="103.60" y2="1288.72" stroke="#000" stroke-width="1.5"/>
<line x1="99.00" y1="1327.61" x2="103.60" y2="1327.61" stroke="#000" stroke-width="1.5"/>
<line x1="99.00" y1="1366.51" x2="103.60" y2="1366.51" stroke="#000" stroke-width="1.5"/>
<line x1="99.00" y1="1405.40" x2="103.60" y2="1405.40" stroke="#000" stroke-width="1.5"/>
<line x1="99.00" y1="1444.30" x2="103.60" y2="1444.30" stroke="#000" stroke-width="1.5"/>
<text x="370.10" y="1518.90" class="ax" text-anchor="middle">t / ps</text>
<text transform="translate(33.40 1253.20) rotate(-90)" class="ax" text-anchor="middle">equivalent phase for Φ(t, x)</text>
<line x1="206.00" y1="1073.80" x2="261.70" y2="1073.80" class="bl"/>
<line x1="207.50" y1="1103.80" x2="261.30" y2="1103.80" stroke="#f00" stroke-width="3.2" stroke-linecap="round"/>
<text x="266.80" y="1082.00" class="lg">the phase of Φ(t, x)</text>
<text x="266.80" y="1112.10" class="lg">equivalent phase for cosine function</text>
<text x="130" y="1096" class="pl">(e)</text>
<text x="650" y="1164.5" class="rl" font-size="24">π</text>
<text x="650.3" y="1221" class="rl" font-size="24">φ<tspan font-size="14" dy="9" dx="0.6">0</tspan></text>
<text x="650.8" y="1276.6" class="rl" font-size="23">0</text>
<path d="M897.80 1128.05 L898.39 1128.07 L898.98 1128.13 L899.58 1128.24 L900.17 1128.38 L900.76 1128.57 L901.35 1128.81 L901.94 1129.11 L902.53 1129.46 L903.13 1129.86 L903.72 1130.34 L904.31 1130.89 L904.90 1131.52 L905.49 1132.23 L906.08 1133.04 L906.68 1133.95 L907.27 1134.96 L907.86 1136.10 L908.45 1137.36 L909.04 1138.75 L909.64 1140.30 L910.23 1141.99 L910.82 1143.85 L911.41 1145.88 L912.00 1148.09 L912.59 1150.49 L913.19 1153.08 L913.78 1155.88 L914.37 1158.90 L914.96 1162.13 L915.55 1165.59 L916.15 1169.28 L916.74 1173.20 L917.33 1177.35 L917.92 1181.75 L918.51 1186.38 L919.10 1191.25 L919.70 1196.35 L920.29 1201.68 L920.88 1207.23 L921.47 1213.00 L922.06 1218.98 L922.65 1225.15 L923.25 1231.50 L923.84 1238.01 L924.43 1244.68 L925.02 1251.48 L925.61 1258.38 L926.21 1265.37 L926.80 1272.43 L927.39 1279.52 L927.98 1286.62 L928.57 1293.70 L929.16 1300.74 L929.76 1307.69 L930.35 1314.54 L930.94 1321.24 L931.53 1327.77 L932.12 1334.09 L932.71 1340.17 L933.31 1345.98 L933.90 1351.49 L934.49 1356.67 L935.08 1361.48 L935.67 1365.91 L936.27 1369.92 L936.86 1373.48 L937.45 1376.59 L938.04 1379.21 L938.63 1381.34 L939.22 1382.95 L939.82 1384.04 L940.41 1384.59 L941.00 1384.61 L941.59 1384.08 L942.18 1383.01 L942.78 1381.41 L943.37 1379.27 L943.96 1376.62 L944.55 1373.46 L945.14 1369.81 L945.73 1365.69 L946.33 1361.12 L946.92 1356.12 L947.51 1350.73 L948.10 1344.96 L948.69 1338.86 L949.28 1332.44 L949.88 1325.75 L950.47 1318.82 L951.06 1311.67 L951.65 1304.36 L952.24 1296.90 L952.84 1289.34 L953.43 1281.71 L954.02 1274.04 L954.61 1266.37 L955.20 1258.73 L955.79 1251.14 L956.39 1243.65 L956.98 1236.27 L957.57 1229.03 L958.16 1221.95 L958.75 1215.06 L959.34 1208.38 L959.94 1201.92 L960.53 1195.70 L961.12 1189.73 L961.71 1184.03 L962.30 1178.59 L962.90 1173.44 L963.49 1168.57 L964.08 1163.99 L964.67 1159.70 L965.26 1155.69 L965.85 1151.97 L966.45 1148.54 L967.04 1145.38 L967.63 1142.49 L968.22 1139.86 L968.81 1137.48 L969.41 1135.35 L970.00 1133.46 L970.59 1131.78 L971.18 1130.32 L971.77 1129.06 L972.36 1127.98 L972.96 1127.08 L973.55 1126.33 L974.14 1125.74 L974.73 1125.28 L975.32 1124.94 L975.91 1124.71 L976.51 1124.58 L977.10 1124.53 L977.69 1124.56 L978.28 1124.65 L978.87 1124.80 L979.47 1124.98 L980.06 1125.20 L980.65 1125.45 L981.24 1125.70 L981.83 1125.97 L982.42 1126.23 L983.02 1126.49 L983.61 1126.74 L984.20 1126.96 L984.79 1127.17 L985.38 1127.35 L985.97 1127.50 L986.57 1127.61 L987.16 1127.69 L987.75 1127.74 L988.34 1127.74 L988.93 1127.71 L989.53 1127.65 L990.12 1127.55 L990.71 1127.41 L991.30 1127.24 L991.89 1127.05 L992.48 1126.83 L993.08 1126.60 L993.67 1126.34 L994.26 1126.08 L994.85 1125.82 L995.44 1125.56 L996.04 1125.31 L996.63 1125.09 L997.22 1124.88 L997.81 1124.72 L998.40 1124.60 L998.99 1124.54 L999.59 1124.54 L1000.18 1124.63 L1000.77 1124.79 L1001.36 1125.06 L1001.95 1125.44 L1002.54 1125.94 L1003.14 1126.58 L1003.73 1127.36 L1004.32 1128.29 L1004.91 1129.40 L1005.50 1130.68 L1006.10 1132.16 L1006.69 1133.83 L1007.28 1135.72 L1007.87 1137.83 L1008.46 1140.17 L1009.05 1142.75 L1009.65 1145.57 L1010.24 1148.64 L1010.83 1151.96 L1011.42 1155.55 L1012.01 1159.40 L1012.60 1163.51 L1013.20 1167.88 L1013.79 1172.51 L1014.38 1177.39 L1014.97 1182.53 L1015.56 1187.92 L1016.16 1193.54 L1016.75 1199.38 L1017.34 1205.44 L1017.93 1211.70 L1018.52 1218.14 L1019.11 1224.75 L1019.71 1231.50 L1020.30 1238.39 L1020.89 1245.38 L1021.48 1252.46 L1022.07 1259.60 L1022.67 1266.77 L1023.26 1273.95 L1023.85 1281.12 L1024.44 1288.24 L1025.03 1295.29 L1025.62 1302.24 L1026.22 1309.06 L1026.81 1315.73 L1027.40 1322.22 L1027.99 1328.50 L1028.58 1334.55 L1029.17 1340.34 L1029.77 1345.85 L1030.36 1351.06 L1030.95 1355.95 L1031.54 1360.50 L1032.13 1364.68 L1032.73 1368.50 L1033.32 1371.93 L1033.91 1374.96 L1034.50 1377.59 L1035.09 1379.81 L1035.68 1381.61 L1036.28 1383.00 L1036.87 1383.97 L1037.46 1384.52 L1038.05 1384.66 L1038.64 1384.40 L1039.23 1383.75 L1039.83 1382.71 L1040.42 1381.30 L1041.01 1379.53 L1041.60 1377.42 L1042.19 1374.98 L1042.79 1372.24 L1043.38 1369.20 L1043.97 1365.90 L1044.56 1362.35 L1045.15 1358.57 L1045.74 1354.58 L1046.34 1350.41 L1046.93 1346.08 L1047.52 1341.60 L1048.11 1337.01 L1048.70 1332.32 L1049.30 1327.54 L1049.89 1322.72 L1050.48 1317.85 L1051.07 1312.96 L1051.66 1308.07 L1052.25 1303.20 L1052.85 1298.36 L1053.44 1293.56 L1054.03 1288.83 L1054.62 1284.17 L1055.21 1279.59 L1055.80 1275.12 L1056.40 1270.75 L1056.99 1266.50 L1057.58 1262.37 L1058.17 1258.37 L1058.76 1254.52 L1059.36 1250.81 L1059.95 1247.25 L1060.54 1243.84 L1061.13 1240.59 L1061.72 1237.49 L1062.31 1234.56 L1062.91 1231.79 L1063.50 1229.19 L1064.09 1226.75 L1064.68 1224.48 L1065.27 1222.37 L1065.86 1220.43 L1066.46 1218.65 L1067.05 1217.04 L1067.64 1215.59 L1068.23 1214.30 L1068.82 1213.18 L1069.42 1212.22 L1070.01 1211.42 L1070.60 1210.79 L1071.19 1210.31 L1071.78 1210.00 L1072.37 1209.85 L1072.97 1209.86 L1073.56 1210.03 L1074.15 1210.36 L1074.74 1210.86 L1075.33 1211.52 L1075.93 1212.34 L1076.52 1213.33 L1077.11 1214.49 L1077.70 1215.81 L1078.29 1217.31 L1078.88 1218.97 L1079.48 1220.81 L1080.07 1222.82 L1080.66 1225.00 L1081.25 1227.36 L1081.84 1229.89 L1082.43 1232.60 L1083.03 1235.48 L1083.62 1238.54 L1084.21 1241.78 L1084.80 1245.18 L1085.39 1248.75 L1085.99 1252.49 L1086.58 1256.39 L1087.17 1260.45 L1087.76 1264.66 L1088.35 1269.02 L1088.94 1273.51 L1089.54 1278.13 L1090.13 1282.87 L1090.72 1287.71 L1091.31 1292.64 L1091.90 1297.66 L1092.49 1302.74 L1093.09 1307.86 L1093.68 1313.01 L1094.27 1318.16 L1094.86 1323.31 L1095.45 1328.42 L1096.05 1333.47 L1096.64 1338.44 L1097.23 1343.29 L1097.82 1348.02 L1098.41 1352.58 L1099.00 1356.95 L1099.60 1361.10 L1100.19 1365.01 L1100.78 1368.64 L1101.37 1371.97 L1101.96 1374.97 L1102.56 1377.62 L1103.15 1379.88 L1103.74 1381.73 L1104.33 1383.15 L1104.92 1384.11 L1105.51 1384.60 L1106.11 1384.60 L1106.70 1384.10 L1107.29 1383.08 L1107.88 1381.52 L1108.47 1379.44 L1109.06 1376.81 L1109.66 1373.65 L1110.25 1369.95 L1110.84 1365.72 L1111.43 1360.98 L1112.02 1355.73 L1112.62 1349.99 L1113.21 1343.80 L1113.80 1337.16 L1114.39 1330.11 L1114.98 1322.68 L1115.57 1314.91 L1116.17 1306.83 L1116.76 1298.47 L1117.35 1289.89 L1117.94 1281.13 L1118.53 1272.23 L1119.12 1263.23 L1119.72 1254.19 L1120.31 1245.15 L1120.90 1236.16 L1121.49 1227.26 L1122.08 1218.50 L1122.68 1209.93 L1123.27 1201.60 L1123.86 1193.53 L1124.45 1185.77 L1125.04 1178.37 L1125.63 1171.34 L1126.23 1164.74 L1126.82 1158.57 L1127.41 1152.87 L1128.00 1147.66 L1128.59 1142.96 L1129.19 1138.78 L1129.78 1135.13 L1130.37 1132.02 L1130.96 1129.45 L1131.55 1127.43 L1132.14 1125.94 L1132.74 1124.99 L1133.33 1124.56 L1133.92 1124.64 L1134.51 1125.22 L1135.10 1126.27 L1135.69 1127.78 L1136.29 1129.73 L1136.88 1132.08 L1137.47 1134.83 L1138.06 1137.93 L1138.65 1141.36 L1139.25 1145.10 L1139.84 1149.12 L1140.43 1153.39 L1141.02 1157.87 L1141.61 1162.54 L1142.20 1167.38 L1142.80 1172.35 L1143.39 1177.44 L1143.98 1182.60 L1144.57 1187.83 L1145.16 1193.08 L1145.75 1198.35 L1146.35 1203.61 L1146.94 1208.85 L1147.53 1214.03 L1148.12 1219.15 L1148.71 1224.19 L1149.31 1229.14 L1149.90 1233.98 L1150.49 1238.70 L1151.08 1243.29 L1151.67 1247.74 L1152.26 1252.04 L1152.86 1256.19 L1153.45 1260.18 L1154.04 1264.01 L1154.63 1267.67 L1155.22 1271.16 L1155.82 1274.48 L1156.41 1277.63 L1157.00 1280.59 L1157.59 1283.39 L1158.18 1286.00 L1158.77 1288.45 L1159.37 1290.71 L1159.96 1292.81 L1160.55 1294.73 L1161.14 1296.48 L1161.73 1298.07 L1162.32 1299.49 L1162.92 1300.74 L1163.51 1301.82 L1164.10 1302.75 L1164.69 1303.51 L1165.28 1304.11 L1165.88 1304.56 L1166.47 1304.84 L1167.06 1304.97 L1167.65 1304.94 L1168.24 1304.76 L1168.83 1304.41 L1169.43 1303.92 L1170.02 1303.26 L1170.61 1302.45 L1171.20 1301.48 L1171.79 1300.35 L1172.38 1299.06 L1172.98 1297.61 L1173.57 1296.01 L1174.16 1294.24 L1174.75 1292.31 L1175.34 1290.21 L1175.94 1287.96 L1176.53 1285.54 L1177.12 1282.96 L1177.71 1280.21 L1178.30 1277.31 L1178.89 1274.24 L1179.49 1271.02 L1180.08 1267.64 L1180.67 1264.10 L1181.26 1260.42 L1181.85 1256.59 L1182.45 1252.62 L1183.04 1248.52 L1183.63 1244.29 L1184.22 1239.93 L1184.81 1235.47 L1185.40 1230.90 L1186.00 1226.24 L1186.59 1221.50 L1187.18 1216.69 L1187.77 1211.83 L1188.36 1206.93 L1188.95 1202.00 L1189.55 1197.06 L1190.14 1192.13 L1190.73 1187.22 L1191.32 1182.36 L1191.91 1177.56 L1192.51 1172.84 L1193.10 1168.22 L1193.69 1163.73 L1194.28 1159.38 L1194.87 1155.20 L1195.46 1151.20 L1196.06 1147.41 L1196.65 1143.84 L1197.24 1140.52 L1197.83 1137.46 L1198.42 1134.69 L1199.01 1132.22 L1199.61 1130.07 L1200.20 1128.25 L1200.79 1126.78 L1201.38 1125.67 L1201.97 1124.93 L1202.57 1124.57 L1203.16 1124.60 L1203.75 1125.02 L1204.34 1125.83 L1204.93 1127.05 L1205.52 1128.66 L1206.12 1130.67 L1206.71 1133.07 L1207.30 1135.85 L1207.89 1139.01 L1208.48 1142.53 L1209.08 1146.41 L1209.67 1150.63 L1210.26 1155.16 L1210.85 1160.01 L1211.44 1165.14 L1212.03 1170.53 L1212.63 1176.17 L1213.22 1182.03 L1213.81 1188.09 L1214.40 1194.33 L1214.99 1200.72 L1215.58 1207.23 L1216.18 1213.84 L1216.77 1220.52 L1217.36 1227.26 L1217.95 1234.02 L1218.54 1240.79 L1219.14 1247.54 L1219.73 1254.24 L1220.32 1260.88 L1220.91 1267.43 L1221.50 1273.88 L1222.09 1280.21 L1222.69 1286.40 L1223.28 1292.44 L1223.87 1298.31 L1224.46 1303.99 L1225.05 1309.49 L1225.64 1314.79 L1226.24 1319.88 L1226.83 1324.76 L1227.42 1329.42 L1228.01 1333.85 L1228.60 1338.07 L1229.20 1342.05 L1229.79 1345.81 L1230.38 1349.35 L1230.97 1352.66 L1231.56 1355.76 L1232.15 1358.64 L1232.75 1361.32 L1233.34 1363.80 L1233.93 1366.08 L1234.52 1368.17 L1235.11 1370.09 L1235.71 1371.83 L1236.30 1373.41 L1236.89 1374.84 L1237.48 1376.13 L1238.07 1377.27 L1238.66 1378.30 L1239.26 1379.20 L1239.85 1380.00 L1240.44 1380.70 L1241.03 1381.31 L1241.62 1381.84 L1242.21 1382.29 L1242.81 1382.67 L1243.40 1383.00 L1243.99 1383.28 L1244.58 1383.50 L1245.17 1383.69 L1245.77 1383.85 L1246.36 1383.97 L1246.95 1384.07 L1247.54 1384.14 L1248.13 1384.20 L1248.72 1384.24 L1249.32 1384.26 L1249.91 1384.27 L1250.50 1384.27 L1251.09 1384.26 L1251.68 1384.23 L1252.27 1384.18 L1252.87 1384.12 L1253.46 1384.04 L1254.05 1383.93 L1254.64 1383.80 L1255.23 1383.63 L1255.83 1383.43 L1256.42 1383.18 L1257.01 1382.88 L1257.60 1382.53 L1258.19 1382.11 L1258.78 1381.62 L1259.38 1381.04 L1259.97 1380.38 L1260.56 1379.61 L1261.15 1378.74 L1261.74 1377.75 L1262.34 1376.62 L1262.93 1375.35 L1263.52 1373.94 L1264.11 1372.36 L1264.70 1370.60 L1265.29 1368.66 L1265.89 1366.53 L1266.48 1364.20 L1267.07 1361.65 L1267.66 1358.87 L1268.25 1355.87 L1268.84 1352.63 L1269.44 1349.14 L1270.03 1345.40 L1270.62 1341.40 L1271.21 1337.15 L1271.80 1332.63 L1272.40 1327.86 L1272.99 1322.82 L1273.58 1317.53 L1274.17 1311.98 L1274.76 1306.19 L1275.35 1300.16 L1275.95 1293.91 L1276.54 1287.44 L1277.13 1280.78 L1277.72 1273.93 L1278.31 1266.92 L1278.90 1259.77 L1279.50 1252.51 L1280.09 1245.15 L1280.68 1237.73 L1281.27 1230.27 L1281.86 1222.81 L1282.46 1215.37 L1283.05 1208.00 L1283.64 1200.72 L1284.23 1193.57 L1284.82 1186.58 L1285.41 1179.80 L1286.01 1173.26 L1286.60 1166.99 L1287.19 1161.03 L1287.78 1155.42 L1288.37 1150.18 L1288.97 1145.35 L1289.56 1140.97 L1290.15 1137.05 L1290.74 1133.63 L1291.33 1130.72 L1291.92 1128.36 L1292.52 1126.55 L1293.11 1125.31 L1293.70 1124.65 L1294.29 1124.58 L1294.88 1125.10 L1295.47 1126.21 L1296.07 1127.92 L1296.66 1130.21 L1297.25 1133.07 L1297.84 1136.48 L1298.43 1140.44 L1299.03 1144.91 L1299.62 1149.88 L1300.21 1155.31 L1300.80 1161.18 L1301.39 1167.46 L1301.98 1174.10 L1302.58 1181.08 L1303.17 1188.36 L1303.76 1195.89 L1304.35 1203.65 L1304.94 1211.58 L1305.53 1219.64 L1306.13 1227.81 L1306.72 1236.03 L1307.31 1244.27 L1307.90 1252.49 L1308.49 1260.66 L1309.09 1268.73 L1309.68 1276.67 L1310.27 1284.46 L1310.86 1292.06 L1311.45 1299.45 L1312.04 1306.60 L1312.64 1313.49 L1313.23 1320.10 L1313.82 1326.41 L1314.41 1332.40 L1315.00 1338.08 L1315.60 1343.42 L1316.19 1348.42 L1316.78 1353.07 L1317.37 1357.38 L1317.96 1361.34 L1318.55 1364.96 L1319.15 1368.24 L1319.74 1371.18 L1320.33 1373.80 L1320.92 1376.10 L1321.51 1378.10 L1322.10 1379.80 L1322.70 1381.22 L1323.29 1382.37 L1323.88 1383.27 L1324.47 1383.94 L1325.06 1384.38 L1325.66 1384.61 L1326.25 1384.66 L1326.84 1384.54 L1327.43 1384.25 L1328.02 1383.83 L1328.61 1383.29 L1329.21 1382.63 L1329.80 1381.89 L1330.39 1381.06 L1330.98 1380.17 L1331.57 1379.24 L1332.16 1378.26 L1332.76 1377.27 L1333.35 1376.26 L1333.94 1375.25 L1334.53 1374.26 L1335.12 1373.28 L1335.72 1372.34 L1336.31 1371.43 L1336.90 1370.57 L1337.49 1369.77 L1338.08 1369.02 L1338.67 1368.35 L1339.27 1367.74 L1339.86 1367.22 L1340.45 1366.77 L1341.04 1366.41 L1341.63 1366.13 L1342.23 1365.94 L1342.82 1365.84 L1343.41 1365.83 L1344.00 1365.91 L1344.59 1366.08 L1345.18 1366.34 L1345.78 1366.68 L1346.37 1367.10 L1346.96 1367.61 L1347.55 1368.19 L1348.14 1368.85 L1348.73 1369.57 L1349.33 1370.35 L1349.92 1371.19 L1350.51 1372.08 L1351.10 1373.00 L1351.69 1373.96 L1352.29 1374.94 L1352.88 1375.93 L1353.47 1376.93 L1354.06 1377.92 L1354.65 1378.89 L1355.24 1379.83 L1355.84 1380.72 L1356.43 1381.56 L1357.02 1382.32 L1357.61 1383.01 L1358.20 1383.59 L1358.79 1384.07 L1359.39 1384.41 L1359.98 1384.62 L1360.57 1384.66 L1361.16 1384.54 L1361.75 1384.23 L1362.35 1383.71 L1362.94 1382.99 L1363.53 1382.03 L1364.12 1380.83 L1364.71 1379.38 L1365.30 1377.66 L1365.90 1375.66 L1366.49 1373.37 L1367.08 1370.80 L1367.67 1367.91 L1368.26 1364.73 L1368.86 1361.22 L1369.45 1357.41 L1370.04 1353.28 L1370.63 1348.83 L1371.22 1344.07 L1371.81 1339.01 L1372.41 1333.65 L1373.00 1327.99 L1373.59 1322.06 L1374.18 1315.86 L1374.77 1309.42 L1375.36 1302.74 L1375.96 1295.84 L1376.55 1288.76 L1377.14 1281.51 L1377.73 1274.11 L1378.32 1266.59 L1378.92 1258.99 L1379.51 1251.32 L1380.10 1243.63 L1380.69 1235.93 L1381.28 1228.27 L1381.87 1220.67 L1382.47 1213.17 L1383.06 1205.79 L1383.65 1198.57 L1384.24 1191.55 L1384.83 1184.74 L1385.42 1178.19 L1386.02 1171.91 L1386.61 1165.94 L1387.20 1160.30 L1387.79 1155.02 L1388.38 1150.11 L1388.98 1145.59 L1389.57 1141.49 L1390.16 1137.80 L1390.75 1134.56 L1391.34 1131.76 L1391.93 1129.42 L1392.53 1127.53 L1393.12 1126.11 L1393.71 1125.14 L1394.30 1124.63 L1394.89 1124.56 L1395.49 1124.94 L1396.08 1125.74 L1396.67 1126.97 L1397.26 1128.60 L1397.85 1130.61 L1398.44 1133.00 L1399.04 1135.73 L1399.63 1138.80 L1400.22 1142.17 L1400.81 1145.83 L1401.40 1149.75 L1401.99 1153.91 L1402.59 1158.29 L1403.18 1162.86 L1403.77 1167.59 L1404.36 1172.47 L1404.95 1177.46 L1405.55 1182.55 L1406.14 1187.72 L1406.73 1192.94 L1407.32 1198.18 L1407.91 1203.44 L1408.50 1208.69 L1409.10 1213.92 L1409.69 1219.10 L1410.28 1224.22 L1410.87 1229.27 L1411.46 1234.23 L1412.05 1239.09 L1412.65 1243.84 L1413.24 1248.47 L1413.83 1252.98 L1414.42 1257.34 L1415.01 1261.56 L1415.61 1265.63 L1416.20 1269.54 L1416.79 1273.30 L1417.38 1276.89 L1417.97 1280.32 L1418.56 1283.58 L1419.16 1286.68 L1419.75 1289.60 L1420.34 1292.36 L1420.93 1294.95 L1421.52 1297.38 L1422.12 1299.63 L1422.71 1301.73 L1423.30 1303.65 L1423.89 1305.42 L1424.48 1307.03 L1425.07 1308.47 L1425.67 1309.76 L1426.26 1310.90 L1426.85 1311.87 L1427.44 1312.70 L1428.03 1313.38 L1428.62 1313.90 L1429.22 1314.27 L1429.81 1314.50 L1430.40 1314.57" stroke="#f00" stroke-width="3.0" fill="none" stroke-linejoin="round" clip-path="url(#cpf)"/>
<rect x="897.80" y="1059.50" width="532.60" height="390.20" fill="none" stroke="#000" stroke-width="1.75"/>
<line x1="897.80" y1="1449.70" x2="897.80" y2="1458.30" stroke="#000" stroke-width="1.6"/>
<text x="897.80" y="1481.40" class="tk" text-anchor="middle">0</text>
<line x1="1030.95" y1="1449.70" x2="1030.95" y2="1458.30" stroke="#000" stroke-width="1.6"/>
<text x="1030.95" y="1481.40" class="tk" text-anchor="middle">50</text>
<line x1="1164.10" y1="1449.70" x2="1164.10" y2="1458.30" stroke="#000" stroke-width="1.6"/>
<text x="1164.10" y="1481.40" class="tk" text-anchor="middle">100</text>
<line x1="1297.25" y1="1449.70" x2="1297.25" y2="1458.30" stroke="#000" stroke-width="1.6"/>
<text x="1297.25" y="1481.40" class="tk" text-anchor="middle">150</text>
<line x1="1430.40" y1="1449.70" x2="1430.40" y2="1458.30" stroke="#000" stroke-width="1.6"/>
<text x="1430.40" y="1481.40" class="tk" text-anchor="middle">200</text>
<line x1="964.38" y1="1449.70" x2="964.38" y2="1454.30" stroke="#000" stroke-width="1.5"/>
<line x1="1097.53" y1="1449.70" x2="1097.53" y2="1454.30" stroke="#000" stroke-width="1.5"/>
<line x1="1230.67" y1="1449.70" x2="1230.67" y2="1454.30" stroke="#000" stroke-width="1.5"/>
<line x1="1363.83" y1="1449.70" x2="1363.83" y2="1454.30" stroke="#000" stroke-width="1.5"/>
<line x1="889.40" y1="1059.50" x2="897.80" y2="1059.50" stroke="#000" stroke-width="1.6"/>
<text x="883.80" y="1065.40" class="tk" text-anchor="end">1.15</text>
<line x1="889.40" y1="1124.53" x2="897.80" y2="1124.53" stroke="#000" stroke-width="1.6"/>
<text x="883.80" y="1130.43" class="tk" text-anchor="end">1.10</text>
<line x1="889.40" y1="1189.57" x2="897.80" y2="1189.57" stroke="#000" stroke-width="1.6"/>
<text x="883.80" y="1195.47" class="tk" text-anchor="end">1.05</text>
<line x1="889.40" y1="1254.60" x2="897.80" y2="1254.60" stroke="#000" stroke-width="1.6"/>
<text x="883.80" y="1260.50" class="tk" text-anchor="end">1.00</text>
<line x1="889.40" y1="1319.63" x2="897.80" y2="1319.63" stroke="#000" stroke-width="1.6"/>
<text x="883.80" y="1325.53" class="tk" text-anchor="end">0.95</text>
<line x1="889.40" y1="1384.67" x2="897.80" y2="1384.67" stroke="#000" stroke-width="1.6"/>
<text x="883.80" y="1390.57" class="tk" text-anchor="end">0.90</text>
<line x1="889.40" y1="1449.70" x2="897.80" y2="1449.70" stroke="#000" stroke-width="1.6"/>
<text x="883.80" y="1455.60" class="tk" text-anchor="end">0.85</text>
<line x1="893.20" y1="1092.02" x2="897.80" y2="1092.02" stroke="#000" stroke-width="1.5"/>
<line x1="893.20" y1="1157.05" x2="897.80" y2="1157.05" stroke="#000" stroke-width="1.5"/>
<line x1="893.20" y1="1222.08" x2="897.80" y2="1222.08" stroke="#000" stroke-width="1.5"/>
<line x1="893.20" y1="1287.12" x2="897.80" y2="1287.12" stroke="#000" stroke-width="1.5"/>
<line x1="893.20" y1="1352.15" x2="897.80" y2="1352.15" stroke="#000" stroke-width="1.5"/>
<line x1="893.20" y1="1417.18" x2="897.80" y2="1417.18" stroke="#000" stroke-width="1.5"/>
<text x="1164.30" y="1523.90" class="ax" text-anchor="middle">t / ps</text>
<text transform="translate(809.20 1257.90) rotate(-90)" class="ax" text-anchor="middle">Normalized intensity I(t, x)</text>
<text x="916.2" y="1101.3" class="pl">(f)</text>
</svg>
</body></html>
